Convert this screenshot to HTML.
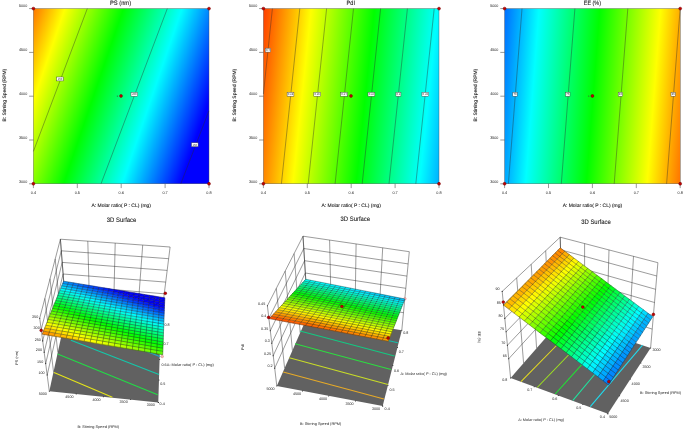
<!DOCTYPE html>
<html lang="en"><head><meta charset="utf-8"><title>Response surface plots</title>
<style>html,body{margin:0;padding:0;background:#fff}svg{display:block}svg text{font-family:"Liberation Sans",sans-serif}</style></head>
<body>
<svg width="685" height="430" viewBox="0 0 685 430" text-rendering="geometricPrecision">
<rect width="685" height="430" fill="#fff"/>
<linearGradient id="g1" gradientUnits="userSpaceOnUse" x1="9.2" y1="0.3" x2="218.9" y2="71.9">
<stop offset="0.0" stop-color="#ff0000"/>
<stop offset="0.25" stop-color="#ffff00"/>
<stop offset="0.5" stop-color="#00ff00"/>
<stop offset="0.75" stop-color="#00ffff"/>
<stop offset="1.0" stop-color="#0000ff"/>
</linearGradient>
<rect x="33.4" y="8.6" width="175.6" height="175.2" fill="url(#g1)" stroke="#4a4a4a" stroke-width="0.4"/>
<line x1="87.3" y1="8.6" x2="33.4" y2="151.4" stroke="#2a2a2a" stroke-width="0.4"/>
<line x1="167.3" y1="8.6" x2="101" y2="183.8" stroke="#2a2a2a" stroke-width="0.4"/>
<line x1="180.8" y1="183.8" x2="208.9" y2="110.9" stroke="#2a2a2a" stroke-width="0.4"/>
<line x1="29.1" y1="8.6" x2="33.4" y2="8.6" stroke="#333" stroke-width="0.5"/>
<text x="27.2" y="7.4" font-size="3.9" text-anchor="end" fill="#202020" textLength="8.2" lengthAdjust="spacingAndGlyphs">5000</text>
<line x1="33.4" y1="183.8" x2="33.4" y2="188.1" stroke="#333" stroke-width="0.5"/>
<text x="33.4" y="193.7" font-size="3.9" text-anchor="middle" fill="#202020" textLength="5.3" lengthAdjust="spacingAndGlyphs">0.4</text>
<line x1="29.1" y1="52.4" x2="33.4" y2="52.4" stroke="#333" stroke-width="0.5"/>
<text x="27.2" y="51.2" font-size="3.9" text-anchor="end" fill="#202020" textLength="8.2" lengthAdjust="spacingAndGlyphs">4500</text>
<line x1="77.3" y1="183.8" x2="77.3" y2="188.1" stroke="#333" stroke-width="0.5"/>
<text x="77.3" y="193.7" font-size="3.9" text-anchor="middle" fill="#202020" textLength="5.3" lengthAdjust="spacingAndGlyphs">0.5</text>
<line x1="29.1" y1="96.2" x2="33.4" y2="96.2" stroke="#333" stroke-width="0.5"/>
<text x="27.2" y="95" font-size="3.9" text-anchor="end" fill="#202020" textLength="8.2" lengthAdjust="spacingAndGlyphs">4000</text>
<line x1="121.2" y1="183.8" x2="121.2" y2="188.1" stroke="#333" stroke-width="0.5"/>
<text x="121.2" y="193.7" font-size="3.9" text-anchor="middle" fill="#202020" textLength="5.3" lengthAdjust="spacingAndGlyphs">0.6</text>
<line x1="29.1" y1="140" x2="33.4" y2="140" stroke="#333" stroke-width="0.5"/>
<text x="27.2" y="138.8" font-size="3.9" text-anchor="end" fill="#202020" textLength="8.2" lengthAdjust="spacingAndGlyphs">3500</text>
<line x1="165.1" y1="183.8" x2="165.1" y2="188.1" stroke="#333" stroke-width="0.5"/>
<text x="165.1" y="193.7" font-size="3.9" text-anchor="middle" fill="#202020" textLength="5.3" lengthAdjust="spacingAndGlyphs">0.7</text>
<line x1="29.1" y1="183.8" x2="33.4" y2="183.8" stroke="#333" stroke-width="0.5"/>
<text x="27.2" y="182.6" font-size="3.9" text-anchor="end" fill="#202020" textLength="8.2" lengthAdjust="spacingAndGlyphs">3000</text>
<line x1="209" y1="183.8" x2="209" y2="188.1" stroke="#333" stroke-width="0.5"/>
<text x="209" y="193.7" font-size="3.9" text-anchor="middle" fill="#202020" textLength="5.3" lengthAdjust="spacingAndGlyphs">0.8</text>
<text x="121.2" y="206.6" font-size="4.9" text-anchor="middle" fill="#1a1a1a" stroke="#1a1a1a" stroke-width="0.1" textLength="59.5" lengthAdjust="spacingAndGlyphs">A: Molar ratio( P : CL) (mg)</text>
<text x="6" y="95.2" font-size="4.9" text-anchor="middle" fill="#1a1a1a" stroke="#1a1a1a" stroke-width="0.1" transform="rotate(-90 6 95.2)" textLength="52.8" lengthAdjust="spacingAndGlyphs">B: Stirring Speed (RPM)</text>
<text x="120.5" y="5.1" font-size="6.3" text-anchor="middle" fill="#1a1a1a" stroke="#1a1a1a" stroke-width="0.1" textLength="21.2" lengthAdjust="spacingAndGlyphs">PS (nm)</text>
<rect x="56.7" y="77" width="6.6" height="3.9" fill="#fff" stroke="#444" stroke-width="0.45"/>
<text x="60" y="80" font-size="2.8" text-anchor="middle" fill="#333">250</text>
<rect x="131" y="92.3" width="6.6" height="3.9" fill="#fff" stroke="#444" stroke-width="0.45"/>
<text x="134.3" y="95.3" font-size="2.8" text-anchor="middle" fill="#333">200</text>
<rect x="191.5" y="142.8" width="6.6" height="3.9" fill="#fff" stroke="#444" stroke-width="0.45"/>
<text x="194.8" y="145.7" font-size="2.8" text-anchor="middle" fill="#333">150</text>
<circle cx="33.4" cy="8.6" r="1.45" fill="#c40000" stroke="#6e0000" stroke-width="0.5"/>
<circle cx="209" cy="8.6" r="1.45" fill="#c40000" stroke="#6e0000" stroke-width="0.5"/>
<circle cx="33.4" cy="183.8" r="1.45" fill="#c40000" stroke="#6e0000" stroke-width="0.5"/>
<circle cx="209" cy="183.8" r="1.45" fill="#c40000" stroke="#6e0000" stroke-width="0.5"/>
<circle cx="121" cy="96" r="1.45" fill="#c40000" stroke="#6e0000" stroke-width="0.5"/>
<text x="117.3" y="96.9" font-size="2.4" text-anchor="middle" fill="#3c5a3c">5</text>
<linearGradient id="g2" gradientUnits="userSpaceOnUse" x1="248.1" y1="7" x2="498.4" y2="33.2">
<stop offset="0.0" stop-color="#ff0000"/>
<stop offset="0.25" stop-color="#ffff00"/>
<stop offset="0.5" stop-color="#00ff00"/>
<stop offset="0.75" stop-color="#00ffff"/>
<stop offset="1.0" stop-color="#0000ff"/>
</linearGradient>
<rect x="263.4" y="8.6" width="175.6" height="175.2" fill="url(#g2)" stroke="#4a4a4a" stroke-width="0.4"/>
<line x1="272.4" y1="8.6" x2="263.4" y2="94" stroke="#2a2a2a" stroke-width="0.4"/>
<line x1="299.8" y1="8.6" x2="281.4" y2="183.8" stroke="#2a2a2a" stroke-width="0.4"/>
<line x1="326.6" y1="8.6" x2="308.2" y2="183.8" stroke="#2a2a2a" stroke-width="0.4"/>
<line x1="353.5" y1="8.6" x2="335.1" y2="183.8" stroke="#2a2a2a" stroke-width="0.4"/>
<line x1="380.6" y1="8.6" x2="362.2" y2="183.8" stroke="#2a2a2a" stroke-width="0.4"/>
<line x1="407.4" y1="8.6" x2="389" y2="183.8" stroke="#2a2a2a" stroke-width="0.4"/>
<line x1="434.2" y1="8.6" x2="415.8" y2="183.8" stroke="#2a2a2a" stroke-width="0.4"/>
<line x1="259.1" y1="8.6" x2="263.4" y2="8.6" stroke="#333" stroke-width="0.5"/>
<text x="257.2" y="7.4" font-size="3.9" text-anchor="end" fill="#202020" textLength="8.2" lengthAdjust="spacingAndGlyphs">5000</text>
<line x1="263.4" y1="183.8" x2="263.4" y2="188.1" stroke="#333" stroke-width="0.5"/>
<text x="263.4" y="193.7" font-size="3.9" text-anchor="middle" fill="#202020" textLength="5.3" lengthAdjust="spacingAndGlyphs">0.4</text>
<line x1="259.1" y1="52.4" x2="263.4" y2="52.4" stroke="#333" stroke-width="0.5"/>
<text x="257.2" y="51.2" font-size="3.9" text-anchor="end" fill="#202020" textLength="8.2" lengthAdjust="spacingAndGlyphs">4500</text>
<line x1="307.3" y1="183.8" x2="307.3" y2="188.1" stroke="#333" stroke-width="0.5"/>
<text x="307.3" y="193.7" font-size="3.9" text-anchor="middle" fill="#202020" textLength="5.3" lengthAdjust="spacingAndGlyphs">0.5</text>
<line x1="259.1" y1="96.2" x2="263.4" y2="96.2" stroke="#333" stroke-width="0.5"/>
<text x="257.2" y="95" font-size="3.9" text-anchor="end" fill="#202020" textLength="8.2" lengthAdjust="spacingAndGlyphs">4000</text>
<line x1="351.2" y1="183.8" x2="351.2" y2="188.1" stroke="#333" stroke-width="0.5"/>
<text x="351.2" y="193.7" font-size="3.9" text-anchor="middle" fill="#202020" textLength="5.3" lengthAdjust="spacingAndGlyphs">0.6</text>
<line x1="259.1" y1="140" x2="263.4" y2="140" stroke="#333" stroke-width="0.5"/>
<text x="257.2" y="138.8" font-size="3.9" text-anchor="end" fill="#202020" textLength="8.2" lengthAdjust="spacingAndGlyphs">3500</text>
<line x1="395.1" y1="183.8" x2="395.1" y2="188.1" stroke="#333" stroke-width="0.5"/>
<text x="395.1" y="193.7" font-size="3.9" text-anchor="middle" fill="#202020" textLength="5.3" lengthAdjust="spacingAndGlyphs">0.7</text>
<line x1="259.1" y1="183.8" x2="263.4" y2="183.8" stroke="#333" stroke-width="0.5"/>
<text x="257.2" y="182.6" font-size="3.9" text-anchor="end" fill="#202020" textLength="8.2" lengthAdjust="spacingAndGlyphs">3000</text>
<line x1="439" y1="183.8" x2="439" y2="188.1" stroke="#333" stroke-width="0.5"/>
<text x="439" y="193.7" font-size="3.9" text-anchor="middle" fill="#202020" textLength="5.3" lengthAdjust="spacingAndGlyphs">0.8</text>
<text x="351.2" y="206.6" font-size="4.9" text-anchor="middle" fill="#1a1a1a" stroke="#1a1a1a" stroke-width="0.1" textLength="59.5" lengthAdjust="spacingAndGlyphs">A: Molar ratio( P : CL) (mg)</text>
<text x="236" y="95.2" font-size="4.9" text-anchor="middle" fill="#1a1a1a" stroke="#1a1a1a" stroke-width="0.1" transform="rotate(-90 236 95.2)" textLength="52.8" lengthAdjust="spacingAndGlyphs">B: Stirring Speed (RPM)</text>
<text x="350.8" y="5.1" font-size="6.3" text-anchor="middle" fill="#1a1a1a" stroke="#1a1a1a" stroke-width="0.1" textLength="8.4" lengthAdjust="spacingAndGlyphs">PdI</text>
<rect x="265.2" y="48.2" width="5.4" height="3.9" fill="#fff" stroke="#444" stroke-width="0.45"/>
<text x="267.9" y="51.2" font-size="2.8" text-anchor="middle" fill="#333">0.4</text>
<rect x="287.1" y="92.3" width="6.8" height="3.9" fill="#fff" stroke="#444" stroke-width="0.45"/>
<text x="290.5" y="95.3" font-size="2.8" text-anchor="middle" fill="#333">0.38</text>
<rect x="313.8" y="92.3" width="6.8" height="3.9" fill="#fff" stroke="#444" stroke-width="0.45"/>
<text x="317.2" y="95.3" font-size="2.8" text-anchor="middle" fill="#333">0.36</text>
<rect x="340.6" y="92.3" width="6.8" height="3.9" fill="#fff" stroke="#444" stroke-width="0.45"/>
<text x="344" y="95.3" font-size="2.8" text-anchor="middle" fill="#333">0.34</text>
<rect x="368" y="92.3" width="6.8" height="3.9" fill="#fff" stroke="#444" stroke-width="0.45"/>
<text x="371.4" y="95.3" font-size="2.8" text-anchor="middle" fill="#333">0.32</text>
<rect x="395.9" y="92.3" width="5" height="3.9" fill="#fff" stroke="#444" stroke-width="0.45"/>
<text x="398.4" y="95.3" font-size="2.8" text-anchor="middle" fill="#333">0.3</text>
<rect x="421.9" y="92.3" width="6.8" height="3.9" fill="#fff" stroke="#444" stroke-width="0.45"/>
<text x="425.3" y="95.3" font-size="2.8" text-anchor="middle" fill="#333">0.28</text>
<circle cx="263.4" cy="8.6" r="1.45" fill="#c40000" stroke="#6e0000" stroke-width="0.5"/>
<circle cx="439" cy="8.6" r="1.45" fill="#c40000" stroke="#6e0000" stroke-width="0.5"/>
<circle cx="263.4" cy="183.8" r="1.45" fill="#c40000" stroke="#6e0000" stroke-width="0.5"/>
<circle cx="439" cy="183.8" r="1.45" fill="#c40000" stroke="#6e0000" stroke-width="0.5"/>
<circle cx="351" cy="96" r="1.45" fill="#c40000" stroke="#6e0000" stroke-width="0.5"/>
<text x="347.3" y="96.9" font-size="2.4" text-anchor="middle" fill="#3c5a3c">5</text>
<linearGradient id="g3" gradientUnits="userSpaceOnUse" x1="720.2" y1="25.3" x2="478.5" y2="6.6">
<stop offset="0.0" stop-color="#ff0000"/>
<stop offset="0.25" stop-color="#ffff00"/>
<stop offset="0.5" stop-color="#00ff00"/>
<stop offset="0.75" stop-color="#00ffff"/>
<stop offset="1.0" stop-color="#0000ff"/>
</linearGradient>
<rect x="504.6" y="8.6" width="175.6" height="175.2" fill="url(#g3)" stroke="#4a4a4a" stroke-width="0.4"/>
<line x1="522" y1="8.6" x2="508.4" y2="183.8" stroke="#2a2a2a" stroke-width="0.4"/>
<line x1="574.9" y1="8.6" x2="561.3" y2="183.8" stroke="#2a2a2a" stroke-width="0.4"/>
<line x1="627.8" y1="8.6" x2="614.2" y2="183.8" stroke="#2a2a2a" stroke-width="0.4"/>
<line x1="680.2" y1="8.6" x2="666.6" y2="183.8" stroke="#2a2a2a" stroke-width="0.4"/>
<line x1="500.3" y1="8.6" x2="504.6" y2="8.6" stroke="#333" stroke-width="0.5"/>
<text x="498.4" y="7.4" font-size="3.9" text-anchor="end" fill="#202020" textLength="8.2" lengthAdjust="spacingAndGlyphs">5000</text>
<line x1="504.6" y1="183.8" x2="504.6" y2="188.1" stroke="#333" stroke-width="0.5"/>
<text x="504.6" y="193.7" font-size="3.9" text-anchor="middle" fill="#202020" textLength="5.3" lengthAdjust="spacingAndGlyphs">0.4</text>
<line x1="500.3" y1="52.4" x2="504.6" y2="52.4" stroke="#333" stroke-width="0.5"/>
<text x="498.4" y="51.2" font-size="3.9" text-anchor="end" fill="#202020" textLength="8.2" lengthAdjust="spacingAndGlyphs">4500</text>
<line x1="548.5" y1="183.8" x2="548.5" y2="188.1" stroke="#333" stroke-width="0.5"/>
<text x="548.5" y="193.7" font-size="3.9" text-anchor="middle" fill="#202020" textLength="5.3" lengthAdjust="spacingAndGlyphs">0.5</text>
<line x1="500.3" y1="96.2" x2="504.6" y2="96.2" stroke="#333" stroke-width="0.5"/>
<text x="498.4" y="95" font-size="3.9" text-anchor="end" fill="#202020" textLength="8.2" lengthAdjust="spacingAndGlyphs">4000</text>
<line x1="592.4" y1="183.8" x2="592.4" y2="188.1" stroke="#333" stroke-width="0.5"/>
<text x="592.4" y="193.7" font-size="3.9" text-anchor="middle" fill="#202020" textLength="5.3" lengthAdjust="spacingAndGlyphs">0.6</text>
<line x1="500.3" y1="140" x2="504.6" y2="140" stroke="#333" stroke-width="0.5"/>
<text x="498.4" y="138.8" font-size="3.9" text-anchor="end" fill="#202020" textLength="8.2" lengthAdjust="spacingAndGlyphs">3500</text>
<line x1="636.3" y1="183.8" x2="636.3" y2="188.1" stroke="#333" stroke-width="0.5"/>
<text x="636.3" y="193.7" font-size="3.9" text-anchor="middle" fill="#202020" textLength="5.3" lengthAdjust="spacingAndGlyphs">0.7</text>
<line x1="500.3" y1="183.8" x2="504.6" y2="183.8" stroke="#333" stroke-width="0.5"/>
<text x="498.4" y="182.6" font-size="3.9" text-anchor="end" fill="#202020" textLength="8.2" lengthAdjust="spacingAndGlyphs">3000</text>
<line x1="680.2" y1="183.8" x2="680.2" y2="188.1" stroke="#333" stroke-width="0.5"/>
<text x="680.2" y="193.7" font-size="3.9" text-anchor="middle" fill="#202020" textLength="5.3" lengthAdjust="spacingAndGlyphs">0.8</text>
<text x="592.4" y="206.6" font-size="4.9" text-anchor="middle" fill="#1a1a1a" stroke="#1a1a1a" stroke-width="0.1" textLength="59.5" lengthAdjust="spacingAndGlyphs">A: Molar ratio( P : CL) (mg)</text>
<text x="477.2" y="95.2" font-size="4.9" text-anchor="middle" fill="#1a1a1a" stroke="#1a1a1a" stroke-width="0.1" transform="rotate(-90 477.2 95.2)" textLength="52.8" lengthAdjust="spacingAndGlyphs">B: Stirring Speed (RPM)</text>
<text x="592.4" y="5.1" font-size="6.3" text-anchor="middle" fill="#1a1a1a" stroke="#1a1a1a" stroke-width="0.1" textLength="17.2" lengthAdjust="spacingAndGlyphs">EE (%)</text>
<rect x="512.8" y="92.3" width="4.4" height="3.9" fill="#fff" stroke="#444" stroke-width="0.45"/>
<text x="515" y="95.3" font-size="2.8" text-anchor="middle" fill="#333">70</text>
<rect x="565.6" y="92.3" width="4.4" height="3.9" fill="#fff" stroke="#444" stroke-width="0.45"/>
<text x="567.8" y="95.3" font-size="2.8" text-anchor="middle" fill="#333">75</text>
<rect x="618.2" y="92.3" width="4.4" height="3.9" fill="#fff" stroke="#444" stroke-width="0.45"/>
<text x="620.4" y="95.3" font-size="2.8" text-anchor="middle" fill="#333">80</text>
<rect x="671" y="92.3" width="4.4" height="3.9" fill="#fff" stroke="#444" stroke-width="0.45"/>
<text x="673.2" y="95.3" font-size="2.8" text-anchor="middle" fill="#333">85</text>
<circle cx="504.6" cy="8.6" r="1.45" fill="#c40000" stroke="#6e0000" stroke-width="0.5"/>
<circle cx="680.2" cy="8.6" r="1.45" fill="#c40000" stroke="#6e0000" stroke-width="0.5"/>
<circle cx="504.6" cy="183.8" r="1.45" fill="#c40000" stroke="#6e0000" stroke-width="0.5"/>
<circle cx="680.2" cy="183.8" r="1.45" fill="#c40000" stroke="#6e0000" stroke-width="0.5"/>
<circle cx="592.4" cy="96" r="1.45" fill="#c40000" stroke="#6e0000" stroke-width="0.5"/>
<text x="588.7" y="96.9" font-size="2.4" text-anchor="middle" fill="#3c5a3c">5</text>
<text x="121.6" y="222" font-size="6.5" text-anchor="middle" fill="#1a1a1a" stroke="#1a1a1a" stroke-width="0.1" textLength="29.5" lengthAdjust="spacingAndGlyphs">3D Surface</text>
<path d="M39.7 318.2L49.3 391.2M44.9 298.4L53.5 371.8M50 278.7L57.8 352.4M55.2 258.9L62 333.1M60.4 239.2L66.2 313.7M39.7 318.2L60.4 239.2M41.2 329.6L61.3 250.8M42.7 340.9L62.2 262.4M44.2 352.3L63.1 274M45.7 363.6L64 285.5M47.2 375L64.9 297.1" fill="none" stroke="#222" stroke-width="0.45"/>
<path d="M60.4 239.2L66.2 313.7M87.8 241.1L89.8 315.8M115.2 243.1L113.4 318M142.7 245.1L137.1 320.2M170.1 247L160.7 322.3M60.4 239.2L170.1 247M61.3 250.8L168.6 258.7M62.2 262.4L167.2 270.4M63.1 274L165.7 282.1M64 285.5L164.3 293.8M64.9 297.1L162.8 305.5" fill="none" stroke="#222" stroke-width="0.45"/>
<polygon points="66.2,313.7 160.7,322.3 158.3,402.4 49.3,391.2" fill="#616161" stroke="none" stroke-width="0.5"/>
<line x1="54" y1="372.4" x2="112.4" y2="397.3" stroke="#e6e619" stroke-width="1.05"/>
<line x1="57.6" y1="354" x2="157.7" y2="394.8" stroke="#22dc46" stroke-width="1.05"/>
<line x1="70.9" y1="340.2" x2="159" y2="374.4" stroke="#14c8aa" stroke-width="1.05"/>
<line x1="130" y1="345" x2="160.4" y2="356.7" stroke="#1eaac8" stroke-width="1.05"/>
<circle cx="39.7" cy="318.2" r="0.55" fill="#222"/>
<circle cx="41.2" cy="329.6" r="0.55" fill="#222"/>
<circle cx="42.7" cy="340.9" r="0.55" fill="#222"/>
<circle cx="44.2" cy="352.3" r="0.55" fill="#222"/>
<circle cx="45.7" cy="363.6" r="0.55" fill="#222"/>
<circle cx="47.2" cy="375" r="0.55" fill="#222"/>
<circle cx="49.3" cy="391.2" r="0.5" fill="#222"/>
<circle cx="158.3" cy="402.4" r="0.5" fill="#222"/>
<circle cx="76.2" cy="394" r="0.5" fill="#222"/>
<circle cx="159" cy="380.1" r="0.5" fill="#222"/>
<circle cx="103.4" cy="396.8" r="0.5" fill="#222"/>
<circle cx="159.6" cy="359.4" r="0.5" fill="#222"/>
<circle cx="130.7" cy="399.6" r="0.5" fill="#222"/>
<circle cx="160.2" cy="340.2" r="0.5" fill="#222"/>
<circle cx="158.3" cy="402.4" r="0.5" fill="#222"/>
<circle cx="160.7" cy="322.3" r="0.5" fill="#222"/>
<circle cx="162.2" cy="356.5" r="1.3" fill="#f4b6b6" stroke="#d08080" stroke-width="0.5"/>
<g stroke-width="0.3" stroke-linejoin="round">
<path d="M42.2 334.2L48.2 335.2L49.3 332.1L43.4 331.1Z" fill="#ff9000" stroke="#ff9000"/>
<path d="M43.4 331.1L49.3 332.1L50.5 329.1L44.6 328.1Z" fill="#ffb600" stroke="#ffb600"/>
<path d="M44.6 328.1L50.5 329.1L51.6 326.2L45.8 325.2Z" fill="#ffdc00" stroke="#ffdc00"/>
<path d="M45.8 325.2L51.6 326.2L52.8 323.2L47 322.3Z" fill="#fbff00" stroke="#fbff00"/>
<path d="M47 322.3L52.8 323.2L53.9 320.4L48.2 319.4Z" fill="#d5ff00" stroke="#d5ff00"/>
<path d="M48.2 319.4L53.9 320.4L55 317.5L49.3 316.6Z" fill="#afff00" stroke="#afff00"/>
<path d="M49.3 316.6L55 317.5L56 314.8L50.4 313.8Z" fill="#89ff00" stroke="#89ff00"/>
<path d="M50.4 313.8L56 314.8L57.1 312L51.5 311.1Z" fill="#62ff00" stroke="#62ff00"/>
<path d="M51.5 311.1L57.1 312L58.1 309.3L52.6 308.4Z" fill="#3cff00" stroke="#3cff00"/>
<path d="M52.6 308.4L58.1 309.3L59.1 306.6L53.7 305.7Z" fill="#16ff00" stroke="#16ff00"/>
<path d="M53.7 305.7L59.1 306.6L60.2 304L54.7 303.1Z" fill="#00ff10" stroke="#00ff10"/>
<path d="M54.7 303.1L60.2 304L61.2 301.4L55.8 300.5Z" fill="#00ff37" stroke="#00ff37"/>
<path d="M55.8 300.5L61.2 301.4L62.1 298.9L56.8 298Z" fill="#00ff5d" stroke="#00ff5d"/>
<path d="M56.8 298L62.1 298.9L63.1 296.4L57.8 295.5Z" fill="#00ff83" stroke="#00ff83"/>
<path d="M57.8 295.5L63.1 296.4L64 293.9L58.8 293Z" fill="#00ffa9" stroke="#00ffa9"/>
<path d="M58.8 293L64 293.9L65 291.5L59.8 290.6Z" fill="#00ffd0" stroke="#00ffd0"/>
<path d="M59.8 290.6L65 291.5L65.9 289.1L60.8 288.2Z" fill="#00fff6" stroke="#00fff6"/>
<path d="M60.8 288.2L65.9 289.1L66.8 286.7L61.7 285.8Z" fill="#00e2ff" stroke="#00e2ff"/>
<path d="M61.7 285.8L66.8 286.7L67.7 284.3L62.7 283.5Z" fill="#00bcff" stroke="#00bcff"/>
<path d="M62.7 283.5L67.7 284.3L68.6 282L63.6 281.2Z" fill="#0095ff" stroke="#0095ff"/>
<path d="M48.2 335.2L54.1 336.2L55.3 333.2L49.3 332.1Z" fill="#ff9f00" stroke="#ff9f00"/>
<path d="M49.3 332.1L55.3 333.2L56.4 330.1L50.5 329.1Z" fill="#ffc500" stroke="#ffc500"/>
<path d="M50.5 329.1L56.4 330.1L57.5 327.1L51.6 326.2Z" fill="#ffeb00" stroke="#ffeb00"/>
<path d="M51.6 326.2L57.5 327.1L58.5 324.2L52.8 323.2Z" fill="#edff00" stroke="#edff00"/>
<path d="M52.8 323.2L58.5 324.2L59.6 321.3L53.9 320.4Z" fill="#c7ff00" stroke="#c7ff00"/>
<path d="M53.9 320.4L59.6 321.3L60.6 318.5L55 317.5Z" fill="#a0ff00" stroke="#a0ff00"/>
<path d="M55 317.5L60.6 318.5L61.6 315.7L56 314.8Z" fill="#7aff00" stroke="#7aff00"/>
<path d="M56 314.8L61.6 315.7L62.6 312.9L57.1 312Z" fill="#54ff00" stroke="#54ff00"/>
<path d="M57.1 312L62.6 312.9L63.6 310.2L58.1 309.3Z" fill="#2eff00" stroke="#2eff00"/>
<path d="M58.1 309.3L63.6 310.2L64.6 307.6L59.1 306.6Z" fill="#07ff00" stroke="#07ff00"/>
<path d="M59.1 306.6L64.6 307.6L65.6 304.9L60.2 304Z" fill="#00ff1f" stroke="#00ff1f"/>
<path d="M60.2 304L65.6 304.9L66.5 302.3L61.2 301.4Z" fill="#00ff45" stroke="#00ff45"/>
<path d="M61.2 301.4L66.5 302.3L67.5 299.8L62.1 298.9Z" fill="#00ff6b" stroke="#00ff6b"/>
<path d="M62.1 298.9L67.5 299.8L68.4 297.3L63.1 296.4Z" fill="#00ff92" stroke="#00ff92"/>
<path d="M63.1 296.4L68.4 297.3L69.3 294.8L64 293.9Z" fill="#00ffb8" stroke="#00ffb8"/>
<path d="M64 293.9L69.3 294.8L70.2 292.3L65 291.5Z" fill="#00ffde" stroke="#00ffde"/>
<path d="M65 291.5L70.2 292.3L71.1 289.9L65.9 289.1Z" fill="#00faff" stroke="#00faff"/>
<path d="M65.9 289.1L71.1 289.9L71.9 287.5L66.8 286.7Z" fill="#00d3ff" stroke="#00d3ff"/>
<path d="M66.8 286.7L71.9 287.5L72.8 285.2L67.7 284.3Z" fill="#00adff" stroke="#00adff"/>
<path d="M67.7 284.3L72.8 285.2L73.6 282.8L68.6 282Z" fill="#0087ff" stroke="#0087ff"/>
<path d="M54.1 336.2L60.1 337.2L61.2 334.2L55.3 333.2Z" fill="#ffad00" stroke="#ffad00"/>
<path d="M55.3 333.2L61.2 334.2L62.2 331.1L56.4 330.1Z" fill="#ffd300" stroke="#ffd300"/>
<path d="M56.4 330.1L62.2 331.1L63.3 328.1L57.5 327.1Z" fill="#fffa00" stroke="#fffa00"/>
<path d="M57.5 327.1L63.3 328.1L64.3 325.2L58.5 324.2Z" fill="#deff00" stroke="#deff00"/>
<path d="M58.5 324.2L64.3 325.2L65.3 322.3L59.6 321.3Z" fill="#b8ff00" stroke="#b8ff00"/>
<path d="M59.6 321.3L65.3 322.3L66.3 319.4L60.6 318.5Z" fill="#92ff00" stroke="#92ff00"/>
<path d="M60.6 318.5L66.3 319.4L67.2 316.6L61.6 315.7Z" fill="#6bff00" stroke="#6bff00"/>
<path d="M61.6 315.7L67.2 316.6L68.2 313.9L62.6 312.9Z" fill="#45ff00" stroke="#45ff00"/>
<path d="M62.6 312.9L68.2 313.9L69.1 311.2L63.6 310.2Z" fill="#1fff00" stroke="#1fff00"/>
<path d="M63.6 310.2L69.1 311.2L70.1 308.5L64.6 307.6Z" fill="#00ff07" stroke="#00ff07"/>
<path d="M64.6 307.6L70.1 308.5L71 305.8L65.6 304.9Z" fill="#00ff2d" stroke="#00ff2d"/>
<path d="M65.6 304.9L71 305.8L71.9 303.2L66.5 302.3Z" fill="#00ff54" stroke="#00ff54"/>
<path d="M66.5 302.3L71.9 303.2L72.8 300.7L67.5 299.8Z" fill="#00ff7a" stroke="#00ff7a"/>
<path d="M67.5 299.8L72.8 300.7L73.7 298.1L68.4 297.3Z" fill="#00ffa0" stroke="#00ffa0"/>
<path d="M68.4 297.3L73.7 298.1L74.5 295.6L69.3 294.8Z" fill="#00ffc6" stroke="#00ffc6"/>
<path d="M69.3 294.8L74.5 295.6L75.4 293.2L70.2 292.3Z" fill="#00ffed" stroke="#00ffed"/>
<path d="M70.2 292.3L75.4 293.2L76.2 290.8L71.1 289.9Z" fill="#00ebff" stroke="#00ebff"/>
<path d="M71.1 289.9L76.2 290.8L77 288.4L71.9 287.5Z" fill="#00c5ff" stroke="#00c5ff"/>
<path d="M71.9 287.5L77 288.4L77.9 286L72.8 285.2Z" fill="#009fff" stroke="#009fff"/>
<path d="M72.8 285.2L77.9 286L78.7 283.7L73.6 282.8Z" fill="#0078ff" stroke="#0078ff"/>
<path d="M60.1 337.2L66.1 338.3L67.1 335.2L61.2 334.2Z" fill="#ffbc00" stroke="#ffbc00"/>
<path d="M61.2 334.2L67.1 335.2L68.1 332.1L62.2 331.1Z" fill="#ffe200" stroke="#ffe200"/>
<path d="M62.2 331.1L68.1 332.1L69.1 329.1L63.3 328.1Z" fill="#f6ff00" stroke="#f6ff00"/>
<path d="M63.3 328.1L69.1 329.1L70.1 326.2L64.3 325.2Z" fill="#d0ff00" stroke="#d0ff00"/>
<path d="M64.3 325.2L70.1 326.2L71 323.3L65.3 322.3Z" fill="#a9ff00" stroke="#a9ff00"/>
<path d="M65.3 322.3L71 323.3L71.9 320.4L66.3 319.4Z" fill="#83ff00" stroke="#83ff00"/>
<path d="M66.3 319.4L71.9 320.4L72.9 317.6L67.2 316.6Z" fill="#5dff00" stroke="#5dff00"/>
<path d="M67.2 316.6L72.9 317.6L73.8 314.8L68.2 313.9Z" fill="#37ff00" stroke="#37ff00"/>
<path d="M68.2 313.9L73.8 314.8L74.7 312.1L69.1 311.2Z" fill="#10ff00" stroke="#10ff00"/>
<path d="M69.1 311.2L74.7 312.1L75.5 309.4L70.1 308.5Z" fill="#00ff16" stroke="#00ff16"/>
<path d="M70.1 308.5L75.5 309.4L76.4 306.7L71 305.8Z" fill="#00ff3c" stroke="#00ff3c"/>
<path d="M71 305.8L76.4 306.7L77.3 304.1L71.9 303.2Z" fill="#00ff62" stroke="#00ff62"/>
<path d="M71.9 303.2L77.3 304.1L78.1 301.5L72.8 300.7Z" fill="#00ff88" stroke="#00ff88"/>
<path d="M72.8 300.7L78.1 301.5L78.9 299L73.7 298.1Z" fill="#00ffaf" stroke="#00ffaf"/>
<path d="M73.7 298.1L78.9 299L79.8 296.5L74.5 295.6Z" fill="#00ffd5" stroke="#00ffd5"/>
<path d="M74.5 295.6L79.8 296.5L80.6 294L75.4 293.2Z" fill="#00fffb" stroke="#00fffb"/>
<path d="M75.4 293.2L80.6 294L81.4 291.6L76.2 290.8Z" fill="#00ddff" stroke="#00ddff"/>
<path d="M76.2 290.8L81.4 291.6L82.2 289.2L77 288.4Z" fill="#00b6ff" stroke="#00b6ff"/>
<path d="M77 288.4L82.2 289.2L82.9 286.8L77.9 286Z" fill="#0090ff" stroke="#0090ff"/>
<path d="M77.9 286L82.9 286.8L83.7 284.5L78.7 283.7Z" fill="#006aff" stroke="#006aff"/>
<path d="M66.1 338.3L72.1 339.3L73 336.2L67.1 335.2Z" fill="#ffca00" stroke="#ffca00"/>
<path d="M67.1 335.2L73 336.2L74 333.1L68.1 332.1Z" fill="#fff000" stroke="#fff000"/>
<path d="M68.1 332.1L74 333.1L74.9 330.1L69.1 329.1Z" fill="#e7ff00" stroke="#e7ff00"/>
<path d="M69.1 329.1L74.9 330.1L75.8 327.1L70.1 326.2Z" fill="#c1ff00" stroke="#c1ff00"/>
<path d="M70.1 326.2L75.8 327.1L76.7 324.2L71 323.3Z" fill="#9bff00" stroke="#9bff00"/>
<path d="M71 323.3L76.7 324.2L77.6 321.3L71.9 320.4Z" fill="#75ff00" stroke="#75ff00"/>
<path d="M71.9 320.4L77.6 321.3L78.5 318.5L72.9 317.6Z" fill="#4eff00" stroke="#4eff00"/>
<path d="M72.9 317.6L78.5 318.5L79.3 315.7L73.8 314.8Z" fill="#28ff00" stroke="#28ff00"/>
<path d="M73.8 314.8L79.3 315.7L80.2 313L74.7 312.1Z" fill="#02ff00" stroke="#02ff00"/>
<path d="M74.7 312.1L80.2 313L81 310.3L75.5 309.4Z" fill="#00ff24" stroke="#00ff24"/>
<path d="M75.5 309.4L81 310.3L81.8 307.6L76.4 306.7Z" fill="#00ff4b" stroke="#00ff4b"/>
<path d="M76.4 306.7L81.8 307.6L82.7 305L77.3 304.1Z" fill="#00ff71" stroke="#00ff71"/>
<path d="M77.3 304.1L82.7 305L83.4 302.4L78.1 301.5Z" fill="#00ff97" stroke="#00ff97"/>
<path d="M78.1 301.5L83.4 302.4L84.2 299.9L78.9 299Z" fill="#00ffbd" stroke="#00ffbd"/>
<path d="M78.9 299L84.2 299.9L85 297.4L79.8 296.5Z" fill="#00ffe3" stroke="#00ffe3"/>
<path d="M79.8 296.5L85 297.4L85.8 294.9L80.6 294Z" fill="#00f4ff" stroke="#00f4ff"/>
<path d="M80.6 294L85.8 294.9L86.5 292.5L81.4 291.6Z" fill="#00ceff" stroke="#00ceff"/>
<path d="M81.4 291.6L86.5 292.5L87.3 290L82.2 289.2Z" fill="#00a8ff" stroke="#00a8ff"/>
<path d="M82.2 289.2L87.3 290L88 287.7L82.9 286.8Z" fill="#0082ff" stroke="#0082ff"/>
<path d="M82.9 286.8L88 287.7L88.7 285.3L83.7 284.5Z" fill="#005bff" stroke="#005bff"/>
<path d="M72.1 339.3L78.1 340.3L79 337.2L73 336.2Z" fill="#ffd900" stroke="#ffd900"/>
<path d="M73 336.2L79 337.2L79.9 334.1L74 333.1Z" fill="#ffff00" stroke="#ffff00"/>
<path d="M74 333.1L79.9 334.1L80.7 331.1L74.9 330.1Z" fill="#d9ff00" stroke="#d9ff00"/>
<path d="M74.9 330.1L80.7 331.1L81.6 328.1L75.8 327.1Z" fill="#b3ff00" stroke="#b3ff00"/>
<path d="M75.8 327.1L81.6 328.1L82.5 325.2L76.7 324.2Z" fill="#8cff00" stroke="#8cff00"/>
<path d="M76.7 324.2L82.5 325.2L83.3 322.3L77.6 321.3Z" fill="#66ff00" stroke="#66ff00"/>
<path d="M77.6 321.3L83.3 322.3L84.1 319.5L78.5 318.5Z" fill="#40ff00" stroke="#40ff00"/>
<path d="M78.5 318.5L84.1 319.5L84.9 316.7L79.3 315.7Z" fill="#1aff00" stroke="#1aff00"/>
<path d="M79.3 315.7L84.9 316.7L85.7 313.9L80.2 313Z" fill="#00ff0d" stroke="#00ff0d"/>
<path d="M80.2 313L85.7 313.9L86.5 311.2L81 310.3Z" fill="#00ff33" stroke="#00ff33"/>
<path d="M81 310.3L86.5 311.2L87.3 308.5L81.8 307.6Z" fill="#00ff59" stroke="#00ff59"/>
<path d="M81.8 307.6L87.3 308.5L88 305.9L82.7 305Z" fill="#00ff7f" stroke="#00ff7f"/>
<path d="M82.7 305L88 305.9L88.8 303.3L83.4 302.4Z" fill="#00ffa6" stroke="#00ffa6"/>
<path d="M83.4 302.4L88.8 303.3L89.5 300.8L84.2 299.9Z" fill="#00ffcc" stroke="#00ffcc"/>
<path d="M84.2 299.9L89.5 300.8L90.3 298.2L85 297.4Z" fill="#00fff2" stroke="#00fff2"/>
<path d="M85 297.4L90.3 298.2L91 295.8L85.8 294.9Z" fill="#00e6ff" stroke="#00e6ff"/>
<path d="M85.8 294.9L91 295.8L91.7 293.3L86.5 292.5Z" fill="#00bfff" stroke="#00bfff"/>
<path d="M86.5 292.5L91.7 293.3L92.4 290.9L87.3 290Z" fill="#0099ff" stroke="#0099ff"/>
<path d="M87.3 290L92.4 290.9L93.1 288.5L88 287.7Z" fill="#0073ff" stroke="#0073ff"/>
<path d="M88 287.7L93.1 288.5L93.8 286.1L88.7 285.3Z" fill="#004dff" stroke="#004dff"/>
<path d="M78.1 340.3L84.1 341.3L84.9 338.2L79 337.2Z" fill="#ffe700" stroke="#ffe700"/>
<path d="M79 337.2L84.9 338.2L85.8 335.1L79.9 334.1Z" fill="#f1ff00" stroke="#f1ff00"/>
<path d="M79.9 334.1L85.8 335.1L86.6 332.1L80.7 331.1Z" fill="#caff00" stroke="#caff00"/>
<path d="M80.7 331.1L86.6 332.1L87.4 329.1L81.6 328.1Z" fill="#a4ff00" stroke="#a4ff00"/>
<path d="M81.6 328.1L87.4 329.1L88.2 326.2L82.5 325.2Z" fill="#7eff00" stroke="#7eff00"/>
<path d="M82.5 325.2L88.2 326.2L89 323.3L83.3 322.3Z" fill="#58ff00" stroke="#58ff00"/>
<path d="M83.3 322.3L89 323.3L89.7 320.4L84.1 319.5Z" fill="#31ff00" stroke="#31ff00"/>
<path d="M84.1 319.5L89.7 320.4L90.5 317.6L84.9 316.7Z" fill="#0bff00" stroke="#0bff00"/>
<path d="M84.9 316.7L90.5 317.6L91.3 314.8L85.7 313.9Z" fill="#00ff1b" stroke="#00ff1b"/>
<path d="M85.7 313.9L91.3 314.8L92 312.1L86.5 311.2Z" fill="#00ff41" stroke="#00ff41"/>
<path d="M86.5 311.2L92 312.1L92.7 309.4L87.3 308.5Z" fill="#00ff68" stroke="#00ff68"/>
<path d="M87.3 308.5L92.7 309.4L93.4 306.8L88 305.9Z" fill="#00ff8e" stroke="#00ff8e"/>
<path d="M88 305.9L93.4 306.8L94.1 304.2L88.8 303.3Z" fill="#00ffb4" stroke="#00ffb4"/>
<path d="M88.8 303.3L94.1 304.2L94.8 301.6L89.5 300.8Z" fill="#00ffda" stroke="#00ffda"/>
<path d="M89.5 300.8L94.8 301.6L95.5 299.1L90.3 298.2Z" fill="#00fdff" stroke="#00fdff"/>
<path d="M90.3 298.2L95.5 299.1L96.2 296.6L91 295.8Z" fill="#00d7ff" stroke="#00d7ff"/>
<path d="M91 295.8L96.2 296.6L96.9 294.2L91.7 293.3Z" fill="#00b1ff" stroke="#00b1ff"/>
<path d="M91.7 293.3L96.9 294.2L97.5 291.7L92.4 290.9Z" fill="#008bff" stroke="#008bff"/>
<path d="M92.4 290.9L97.5 291.7L98.2 289.3L93.1 288.5Z" fill="#0064ff" stroke="#0064ff"/>
<path d="M93.1 288.5L98.2 289.3L98.8 287L93.8 286.1Z" fill="#003eff" stroke="#003eff"/>
<path d="M84.1 341.3L90.1 342.3L90.9 339.2L84.9 338.2Z" fill="#fff600" stroke="#fff600"/>
<path d="M84.9 338.2L90.9 339.2L91.7 336.1L85.8 335.1Z" fill="#e2ff00" stroke="#e2ff00"/>
<path d="M85.8 335.1L91.7 336.1L92.4 333.1L86.6 332.1Z" fill="#bcff00" stroke="#bcff00"/>
<path d="M86.6 332.1L92.4 333.1L93.2 330.1L87.4 329.1Z" fill="#96ff00" stroke="#96ff00"/>
<path d="M87.4 329.1L93.2 330.1L93.9 327.1L88.2 326.2Z" fill="#6fff00" stroke="#6fff00"/>
<path d="M88.2 326.2L93.9 327.1L94.7 324.2L89 323.3Z" fill="#49ff00" stroke="#49ff00"/>
<path d="M89 323.3L94.7 324.2L95.4 321.4L89.7 320.4Z" fill="#23ff00" stroke="#23ff00"/>
<path d="M89.7 320.4L95.4 321.4L96.1 318.5L90.5 317.6Z" fill="#00ff03" stroke="#00ff03"/>
<path d="M90.5 317.6L96.1 318.5L96.8 315.8L91.3 314.8Z" fill="#00ff2a" stroke="#00ff2a"/>
<path d="M91.3 314.8L96.8 315.8L97.5 313L92 312.1Z" fill="#00ff50" stroke="#00ff50"/>
<path d="M92 312.1L97.5 313L98.2 310.4L92.7 309.4Z" fill="#00ff76" stroke="#00ff76"/>
<path d="M92.7 309.4L98.2 310.4L98.8 307.7L93.4 306.8Z" fill="#00ff9c" stroke="#00ff9c"/>
<path d="M93.4 306.8L98.8 307.7L99.5 305.1L94.1 304.2Z" fill="#00ffc3" stroke="#00ffc3"/>
<path d="M94.1 304.2L99.5 305.1L100.1 302.5L94.8 301.6Z" fill="#00ffe9" stroke="#00ffe9"/>
<path d="M94.8 301.6L100.1 302.5L100.8 300L95.5 299.1Z" fill="#00efff" stroke="#00efff"/>
<path d="M95.5 299.1L100.8 300L101.4 297.5L96.2 296.6Z" fill="#00c9ff" stroke="#00c9ff"/>
<path d="M96.2 296.6L101.4 297.5L102 295L96.9 294.2Z" fill="#00a2ff" stroke="#00a2ff"/>
<path d="M96.9 294.2L102 295L102.7 292.6L97.5 291.7Z" fill="#007cff" stroke="#007cff"/>
<path d="M97.5 291.7L102.7 292.6L103.3 290.2L98.2 289.3Z" fill="#0056ff" stroke="#0056ff"/>
<path d="M98.2 289.3L103.3 290.2L103.9 287.8L98.8 287Z" fill="#0030ff" stroke="#0030ff"/>
<path d="M90.1 342.3L96.1 343.4L96.8 340.2L90.9 339.2Z" fill="#faff00" stroke="#faff00"/>
<path d="M90.9 339.2L96.8 340.2L97.6 337.1L91.7 336.1Z" fill="#d3ff00" stroke="#d3ff00"/>
<path d="M91.7 336.1L97.6 337.1L98.3 334.1L92.4 333.1Z" fill="#adff00" stroke="#adff00"/>
<path d="M92.4 333.1L98.3 334.1L99 331L93.2 330.1Z" fill="#87ff00" stroke="#87ff00"/>
<path d="M93.2 330.1L99 331L99.7 328.1L93.9 327.1Z" fill="#61ff00" stroke="#61ff00"/>
<path d="M93.9 327.1L99.7 328.1L100.4 325.2L94.7 324.2Z" fill="#3bff00" stroke="#3bff00"/>
<path d="M94.7 324.2L100.4 325.2L101 322.3L95.4 321.4Z" fill="#14ff00" stroke="#14ff00"/>
<path d="M95.4 321.4L101 322.3L101.7 319.5L96.1 318.5Z" fill="#00ff12" stroke="#00ff12"/>
<path d="M96.1 318.5L101.7 319.5L102.3 316.7L96.8 315.8Z" fill="#00ff38" stroke="#00ff38"/>
<path d="M96.8 315.8L102.3 316.7L103 314L97.5 313Z" fill="#00ff5e" stroke="#00ff5e"/>
<path d="M97.5 313L103 314L103.6 311.3L98.2 310.4Z" fill="#00ff85" stroke="#00ff85"/>
<path d="M98.2 310.4L103.6 311.3L104.2 308.6L98.8 307.7Z" fill="#00ffab" stroke="#00ffab"/>
<path d="M98.8 307.7L104.2 308.6L104.8 306L99.5 305.1Z" fill="#00ffd1" stroke="#00ffd1"/>
<path d="M99.5 305.1L104.8 306L105.5 303.4L100.1 302.5Z" fill="#00fff7" stroke="#00fff7"/>
<path d="M100.1 302.5L105.5 303.4L106 300.9L100.8 300Z" fill="#00e0ff" stroke="#00e0ff"/>
<path d="M100.8 300L106 300.9L106.6 298.3L101.4 297.5Z" fill="#00baff" stroke="#00baff"/>
<path d="M101.4 297.5L106.6 298.3L107.2 295.9L102 295Z" fill="#0094ff" stroke="#0094ff"/>
<path d="M102 295L107.2 295.9L107.8 293.4L102.7 292.6Z" fill="#006eff" stroke="#006eff"/>
<path d="M102.7 292.6L107.8 293.4L108.4 291L103.3 290.2Z" fill="#0047ff" stroke="#0047ff"/>
<path d="M103.3 290.2L108.4 291L108.9 288.6L103.9 287.8Z" fill="#0021ff" stroke="#0021ff"/>
<path d="M96.1 343.4L102.1 344.4L102.8 341.2L96.8 340.2Z" fill="#ebff00" stroke="#ebff00"/>
<path d="M96.8 340.2L102.8 341.2L103.5 338.1L97.6 337.1Z" fill="#c5ff00" stroke="#c5ff00"/>
<path d="M97.6 337.1L103.5 338.1L104.1 335L98.3 334.1Z" fill="#9fff00" stroke="#9fff00"/>
<path d="M98.3 334.1L104.1 335L104.8 332L99 331Z" fill="#78ff00" stroke="#78ff00"/>
<path d="M99 331L104.8 332L105.4 329.1L99.7 328.1Z" fill="#52ff00" stroke="#52ff00"/>
<path d="M99.7 328.1L105.4 329.1L106.1 326.1L100.4 325.2Z" fill="#2cff00" stroke="#2cff00"/>
<path d="M100.4 325.2L106.1 326.1L106.7 323.3L101 322.3Z" fill="#06ff00" stroke="#06ff00"/>
<path d="M101 322.3L106.7 323.3L107.3 320.4L101.7 319.5Z" fill="#00ff20" stroke="#00ff20"/>
<path d="M101.7 319.5L107.3 320.4L107.9 317.6L102.3 316.7Z" fill="#00ff47" stroke="#00ff47"/>
<path d="M102.3 316.7L107.9 317.6L108.5 314.9L103 314Z" fill="#00ff6d" stroke="#00ff6d"/>
<path d="M103 314L108.5 314.9L109.1 312.2L103.6 311.3Z" fill="#00ff93" stroke="#00ff93"/>
<path d="M103.6 311.3L109.1 312.2L109.6 309.5L104.2 308.6Z" fill="#00ffb9" stroke="#00ffb9"/>
<path d="M104.2 308.6L109.6 309.5L110.2 306.9L104.8 306Z" fill="#00ffe0" stroke="#00ffe0"/>
<path d="M104.8 306L110.2 306.9L110.8 304.3L105.5 303.4Z" fill="#00f8ff" stroke="#00f8ff"/>
<path d="M105.5 303.4L110.8 304.3L111.3 301.7L106 300.9Z" fill="#00d2ff" stroke="#00d2ff"/>
<path d="M106 300.9L111.3 301.7L111.9 299.2L106.6 298.3Z" fill="#00acff" stroke="#00acff"/>
<path d="M106.6 298.3L111.9 299.2L112.4 296.7L107.2 295.9Z" fill="#0085ff" stroke="#0085ff"/>
<path d="M107.2 295.9L112.4 296.7L112.9 294.3L107.8 293.4Z" fill="#005fff" stroke="#005fff"/>
<path d="M107.8 293.4L112.9 294.3L113.5 291.8L108.4 291Z" fill="#0039ff" stroke="#0039ff"/>
<path d="M108.4 291L113.5 291.8L114 289.5L108.9 288.6Z" fill="#0013ff" stroke="#0013ff"/>
<path d="M102.1 344.4L108.1 345.4L108.8 342.2L102.8 341.2Z" fill="#ddff00" stroke="#ddff00"/>
<path d="M102.8 341.2L108.8 342.2L109.4 339.1L103.5 338.1Z" fill="#b6ff00" stroke="#b6ff00"/>
<path d="M103.5 338.1L109.4 339.1L110 336L104.1 335Z" fill="#90ff00" stroke="#90ff00"/>
<path d="M104.1 335L110 336L110.6 333L104.8 332Z" fill="#6aff00" stroke="#6aff00"/>
<path d="M104.8 332L110.6 333L111.2 330L105.4 329.1Z" fill="#44ff00" stroke="#44ff00"/>
<path d="M105.4 329.1L111.2 330L111.8 327.1L106.1 326.1Z" fill="#1dff00" stroke="#1dff00"/>
<path d="M106.1 326.1L111.8 327.1L112.3 324.2L106.7 323.3Z" fill="#00ff09" stroke="#00ff09"/>
<path d="M106.7 323.3L112.3 324.2L112.9 321.4L107.3 320.4Z" fill="#00ff2f" stroke="#00ff2f"/>
<path d="M107.3 320.4L112.9 321.4L113.5 318.6L107.9 317.6Z" fill="#00ff55" stroke="#00ff55"/>
<path d="M107.9 317.6L113.5 318.6L114 315.8L108.5 314.9Z" fill="#00ff7c" stroke="#00ff7c"/>
<path d="M108.5 314.9L114 315.8L114.5 313.1L109.1 312.2Z" fill="#00ffa2" stroke="#00ffa2"/>
<path d="M109.1 312.2L114.5 313.1L115.1 310.4L109.6 309.5Z" fill="#00ffc8" stroke="#00ffc8"/>
<path d="M109.6 309.5L115.1 310.4L115.6 307.8L110.2 306.9Z" fill="#00ffee" stroke="#00ffee"/>
<path d="M110.2 306.9L115.6 307.8L116.1 305.2L110.8 304.3Z" fill="#00eaff" stroke="#00eaff"/>
<path d="M110.8 304.3L116.1 305.2L116.6 302.6L111.3 301.7Z" fill="#00c3ff" stroke="#00c3ff"/>
<path d="M111.3 301.7L116.6 302.6L117.1 300.1L111.9 299.2Z" fill="#009dff" stroke="#009dff"/>
<path d="M111.9 299.2L117.1 300.1L117.6 297.6L112.4 296.7Z" fill="#0077ff" stroke="#0077ff"/>
<path d="M112.4 296.7L117.6 297.6L118.1 295.1L112.9 294.3Z" fill="#0051ff" stroke="#0051ff"/>
<path d="M112.9 294.3L118.1 295.1L118.6 292.7L113.5 291.8Z" fill="#002aff" stroke="#002aff"/>
<path d="M113.5 291.8L118.6 292.7L119 290.3L114 289.5Z" fill="#0004ff" stroke="#0004ff"/>
<path d="M108.1 345.4L114.2 346.4L114.8 343.3L108.8 342.2Z" fill="#ceff00" stroke="#ceff00"/>
<path d="M108.8 342.2L114.8 343.3L115.3 340.1L109.4 339.1Z" fill="#a8ff00" stroke="#a8ff00"/>
<path d="M109.4 339.1L115.3 340.1L115.9 337L110 336Z" fill="#82ff00" stroke="#82ff00"/>
<path d="M110 336L115.9 337L116.4 334L110.6 333Z" fill="#5bff00" stroke="#5bff00"/>
<path d="M110.6 333L116.4 334L117 331L111.2 330Z" fill="#35ff00" stroke="#35ff00"/>
<path d="M111.2 330L117 331L117.5 328.1L111.8 327.1Z" fill="#0fff00" stroke="#0fff00"/>
<path d="M111.8 327.1L117.5 328.1L118 325.2L112.3 324.2Z" fill="#00ff17" stroke="#00ff17"/>
<path d="M112.3 324.2L118 325.2L118.5 322.3L112.9 321.4Z" fill="#00ff3e" stroke="#00ff3e"/>
<path d="M112.9 321.4L118.5 322.3L119 319.5L113.5 318.6Z" fill="#00ff64" stroke="#00ff64"/>
<path d="M113.5 318.6L119 319.5L119.5 316.7L114 315.8Z" fill="#00ff8a" stroke="#00ff8a"/>
<path d="M114 315.8L119.5 316.7L120 314L114.5 313.1Z" fill="#00ffb0" stroke="#00ffb0"/>
<path d="M114.5 313.1L120 314L120.5 311.3L115.1 310.4Z" fill="#00ffd7" stroke="#00ffd7"/>
<path d="M115.1 310.4L120.5 311.3L121 308.7L115.6 307.8Z" fill="#00fffd" stroke="#00fffd"/>
<path d="M115.6 307.8L121 308.7L121.4 306L116.1 305.2Z" fill="#00dbff" stroke="#00dbff"/>
<path d="M116.1 305.2L121.4 306L121.9 303.5L116.6 302.6Z" fill="#00b5ff" stroke="#00b5ff"/>
<path d="M116.6 302.6L121.9 303.5L122.3 300.9L117.1 300.1Z" fill="#008fff" stroke="#008fff"/>
<path d="M117.1 300.1L122.3 300.9L122.8 298.4L117.6 297.6Z" fill="#0068ff" stroke="#0068ff"/>
<path d="M117.6 297.6L122.8 298.4L123.2 296L118.1 295.1Z" fill="#0042ff" stroke="#0042ff"/>
<path d="M118.1 295.1L123.2 296L123.7 293.5L118.6 292.7Z" fill="#001cff" stroke="#001cff"/>
<path d="M118.6 292.7L123.7 293.5L124.1 291.1L119 290.3Z" fill="#0000ff" stroke="#0000ff"/>
<path d="M114.2 346.4L120.2 347.5L120.7 344.3L114.8 343.3Z" fill="#c0ff00" stroke="#c0ff00"/>
<path d="M114.8 343.3L120.7 344.3L121.2 341.1L115.3 340.1Z" fill="#99ff00" stroke="#99ff00"/>
<path d="M115.3 340.1L121.2 341.1L121.7 338L115.9 337Z" fill="#73ff00" stroke="#73ff00"/>
<path d="M115.9 337L121.7 338L122.2 335L116.4 334Z" fill="#4dff00" stroke="#4dff00"/>
<path d="M116.4 334L122.2 335L122.7 332L117 331Z" fill="#27ff00" stroke="#27ff00"/>
<path d="M117 331L122.7 332L123.2 329L117.5 328.1Z" fill="#00ff00" stroke="#00ff00"/>
<path d="M117.5 328.1L123.2 329L123.7 326.1L118 325.2Z" fill="#00ff26" stroke="#00ff26"/>
<path d="M118 325.2L123.7 326.1L124.1 323.2L118.5 322.3Z" fill="#00ff4c" stroke="#00ff4c"/>
<path d="M118.5 322.3L124.1 323.2L124.6 320.4L119 319.5Z" fill="#00ff72" stroke="#00ff72"/>
<path d="M119 319.5L124.6 320.4L125 317.6L119.5 316.7Z" fill="#00ff99" stroke="#00ff99"/>
<path d="M119.5 316.7L125 317.6L125.5 314.9L120 314Z" fill="#00ffbf" stroke="#00ffbf"/>
<path d="M120 314L125.5 314.9L125.9 312.2L120.5 311.3Z" fill="#00ffe5" stroke="#00ffe5"/>
<path d="M120.5 311.3L125.9 312.2L126.3 309.5L121 308.7Z" fill="#00f3ff" stroke="#00f3ff"/>
<path d="M121 308.7L126.3 309.5L126.8 306.9L121.4 306Z" fill="#00ccff" stroke="#00ccff"/>
<path d="M121.4 306L126.8 306.9L127.2 304.3L121.9 303.5Z" fill="#00a6ff" stroke="#00a6ff"/>
<path d="M121.9 303.5L127.2 304.3L127.6 301.8L122.3 300.9Z" fill="#0080ff" stroke="#0080ff"/>
<path d="M122.3 300.9L127.6 301.8L128 299.3L122.8 298.4Z" fill="#005aff" stroke="#005aff"/>
<path d="M122.8 298.4L128 299.3L128.4 296.8L123.2 296Z" fill="#0034ff" stroke="#0034ff"/>
<path d="M123.2 296L128.4 296.8L128.8 294.4L123.7 293.5Z" fill="#000dff" stroke="#000dff"/>
<path d="M123.7 293.5L128.8 294.4L129.2 292L124.1 291.1Z" fill="#0000ff" stroke="#0000ff"/>
<path d="M120.2 347.5L126.3 348.5L126.7 345.3L120.7 344.3Z" fill="#b1ff00" stroke="#b1ff00"/>
<path d="M120.7 344.3L126.7 345.3L127.2 342.1L121.2 341.1Z" fill="#8bff00" stroke="#8bff00"/>
<path d="M121.2 341.1L127.2 342.1L127.6 339L121.7 338Z" fill="#65ff00" stroke="#65ff00"/>
<path d="M121.7 338L127.6 339L128.1 336L122.2 335Z" fill="#3eff00" stroke="#3eff00"/>
<path d="M122.2 335L128.1 336L128.5 332.9L122.7 332Z" fill="#18ff00" stroke="#18ff00"/>
<path d="M122.7 332L128.5 332.9L128.9 330L123.2 329Z" fill="#00ff0e" stroke="#00ff0e"/>
<path d="M123.2 329L128.9 330L129.3 327.1L123.7 326.1Z" fill="#00ff34" stroke="#00ff34"/>
<path d="M123.7 326.1L129.3 327.1L129.8 324.2L124.1 323.2Z" fill="#00ff5b" stroke="#00ff5b"/>
<path d="M124.1 323.2L129.8 324.2L130.2 321.4L124.6 320.4Z" fill="#00ff81" stroke="#00ff81"/>
<path d="M124.6 320.4L130.2 321.4L130.6 318.6L125 317.6Z" fill="#00ffa7" stroke="#00ffa7"/>
<path d="M125 317.6L130.6 318.6L130.9 315.8L125.5 314.9Z" fill="#00ffcd" stroke="#00ffcd"/>
<path d="M125.5 314.9L130.9 315.8L131.3 313.1L125.9 312.2Z" fill="#00fff4" stroke="#00fff4"/>
<path d="M125.9 312.2L131.3 313.1L131.7 310.4L126.3 309.5Z" fill="#00e4ff" stroke="#00e4ff"/>
<path d="M126.3 309.5L131.7 310.4L132.1 307.8L126.8 306.9Z" fill="#00beff" stroke="#00beff"/>
<path d="M126.8 306.9L132.1 307.8L132.5 305.2L127.2 304.3Z" fill="#0098ff" stroke="#0098ff"/>
<path d="M127.2 304.3L132.5 305.2L132.8 302.7L127.6 301.8Z" fill="#0071ff" stroke="#0071ff"/>
<path d="M127.6 301.8L132.8 302.7L133.2 300.1L128 299.3Z" fill="#004bff" stroke="#004bff"/>
<path d="M128 299.3L133.2 300.1L133.5 297.7L128.4 296.8Z" fill="#0025ff" stroke="#0025ff"/>
<path d="M128.4 296.8L133.5 297.7L133.9 295.2L128.8 294.4Z" fill="#0000ff" stroke="#0000ff"/>
<path d="M128.8 294.4L133.9 295.2L134.2 292.8L129.2 292Z" fill="#0000ff" stroke="#0000ff"/>
<path d="M126.3 348.5L132.3 349.5L132.7 346.3L126.7 345.3Z" fill="#a3ff00" stroke="#a3ff00"/>
<path d="M126.7 345.3L132.7 346.3L133.1 343.1L127.2 342.1Z" fill="#7cff00" stroke="#7cff00"/>
<path d="M127.2 342.1L133.1 343.1L133.5 340L127.6 339Z" fill="#56ff00" stroke="#56ff00"/>
<path d="M127.6 339L133.5 340L133.9 336.9L128.1 336Z" fill="#30ff00" stroke="#30ff00"/>
<path d="M128.1 336L133.9 336.9L134.3 333.9L128.5 332.9Z" fill="#0aff00" stroke="#0aff00"/>
<path d="M128.5 332.9L134.3 333.9L134.7 330.9L128.9 330Z" fill="#00ff1d" stroke="#00ff1d"/>
<path d="M128.9 330L134.7 330.9L135 328L129.3 327.1Z" fill="#00ff43" stroke="#00ff43"/>
<path d="M129.3 327.1L135 328L135.4 325.1L129.8 324.2Z" fill="#00ff69" stroke="#00ff69"/>
<path d="M129.8 324.2L135.4 325.1L135.7 322.3L130.2 321.4Z" fill="#00ff8f" stroke="#00ff8f"/>
<path d="M130.2 321.4L135.7 322.3L136.1 319.5L130.6 318.6Z" fill="#00ffb6" stroke="#00ffb6"/>
<path d="M130.6 318.6L136.1 319.5L136.4 316.7L130.9 315.8Z" fill="#00ffdc" stroke="#00ffdc"/>
<path d="M130.9 315.8L136.4 316.7L136.8 314L131.3 313.1Z" fill="#00fcff" stroke="#00fcff"/>
<path d="M131.3 313.1L136.8 314L137.1 311.3L131.7 310.4Z" fill="#00d6ff" stroke="#00d6ff"/>
<path d="M131.7 310.4L137.1 311.3L137.4 308.7L132.1 307.8Z" fill="#00afff" stroke="#00afff"/>
<path d="M132.1 307.8L137.4 308.7L137.8 306.1L132.5 305.2Z" fill="#0089ff" stroke="#0089ff"/>
<path d="M132.5 305.2L137.8 306.1L138.1 303.5L132.8 302.7Z" fill="#0063ff" stroke="#0063ff"/>
<path d="M132.8 302.7L138.1 303.5L138.4 301L133.2 300.1Z" fill="#003dff" stroke="#003dff"/>
<path d="M133.2 300.1L138.4 301L138.7 298.5L133.5 297.7Z" fill="#0016ff" stroke="#0016ff"/>
<path d="M133.5 297.7L138.7 298.5L139 296L133.9 295.2Z" fill="#0000ff" stroke="#0000ff"/>
<path d="M133.9 295.2L139 296L139.3 293.6L134.2 292.8Z" fill="#0000ff" stroke="#0000ff"/>
<path d="M132.3 349.5L138.4 350.6L138.7 347.3L132.7 346.3Z" fill="#94ff00" stroke="#94ff00"/>
<path d="M132.7 346.3L138.7 347.3L139.1 344.1L133.1 343.1Z" fill="#6eff00" stroke="#6eff00"/>
<path d="M133.1 343.1L139.1 344.1L139.4 341L133.5 340Z" fill="#48ff00" stroke="#48ff00"/>
<path d="M133.5 340L139.4 341L139.7 337.9L133.9 336.9Z" fill="#21ff00" stroke="#21ff00"/>
<path d="M133.9 336.9L139.7 337.9L140.1 334.9L134.3 333.9Z" fill="#00ff05" stroke="#00ff05"/>
<path d="M134.3 333.9L140.1 334.9L140.4 331.9L134.7 330.9Z" fill="#00ff2b" stroke="#00ff2b"/>
<path d="M134.7 330.9L140.4 331.9L140.7 329L135 328Z" fill="#00ff51" stroke="#00ff51"/>
<path d="M135 328L140.7 329L141 326.1L135.4 325.1Z" fill="#00ff78" stroke="#00ff78"/>
<path d="M135.4 325.1L141 326.1L141.3 323.2L135.7 322.3Z" fill="#00ff9e" stroke="#00ff9e"/>
<path d="M135.7 322.3L141.3 323.2L141.6 320.4L136.1 319.5Z" fill="#00ffc4" stroke="#00ffc4"/>
<path d="M136.1 319.5L141.6 320.4L141.9 317.6L136.4 316.7Z" fill="#00ffea" stroke="#00ffea"/>
<path d="M136.4 316.7L141.9 317.6L142.2 314.9L136.8 314Z" fill="#00edff" stroke="#00edff"/>
<path d="M136.8 314L142.2 314.9L142.5 312.2L137.1 311.3Z" fill="#00c7ff" stroke="#00c7ff"/>
<path d="M137.1 311.3L142.5 312.2L142.8 309.6L137.4 308.7Z" fill="#00a1ff" stroke="#00a1ff"/>
<path d="M137.4 308.7L142.8 309.6L143.1 307L137.8 306.1Z" fill="#007bff" stroke="#007bff"/>
<path d="M137.8 306.1L143.1 307L143.3 304.4L138.1 303.5Z" fill="#0054ff" stroke="#0054ff"/>
<path d="M138.1 303.5L143.3 304.4L143.6 301.9L138.4 301Z" fill="#002eff" stroke="#002eff"/>
<path d="M138.4 301L143.6 301.9L143.9 299.4L138.7 298.5Z" fill="#0008ff" stroke="#0008ff"/>
<path d="M138.7 298.5L143.9 299.4L144.1 296.9L139 296Z" fill="#0000ff" stroke="#0000ff"/>
<path d="M139 296L144.1 296.9L144.4 294.5L139.3 293.6Z" fill="#0000ff" stroke="#0000ff"/>
<path d="M138.4 350.6L144.5 351.6L144.7 348.3L138.7 347.3Z" fill="#85ff00" stroke="#85ff00"/>
<path d="M138.7 347.3L144.7 348.3L145 345.1L139.1 344.1Z" fill="#5fff00" stroke="#5fff00"/>
<path d="M139.1 344.1L145 345.1L145.3 342L139.4 341Z" fill="#39ff00" stroke="#39ff00"/>
<path d="M139.4 341L145.3 342L145.6 338.9L139.7 337.9Z" fill="#13ff00" stroke="#13ff00"/>
<path d="M139.7 337.9L145.6 338.9L145.9 335.9L140.1 334.9Z" fill="#00ff14" stroke="#00ff14"/>
<path d="M140.1 334.9L145.9 335.9L146.1 332.9L140.4 331.9Z" fill="#00ff3a" stroke="#00ff3a"/>
<path d="M140.4 331.9L146.1 332.9L146.4 329.9L140.7 329Z" fill="#00ff60" stroke="#00ff60"/>
<path d="M140.7 329L146.4 329.9L146.7 327L141 326.1Z" fill="#00ff86" stroke="#00ff86"/>
<path d="M141 326.1L146.7 327L146.9 324.2L141.3 323.2Z" fill="#00ffac" stroke="#00ffac"/>
<path d="M141.3 323.2L146.9 324.2L147.2 321.3L141.6 320.4Z" fill="#00ffd3" stroke="#00ffd3"/>
<path d="M141.6 320.4L147.2 321.3L147.4 318.6L141.9 317.6Z" fill="#00fff9" stroke="#00fff9"/>
<path d="M141.9 317.6L147.4 318.6L147.7 315.8L142.2 314.9Z" fill="#00dfff" stroke="#00dfff"/>
<path d="M142.2 314.9L147.7 315.8L147.9 313.1L142.5 312.2Z" fill="#00b9ff" stroke="#00b9ff"/>
<path d="M142.5 312.2L147.9 313.1L148.1 310.5L142.8 309.6Z" fill="#0092ff" stroke="#0092ff"/>
<path d="M142.8 309.6L148.1 310.5L148.4 307.9L143.1 307Z" fill="#006cff" stroke="#006cff"/>
<path d="M143.1 307L148.4 307.9L148.6 305.3L143.3 304.4Z" fill="#0046ff" stroke="#0046ff"/>
<path d="M143.3 304.4L148.6 305.3L148.8 302.7L143.6 301.9Z" fill="#0020ff" stroke="#0020ff"/>
<path d="M143.6 301.9L148.8 302.7L149.1 300.2L143.9 299.4Z" fill="#0000ff" stroke="#0000ff"/>
<path d="M143.9 299.4L149.1 300.2L149.3 297.7L144.1 296.9Z" fill="#0000ff" stroke="#0000ff"/>
<path d="M144.1 296.9L149.3 297.7L149.5 295.3L144.4 294.5Z" fill="#0000ff" stroke="#0000ff"/>
<path d="M144.5 351.6L150.5 352.6L150.8 349.4L144.7 348.3Z" fill="#77ff00" stroke="#77ff00"/>
<path d="M144.7 348.3L150.8 349.4L151 346.2L145 345.1Z" fill="#51ff00" stroke="#51ff00"/>
<path d="M145 345.1L151 346.2L151.2 343L145.3 342Z" fill="#2aff00" stroke="#2aff00"/>
<path d="M145.3 342L151.2 343L151.4 339.9L145.6 338.9Z" fill="#04ff00" stroke="#04ff00"/>
<path d="M145.6 338.9L151.4 339.9L151.7 336.8L145.9 335.9Z" fill="#00ff22" stroke="#00ff22"/>
<path d="M145.9 335.9L151.7 336.8L151.9 333.8L146.1 332.9Z" fill="#00ff48" stroke="#00ff48"/>
<path d="M146.1 332.9L151.9 333.8L152.1 330.9L146.4 329.9Z" fill="#00ff6f" stroke="#00ff6f"/>
<path d="M146.4 329.9L152.1 330.9L152.3 328L146.7 327Z" fill="#00ff95" stroke="#00ff95"/>
<path d="M146.7 327L152.3 328L152.5 325.1L146.9 324.2Z" fill="#00ffbb" stroke="#00ffbb"/>
<path d="M146.9 324.2L152.5 325.1L152.7 322.3L147.2 321.3Z" fill="#00ffe1" stroke="#00ffe1"/>
<path d="M147.2 321.3L152.7 322.3L152.9 319.5L147.4 318.6Z" fill="#00f7ff" stroke="#00f7ff"/>
<path d="M147.4 318.6L152.9 319.5L153.1 316.7L147.7 315.8Z" fill="#00d0ff" stroke="#00d0ff"/>
<path d="M147.7 315.8L153.1 316.7L153.3 314L147.9 313.1Z" fill="#00aaff" stroke="#00aaff"/>
<path d="M147.9 313.1L153.3 314L153.5 311.4L148.1 310.5Z" fill="#0084ff" stroke="#0084ff"/>
<path d="M148.1 310.5L153.5 311.4L153.7 308.7L148.4 307.9Z" fill="#005eff" stroke="#005eff"/>
<path d="M148.4 307.9L153.7 308.7L153.9 306.1L148.6 305.3Z" fill="#0037ff" stroke="#0037ff"/>
<path d="M148.6 305.3L153.9 306.1L154.1 303.6L148.8 302.7Z" fill="#0011ff" stroke="#0011ff"/>
<path d="M148.8 302.7L154.1 303.6L154.2 301.1L149.1 300.2Z" fill="#0000ff" stroke="#0000ff"/>
<path d="M149.1 300.2L154.2 301.1L154.4 298.6L149.3 297.7Z" fill="#0000ff" stroke="#0000ff"/>
<path d="M149.3 297.7L154.4 298.6L154.6 296.1L149.5 295.3Z" fill="#0000ff" stroke="#0000ff"/>
<path d="M150.5 352.6L156.6 353.7L156.8 350.4L150.8 349.4Z" fill="#68ff00" stroke="#68ff00"/>
<path d="M150.8 349.4L156.8 350.4L157 347.2L151 346.2Z" fill="#42ff00" stroke="#42ff00"/>
<path d="M151 346.2L157 347.2L157.1 344L151.2 343Z" fill="#1cff00" stroke="#1cff00"/>
<path d="M151.2 343L157.1 344L157.3 340.9L151.4 339.9Z" fill="#00ff0a" stroke="#00ff0a"/>
<path d="M151.4 339.9L157.3 340.9L157.5 337.8L151.7 336.8Z" fill="#00ff31" stroke="#00ff31"/>
<path d="M151.7 336.8L157.5 337.8L157.6 334.8L151.9 333.8Z" fill="#00ff57" stroke="#00ff57"/>
<path d="M151.9 333.8L157.6 334.8L157.8 331.8L152.1 330.9Z" fill="#00ff7d" stroke="#00ff7d"/>
<path d="M152.1 330.9L157.8 331.8L158 328.9L152.3 328Z" fill="#00ffa3" stroke="#00ffa3"/>
<path d="M152.3 328L158 328.9L158.1 326L152.5 325.1Z" fill="#00ffca" stroke="#00ffca"/>
<path d="M152.5 325.1L158.1 326L158.3 323.2L152.7 322.3Z" fill="#00fff0" stroke="#00fff0"/>
<path d="M152.7 322.3L158.3 323.2L158.4 320.4L152.9 319.5Z" fill="#00e8ff" stroke="#00e8ff"/>
<path d="M152.9 319.5L158.4 320.4L158.6 317.6L153.1 316.7Z" fill="#00c2ff" stroke="#00c2ff"/>
<path d="M153.1 316.7L158.6 317.6L158.7 314.9L153.3 314Z" fill="#009bff" stroke="#009bff"/>
<path d="M153.3 314L158.7 314.9L158.9 312.2L153.5 311.4Z" fill="#0075ff" stroke="#0075ff"/>
<path d="M153.5 311.4L158.9 312.2L159 309.6L153.7 308.7Z" fill="#004fff" stroke="#004fff"/>
<path d="M153.7 308.7L159 309.6L159.1 307L153.9 306.1Z" fill="#0029ff" stroke="#0029ff"/>
<path d="M153.9 306.1L159.1 307L159.3 304.4L154.1 303.6Z" fill="#0003ff" stroke="#0003ff"/>
<path d="M154.1 303.6L159.3 304.4L159.4 301.9L154.2 301.1Z" fill="#0000ff" stroke="#0000ff"/>
<path d="M154.2 301.1L159.4 301.9L159.6 299.4L154.4 298.6Z" fill="#0000ff" stroke="#0000ff"/>
<path d="M154.4 298.6L159.6 299.4L159.7 297L154.6 296.1Z" fill="#0000ff" stroke="#0000ff"/>
<path d="M156.6 353.7L162.7 354.7L162.8 351.4L156.8 350.4Z" fill="#5aff00" stroke="#5aff00"/>
<path d="M156.8 350.4L162.8 351.4L162.9 348.2L157 347.2Z" fill="#34ff00" stroke="#34ff00"/>
<path d="M157 347.2L162.9 348.2L163.1 345L157.1 344Z" fill="#0dff00" stroke="#0dff00"/>
<path d="M157.1 344L163.1 345L163.2 341.9L157.3 340.9Z" fill="#00ff19" stroke="#00ff19"/>
<path d="M157.3 340.9L163.2 341.9L163.3 338.8L157.5 337.8Z" fill="#00ff3f" stroke="#00ff3f"/>
<path d="M157.5 337.8L163.3 338.8L163.4 335.8L157.6 334.8Z" fill="#00ff65" stroke="#00ff65"/>
<path d="M157.6 334.8L163.4 335.8L163.5 332.8L157.8 331.8Z" fill="#00ff8c" stroke="#00ff8c"/>
<path d="M157.8 331.8L163.5 332.8L163.6 329.9L158 328.9Z" fill="#00ffb2" stroke="#00ffb2"/>
<path d="M158 328.9L163.6 329.9L163.7 327L158.1 326Z" fill="#00ffd8" stroke="#00ffd8"/>
<path d="M158.1 326L163.7 327L163.8 324.1L158.3 323.2Z" fill="#00fffe" stroke="#00fffe"/>
<path d="M158.3 323.2L163.8 324.1L163.9 321.3L158.4 320.4Z" fill="#00d9ff" stroke="#00d9ff"/>
<path d="M158.4 320.4L163.9 321.3L164 318.5L158.6 317.6Z" fill="#00b3ff" stroke="#00b3ff"/>
<path d="M158.6 317.6L164 318.5L164.1 315.8L158.7 314.9Z" fill="#008dff" stroke="#008dff"/>
<path d="M158.7 314.9L164.1 315.8L164.2 313.1L158.9 312.2Z" fill="#0067ff" stroke="#0067ff"/>
<path d="M158.9 312.2L164.2 313.1L164.3 310.5L159 309.6Z" fill="#0040ff" stroke="#0040ff"/>
<path d="M159 309.6L164.3 310.5L164.4 307.9L159.1 307Z" fill="#001aff" stroke="#001aff"/>
<path d="M159.1 307L164.4 307.9L164.5 305.3L159.3 304.4Z" fill="#0000ff" stroke="#0000ff"/>
<path d="M159.3 304.4L164.5 305.3L164.6 302.8L159.4 301.9Z" fill="#0000ff" stroke="#0000ff"/>
<path d="M159.4 301.9L164.6 302.8L164.7 300.3L159.6 299.4Z" fill="#0000ff" stroke="#0000ff"/>
<path d="M159.6 299.4L164.7 300.3L164.8 297.8L159.7 297Z" fill="#0000ff" stroke="#0000ff"/>
</g>
<path d="M42.2 334.2L53.7 305.7L63.6 281.2M48.2 335.2L59.1 306.6L68.6 282M54.1 336.2L64.6 307.6L73.6 282.8M60.1 337.2L70.1 308.5L78.7 283.7M66.1 338.3L75.5 309.4L83.7 284.5M72.1 339.3L81 310.3L88.7 285.3M78.1 340.3L86.5 311.2L93.8 286.1M84.1 341.3L92 312.1L98.8 287M90.1 342.3L97.5 313L103.9 287.8M96.1 343.4L103 314L108.9 288.6M102.1 344.4L108.5 314.9L114 289.5M108.1 345.4L114 315.8L119 290.3M114.2 346.4L119.5 316.7L124.1 291.1M120.2 347.5L125 317.6L129.2 292M126.3 348.5L130.6 318.6L134.2 292.8M132.3 349.5L136.1 319.5L139.3 293.6M138.4 350.6L141.6 320.4L144.4 294.5M144.5 351.6L147.2 321.3L149.5 295.3M150.5 352.6L152.7 322.3L154.6 296.1M156.6 353.7L158.3 323.2L159.7 297M162.7 354.7L163.8 324.1L164.8 297.8M42.2 334.2L102.1 344.4L162.7 354.7M43.4 331.1L102.8 341.2L162.8 351.4M44.6 328.1L103.5 338.1L162.9 348.2M45.8 325.2L104.1 335L163.1 345M47 322.3L104.8 332L163.2 341.9M48.2 319.4L105.4 329.1L163.3 338.8M49.3 316.6L106.1 326.1L163.4 335.8M50.4 313.8L106.7 323.3L163.5 332.8M51.5 311.1L107.3 320.4L163.6 329.9M52.6 308.4L107.9 317.6L163.7 327M53.7 305.7L108.5 314.9L163.8 324.1M54.7 303.1L109.1 312.2L163.9 321.3M55.8 300.5L109.6 309.5L164 318.5M56.8 298L110.2 306.9L164.1 315.8M57.8 295.5L110.8 304.3L164.2 313.1M58.8 293L111.3 301.7L164.3 310.5M59.8 290.6L111.9 299.2L164.4 307.9M60.8 288.2L112.4 296.7L164.5 305.3M61.7 285.8L112.9 294.3L164.6 302.8M62.7 283.5L113.5 291.8L164.7 300.3M63.6 281.2L114 289.5L164.8 297.8" fill="none" stroke="#181818" stroke-width="0.36"/>
<circle cx="41.2" cy="330.4" r="1.4" fill="#c40000" stroke="#6e0000" stroke-width="0.5"/>
<circle cx="165.3" cy="293.3" r="1.4" fill="#c40000" stroke="#6e0000" stroke-width="0.5"/>
<text x="38.2" y="317.6" font-size="3.7" text-anchor="end" fill="#202020">350</text>
<text x="39.7" y="328.9" font-size="3.7" text-anchor="end" fill="#202020">300</text>
<text x="40.9" y="340.5" font-size="3.7" text-anchor="end" fill="#202020">250</text>
<text x="42" y="351.4" font-size="3.7" text-anchor="end" fill="#202020">200</text>
<text x="43.2" y="362.5" font-size="3.7" text-anchor="end" fill="#202020">150</text>
<text x="44.6" y="374" font-size="3.7" text-anchor="end" fill="#202020">100</text>
<text x="18.2" y="357.8" font-size="3.8" text-anchor="middle" fill="#202020" transform="rotate(-90 18.2 357.8)" textLength="14" lengthAdjust="spacingAndGlyphs">PS (nm)</text>
<text x="42.8" y="395" font-size="3.7" text-anchor="middle" fill="#202020">5000</text>
<text x="69.4" y="397.9" font-size="3.7" text-anchor="middle" fill="#202020">4500</text>
<text x="96.5" y="400.6" font-size="3.7" text-anchor="middle" fill="#202020">4000</text>
<text x="123.6" y="403.1" font-size="3.7" text-anchor="middle" fill="#202020">3500</text>
<text x="150.8" y="405.5" font-size="3.7" text-anchor="middle" fill="#202020">3000</text>
<text x="159.6" y="405.3" font-size="3.7" text-anchor="start" fill="#202020">0.4</text>
<text x="160.2" y="385.3" font-size="3.7" text-anchor="start" fill="#202020">0.5</text>
<text x="161.5" y="365.5" font-size="3.7" text-anchor="start" fill="#202020">0.6</text>
<text x="163.4" y="345.4" font-size="3.7" text-anchor="start" fill="#202020">0.7</text>
<text x="164.5" y="325.5" font-size="3.7" text-anchor="start" fill="#202020">0.8</text>
<text x="166.8" y="365.5" font-size="3.8" text-anchor="start" fill="#202020" textLength="47" lengthAdjust="spacingAndGlyphs">A: Molar ratio( P : CL) (mg)</text>
<text x="98.3" y="427.9" font-size="3.8" text-anchor="middle" fill="#202020" textLength="41.6" lengthAdjust="spacingAndGlyphs">B: Stirring Speed (RPM)</text>
<text x="355.3" y="221.2" font-size="6.5" text-anchor="middle" fill="#1a1a1a" stroke="#1a1a1a" stroke-width="0.1" textLength="29.5" lengthAdjust="spacingAndGlyphs">3D Surface</text>
<path d="M267.4 305.8L276.8 386M276.3 288.4L284.6 368.2M285.2 271L292.4 350.5M294.1 253.6L300.2 332.8M303 236.2L308 315M267.4 305.8L303 236.2M268.9 318.3L303.8 248.5M270.3 330.7L304.6 260.7M271.8 343.2L305.3 273M273.2 355.7L306.1 285.2M274.7 368.2L306.9 297.5" fill="none" stroke="#222" stroke-width="0.45"/>
<path d="M303 236.2L308 315M329.6 240.1L331.4 318.8M356.1 243.9L354.9 322.6M382.7 247.8L378.4 326.4M409.3 251.7L401.8 330.2M303 236.2L409.3 251.7M303.8 248.5L408.1 263.9M304.6 260.7L407 276.1M305.3 273L405.8 288.3M306.1 285.2L404.6 300.5M306.9 297.5L403.5 312.7" fill="none" stroke="#222" stroke-width="0.45"/>
<polygon points="308,315 401.8,330.2 382.7,406.1 276.8,386" fill="#616161" stroke="none" stroke-width="0.5"/>
<line x1="283.2" y1="371.9" x2="383.9" y2="399.1" stroke="#e6aa28" stroke-width="1.05"/>
<line x1="289.3" y1="357.8" x2="388" y2="384.6" stroke="#c8dc28" stroke-width="1.05"/>
<line x1="295" y1="343.8" x2="391" y2="369.6" stroke="#2ddc41" stroke-width="1.05"/>
<line x1="300" y1="331" x2="394.5" y2="355.9" stroke="#14c882" stroke-width="1.05"/>
<line x1="350" y1="332" x2="397.9" y2="342.8" stroke="#14beaa" stroke-width="1.05"/>
<circle cx="267.4" cy="305.8" r="0.55" fill="#222"/>
<circle cx="268.9" cy="318.3" r="0.55" fill="#222"/>
<circle cx="270.3" cy="330.7" r="0.55" fill="#222"/>
<circle cx="271.8" cy="343.2" r="0.55" fill="#222"/>
<circle cx="273.2" cy="355.7" r="0.55" fill="#222"/>
<circle cx="274.7" cy="368.2" r="0.55" fill="#222"/>
<circle cx="276.8" cy="386" r="0.5" fill="#222"/>
<circle cx="382.7" cy="406.1" r="0.5" fill="#222"/>
<circle cx="302.5" cy="390.9" r="0.5" fill="#222"/>
<circle cx="388" cy="385.2" r="0.5" fill="#222"/>
<circle cx="328.7" cy="395.9" r="0.5" fill="#222"/>
<circle cx="392.9" cy="365.6" r="0.5" fill="#222"/>
<circle cx="355.5" cy="400.9" r="0.5" fill="#222"/>
<circle cx="397.5" cy="347.4" r="0.5" fill="#222"/>
<circle cx="382.7" cy="406.1" r="0.5" fill="#222"/>
<circle cx="401.8" cy="330.2" r="0.5" fill="#222"/>
<circle cx="404.9" cy="298.8" r="1.3" fill="#f4b6b6" stroke="#d08080" stroke-width="0.5"/>
<g stroke-width="0.3" stroke-linejoin="round">
<path d="M269.3 318.6L275.3 319.8L277.4 317.5L271.4 316.3Z" fill="#ff5200" stroke="#ff5200"/>
<path d="M271.4 316.3L277.4 317.5L279.4 315.2L273.5 314.1Z" fill="#ff7600" stroke="#ff7600"/>
<path d="M273.5 314.1L279.4 315.2L281.4 313L275.5 311.9Z" fill="#ff9900" stroke="#ff9900"/>
<path d="M275.5 311.9L281.4 313L283.3 310.9L277.5 309.7Z" fill="#ffbc00" stroke="#ffbc00"/>
<path d="M277.5 309.7L283.3 310.9L285.2 308.7L279.5 307.6Z" fill="#ffe000" stroke="#ffe000"/>
<path d="M279.5 307.6L285.2 308.7L287.1 306.6L281.4 305.5Z" fill="#fbff00" stroke="#fbff00"/>
<path d="M281.4 305.5L287.1 306.6L289 304.5L283.3 303.4Z" fill="#d8ff00" stroke="#d8ff00"/>
<path d="M283.3 303.4L289 304.5L290.8 302.5L285.2 301.4Z" fill="#b4ff00" stroke="#b4ff00"/>
<path d="M285.2 301.4L290.8 302.5L292.6 300.5L287.1 299.4Z" fill="#91ff00" stroke="#91ff00"/>
<path d="M287.1 299.4L292.6 300.5L294.4 298.5L288.9 297.5Z" fill="#6dff00" stroke="#6dff00"/>
<path d="M288.9 297.5L294.4 298.5L296.1 296.6L290.7 295.5Z" fill="#4aff00" stroke="#4aff00"/>
<path d="M290.7 295.5L296.1 296.6L297.8 294.7L292.4 293.6Z" fill="#27ff00" stroke="#27ff00"/>
<path d="M292.4 293.6L297.8 294.7L299.5 292.8L294.2 291.7Z" fill="#03ff00" stroke="#03ff00"/>
<path d="M294.2 291.7L299.5 292.8L301.2 290.9L295.9 289.9Z" fill="#00ff20" stroke="#00ff20"/>
<path d="M295.9 289.9L301.2 290.9L302.8 289.1L297.6 288.1Z" fill="#00ff43" stroke="#00ff43"/>
<path d="M297.6 288.1L302.8 289.1L304.5 287.3L299.3 286.3Z" fill="#00ff67" stroke="#00ff67"/>
<path d="M299.3 286.3L304.5 287.3L306.1 285.5L300.9 284.5Z" fill="#00ff8a" stroke="#00ff8a"/>
<path d="M300.9 284.5L306.1 285.5L307.6 283.7L302.5 282.7Z" fill="#00ffae" stroke="#00ffae"/>
<path d="M302.5 282.7L307.6 283.7L309.2 282L304.1 281Z" fill="#00ffd1" stroke="#00ffd1"/>
<path d="M304.1 281L309.2 282L310.7 280.3L305.7 279.3Z" fill="#00fff4" stroke="#00fff4"/>
<path d="M275.3 319.8L281.4 320.9L283.4 318.6L277.4 317.5Z" fill="#ff5600" stroke="#ff5600"/>
<path d="M277.4 317.5L283.4 318.6L285.3 316.4L279.4 315.2Z" fill="#ff7900" stroke="#ff7900"/>
<path d="M279.4 315.2L285.3 316.4L287.2 314.1L281.4 313Z" fill="#ff9d00" stroke="#ff9d00"/>
<path d="M281.4 313L287.2 314.1L289.1 312L283.3 310.9Z" fill="#ffc000" stroke="#ffc000"/>
<path d="M283.3 310.9L289.1 312L291 309.8L285.2 308.7Z" fill="#ffe300" stroke="#ffe300"/>
<path d="M285.2 308.7L291 309.8L292.8 307.7L287.1 306.6Z" fill="#f7ff00" stroke="#f7ff00"/>
<path d="M287.1 306.6L292.8 307.7L294.6 305.6L289 304.5Z" fill="#d4ff00" stroke="#d4ff00"/>
<path d="M289 304.5L294.6 305.6L296.4 303.6L290.8 302.5Z" fill="#b0ff00" stroke="#b0ff00"/>
<path d="M290.8 302.5L296.4 303.6L298.1 301.6L292.6 300.5Z" fill="#8dff00" stroke="#8dff00"/>
<path d="M292.6 300.5L298.1 301.6L299.9 299.6L294.4 298.5Z" fill="#6aff00" stroke="#6aff00"/>
<path d="M294.4 298.5L299.9 299.6L301.6 297.6L296.1 296.6Z" fill="#46ff00" stroke="#46ff00"/>
<path d="M296.1 296.6L301.6 297.6L303.2 295.7L297.8 294.7Z" fill="#23ff00" stroke="#23ff00"/>
<path d="M297.8 294.7L303.2 295.7L304.9 293.8L299.5 292.8Z" fill="#00ff00" stroke="#00ff00"/>
<path d="M299.5 292.8L304.9 293.8L306.5 292L301.2 290.9Z" fill="#00ff24" stroke="#00ff24"/>
<path d="M301.2 290.9L306.5 292L308.1 290.1L302.8 289.1Z" fill="#00ff47" stroke="#00ff47"/>
<path d="M302.8 289.1L308.1 290.1L309.7 288.3L304.5 287.3Z" fill="#00ff6b" stroke="#00ff6b"/>
<path d="M304.5 287.3L309.7 288.3L311.2 286.5L306.1 285.5Z" fill="#00ff8e" stroke="#00ff8e"/>
<path d="M306.1 285.5L311.2 286.5L312.8 284.8L307.6 283.7Z" fill="#00ffb1" stroke="#00ffb1"/>
<path d="M307.6 283.7L312.8 284.8L314.3 283L309.2 282Z" fill="#00ffd5" stroke="#00ffd5"/>
<path d="M309.2 282L314.3 283L315.7 281.3L310.7 280.3Z" fill="#00fff8" stroke="#00fff8"/>
<path d="M281.4 320.9L287.4 322.1L289.3 319.8L283.4 318.6Z" fill="#ff5a00" stroke="#ff5a00"/>
<path d="M283.4 318.6L289.3 319.8L291.2 317.5L285.3 316.4Z" fill="#ff7d00" stroke="#ff7d00"/>
<path d="M285.3 316.4L291.2 317.5L293.1 315.3L287.2 314.1Z" fill="#ffa000" stroke="#ffa000"/>
<path d="M287.2 314.1L293.1 315.3L294.9 313.1L289.1 312Z" fill="#ffc400" stroke="#ffc400"/>
<path d="M289.1 312L294.9 313.1L296.7 310.9L291 309.8Z" fill="#ffe700" stroke="#ffe700"/>
<path d="M291 309.8L296.7 310.9L298.5 308.8L292.8 307.7Z" fill="#f4ff00" stroke="#f4ff00"/>
<path d="M292.8 307.7L298.5 308.8L300.3 306.7L294.6 305.6Z" fill="#d0ff00" stroke="#d0ff00"/>
<path d="M294.6 305.6L300.3 306.7L302 304.7L296.4 303.6Z" fill="#adff00" stroke="#adff00"/>
<path d="M296.4 303.6L302 304.7L303.7 302.7L298.1 301.6Z" fill="#89ff00" stroke="#89ff00"/>
<path d="M298.1 301.6L303.7 302.7L305.4 300.7L299.9 299.6Z" fill="#66ff00" stroke="#66ff00"/>
<path d="M299.9 299.6L305.4 300.7L307 298.7L301.6 297.6Z" fill="#43ff00" stroke="#43ff00"/>
<path d="M301.6 297.6L307 298.7L308.6 296.8L303.2 295.7Z" fill="#1fff00" stroke="#1fff00"/>
<path d="M303.2 295.7L308.6 296.8L310.2 294.9L304.9 293.8Z" fill="#00ff04" stroke="#00ff04"/>
<path d="M304.9 293.8L310.2 294.9L311.8 293L306.5 292Z" fill="#00ff27" stroke="#00ff27"/>
<path d="M306.5 292L311.8 293L313.3 291.2L308.1 290.1Z" fill="#00ff4b" stroke="#00ff4b"/>
<path d="M308.1 290.1L313.3 291.2L314.9 289.3L309.7 288.3Z" fill="#00ff6e" stroke="#00ff6e"/>
<path d="M309.7 288.3L314.9 289.3L316.4 287.5L311.2 286.5Z" fill="#00ff92" stroke="#00ff92"/>
<path d="M311.2 286.5L316.4 287.5L317.9 285.8L312.8 284.8Z" fill="#00ffb5" stroke="#00ffb5"/>
<path d="M312.8 284.8L317.9 285.8L319.3 284L314.3 283Z" fill="#00ffd8" stroke="#00ffd8"/>
<path d="M314.3 283L319.3 284L320.8 282.3L315.7 281.3Z" fill="#00fffc" stroke="#00fffc"/>
<path d="M287.4 322.1L293.4 323.2L295.3 320.9L289.3 319.8Z" fill="#ff5d00" stroke="#ff5d00"/>
<path d="M289.3 319.8L295.3 320.9L297.1 318.6L291.2 317.5Z" fill="#ff8100" stroke="#ff8100"/>
<path d="M291.2 317.5L297.1 318.6L298.9 316.4L293.1 315.3Z" fill="#ffa400" stroke="#ffa400"/>
<path d="M293.1 315.3L298.9 316.4L300.7 314.2L294.9 313.1Z" fill="#ffc700" stroke="#ffc700"/>
<path d="M294.9 313.1L300.7 314.2L302.5 312L296.7 310.9Z" fill="#ffeb00" stroke="#ffeb00"/>
<path d="M296.7 310.9L302.5 312L304.2 309.9L298.5 308.8Z" fill="#f0ff00" stroke="#f0ff00"/>
<path d="M298.5 308.8L304.2 309.9L305.9 307.8L300.3 306.7Z" fill="#ccff00" stroke="#ccff00"/>
<path d="M300.3 306.7L305.9 307.8L307.6 305.8L302 304.7Z" fill="#a9ff00" stroke="#a9ff00"/>
<path d="M302 304.7L307.6 305.8L309.2 303.7L303.7 302.7Z" fill="#86ff00" stroke="#86ff00"/>
<path d="M303.7 302.7L309.2 303.7L310.8 301.7L305.4 300.7Z" fill="#62ff00" stroke="#62ff00"/>
<path d="M305.4 300.7L310.8 301.7L312.4 299.8L307 298.7Z" fill="#3fff00" stroke="#3fff00"/>
<path d="M307 298.7L312.4 299.8L314 297.8L308.6 296.8Z" fill="#1cff00" stroke="#1cff00"/>
<path d="M308.6 296.8L314 297.8L315.5 295.9L310.2 294.9Z" fill="#00ff08" stroke="#00ff08"/>
<path d="M310.2 294.9L315.5 295.9L317.1 294L311.8 293Z" fill="#00ff2b" stroke="#00ff2b"/>
<path d="M311.8 293L317.1 294L318.6 292.2L313.3 291.2Z" fill="#00ff4f" stroke="#00ff4f"/>
<path d="M313.3 291.2L318.6 292.2L320 290.4L314.9 289.3Z" fill="#00ff72" stroke="#00ff72"/>
<path d="M314.9 289.3L320 290.4L321.5 288.5L316.4 287.5Z" fill="#00ff95" stroke="#00ff95"/>
<path d="M316.4 287.5L321.5 288.5L322.9 286.8L317.9 285.8Z" fill="#00ffb9" stroke="#00ffb9"/>
<path d="M317.9 285.8L322.9 286.8L324.4 285L319.3 284Z" fill="#00ffdc" stroke="#00ffdc"/>
<path d="M319.3 284L324.4 285L325.8 283.3L320.8 282.3Z" fill="#00ffff" stroke="#00ffff"/>
<path d="M293.4 323.2L299.4 324.3L301.2 322L295.3 320.9Z" fill="#ff6100" stroke="#ff6100"/>
<path d="M295.3 320.9L301.2 322L303 319.8L297.1 318.6Z" fill="#ff8400" stroke="#ff8400"/>
<path d="M297.1 318.6L303 319.8L304.8 317.5L298.9 316.4Z" fill="#ffa800" stroke="#ffa800"/>
<path d="M298.9 316.4L304.8 317.5L306.5 315.3L300.7 314.2Z" fill="#ffcb00" stroke="#ffcb00"/>
<path d="M300.7 314.2L306.5 315.3L308.2 313.1L302.5 312Z" fill="#ffee00" stroke="#ffee00"/>
<path d="M302.5 312L308.2 313.1L309.9 311L304.2 309.9Z" fill="#ecff00" stroke="#ecff00"/>
<path d="M304.2 309.9L309.9 311L311.5 308.9L305.9 307.8Z" fill="#c9ff00" stroke="#c9ff00"/>
<path d="M305.9 307.8L311.5 308.9L313.1 306.8L307.6 305.8Z" fill="#a5ff00" stroke="#a5ff00"/>
<path d="M307.6 305.8L313.1 306.8L314.7 304.8L309.2 303.7Z" fill="#82ff00" stroke="#82ff00"/>
<path d="M309.2 303.7L314.7 304.8L316.3 302.8L310.8 301.7Z" fill="#5fff00" stroke="#5fff00"/>
<path d="M310.8 301.7L316.3 302.8L317.8 300.8L312.4 299.8Z" fill="#3bff00" stroke="#3bff00"/>
<path d="M312.4 299.8L317.8 300.8L319.4 298.9L314 297.8Z" fill="#18ff00" stroke="#18ff00"/>
<path d="M314 297.8L319.4 298.9L320.9 297L315.5 295.9Z" fill="#00ff0b" stroke="#00ff0b"/>
<path d="M315.5 295.9L320.9 297L322.3 295.1L317.1 294Z" fill="#00ff2f" stroke="#00ff2f"/>
<path d="M317.1 294L322.3 295.1L323.8 293.2L318.6 292.2Z" fill="#00ff52" stroke="#00ff52"/>
<path d="M318.6 292.2L323.8 293.2L325.2 291.4L320 290.4Z" fill="#00ff76" stroke="#00ff76"/>
<path d="M320 290.4L325.2 291.4L326.6 289.6L321.5 288.5Z" fill="#00ff99" stroke="#00ff99"/>
<path d="M321.5 288.5L326.6 289.6L328 287.8L322.9 286.8Z" fill="#00ffbc" stroke="#00ffbc"/>
<path d="M322.9 286.8L328 287.8L329.4 286L324.4 285Z" fill="#00ffe0" stroke="#00ffe0"/>
<path d="M324.4 285L329.4 286L330.8 284.3L325.8 283.3Z" fill="#00fbff" stroke="#00fbff"/>
<path d="M299.4 324.3L305.4 325.5L307.2 323.2L301.2 322Z" fill="#ff6500" stroke="#ff6500"/>
<path d="M301.2 322L307.2 323.2L308.9 320.9L303 319.8Z" fill="#ff8800" stroke="#ff8800"/>
<path d="M303 319.8L308.9 320.9L310.6 318.6L304.8 317.5Z" fill="#ffab00" stroke="#ffab00"/>
<path d="M304.8 317.5L310.6 318.6L312.3 316.4L306.5 315.3Z" fill="#ffcf00" stroke="#ffcf00"/>
<path d="M306.5 315.3L312.3 316.4L313.9 314.2L308.2 313.1Z" fill="#fff200" stroke="#fff200"/>
<path d="M308.2 313.1L313.9 314.2L315.5 312.1L309.9 311Z" fill="#e8ff00" stroke="#e8ff00"/>
<path d="M309.9 311L315.5 312.1L317.1 310L311.5 308.9Z" fill="#c5ff00" stroke="#c5ff00"/>
<path d="M311.5 308.9L317.1 310L318.7 307.9L313.1 306.8Z" fill="#a2ff00" stroke="#a2ff00"/>
<path d="M313.1 306.8L318.7 307.9L320.2 305.9L314.7 304.8Z" fill="#7eff00" stroke="#7eff00"/>
<path d="M314.7 304.8L320.2 305.9L321.7 303.9L316.3 302.8Z" fill="#5bff00" stroke="#5bff00"/>
<path d="M316.3 302.8L321.7 303.9L323.2 301.9L317.8 300.8Z" fill="#38ff00" stroke="#38ff00"/>
<path d="M317.8 300.8L323.2 301.9L324.7 299.9L319.4 298.9Z" fill="#14ff00" stroke="#14ff00"/>
<path d="M319.4 298.9L324.7 299.9L326.2 298L320.9 297Z" fill="#00ff0f" stroke="#00ff0f"/>
<path d="M320.9 297L326.2 298L327.6 296.1L322.3 295.1Z" fill="#00ff33" stroke="#00ff33"/>
<path d="M322.3 295.1L327.6 296.1L329 294.2L323.8 293.2Z" fill="#00ff56" stroke="#00ff56"/>
<path d="M323.8 293.2L329 294.2L330.4 292.4L325.2 291.4Z" fill="#00ff79" stroke="#00ff79"/>
<path d="M325.2 291.4L330.4 292.4L331.8 290.6L326.6 289.6Z" fill="#00ff9d" stroke="#00ff9d"/>
<path d="M326.6 289.6L331.8 290.6L333.1 288.8L328 287.8Z" fill="#00ffc0" stroke="#00ffc0"/>
<path d="M328 287.8L333.1 288.8L334.4 287L329.4 286Z" fill="#00ffe3" stroke="#00ffe3"/>
<path d="M329.4 286L334.4 287L335.8 285.3L330.8 284.3Z" fill="#00f7ff" stroke="#00f7ff"/>
<path d="M305.4 325.5L311.4 326.6L313.1 324.3L307.2 323.2Z" fill="#ff6800" stroke="#ff6800"/>
<path d="M307.2 323.2L313.1 324.3L314.8 322L308.9 320.9Z" fill="#ff8c00" stroke="#ff8c00"/>
<path d="M308.9 320.9L314.8 322L316.4 319.7L310.6 318.6Z" fill="#ffaf00" stroke="#ffaf00"/>
<path d="M310.6 318.6L316.4 319.7L318 317.5L312.3 316.4Z" fill="#ffd200" stroke="#ffd200"/>
<path d="M312.3 316.4L318 317.5L319.6 315.3L313.9 314.2Z" fill="#fff600" stroke="#fff600"/>
<path d="M313.9 314.2L319.6 315.3L321.2 313.2L315.5 312.1Z" fill="#e5ff00" stroke="#e5ff00"/>
<path d="M315.5 312.1L321.2 313.2L322.7 311.1L317.1 310Z" fill="#c1ff00" stroke="#c1ff00"/>
<path d="M317.1 310L322.7 311.1L324.2 309L318.7 307.9Z" fill="#9eff00" stroke="#9eff00"/>
<path d="M318.7 307.9L324.2 309L325.7 306.9L320.2 305.9Z" fill="#7bff00" stroke="#7bff00"/>
<path d="M320.2 305.9L325.7 306.9L327.2 304.9L321.7 303.9Z" fill="#57ff00" stroke="#57ff00"/>
<path d="M321.7 303.9L327.2 304.9L328.6 302.9L323.2 301.9Z" fill="#34ff00" stroke="#34ff00"/>
<path d="M323.2 301.9L328.6 302.9L330.1 301L324.7 299.9Z" fill="#11ff00" stroke="#11ff00"/>
<path d="M324.7 299.9L330.1 301L331.5 299L326.2 298Z" fill="#00ff13" stroke="#00ff13"/>
<path d="M326.2 298L331.5 299L332.8 297.1L327.6 296.1Z" fill="#00ff36" stroke="#00ff36"/>
<path d="M327.6 296.1L332.8 297.1L334.2 295.3L329 294.2Z" fill="#00ff5a" stroke="#00ff5a"/>
<path d="M329 294.2L334.2 295.3L335.6 293.4L330.4 292.4Z" fill="#00ff7d" stroke="#00ff7d"/>
<path d="M330.4 292.4L335.6 293.4L336.9 291.6L331.8 290.6Z" fill="#00ffa0" stroke="#00ffa0"/>
<path d="M331.8 290.6L336.9 291.6L338.2 289.8L333.1 288.8Z" fill="#00ffc4" stroke="#00ffc4"/>
<path d="M333.1 288.8L338.2 289.8L339.5 288L334.4 287Z" fill="#00ffe7" stroke="#00ffe7"/>
<path d="M334.4 287L339.5 288L340.7 286.3L335.8 285.3Z" fill="#00f3ff" stroke="#00f3ff"/>
<path d="M311.4 326.6L317.4 327.8L319 325.4L313.1 324.3Z" fill="#ff6c00" stroke="#ff6c00"/>
<path d="M313.1 324.3L319 325.4L320.6 323.1L314.8 322Z" fill="#ff8f00" stroke="#ff8f00"/>
<path d="M314.8 322L320.6 323.1L322.2 320.9L316.4 319.7Z" fill="#ffb300" stroke="#ffb300"/>
<path d="M316.4 319.7L322.2 320.9L323.8 318.6L318 317.5Z" fill="#ffd600" stroke="#ffd600"/>
<path d="M318 317.5L323.8 318.6L325.3 316.4L319.6 315.3Z" fill="#fffa00" stroke="#fffa00"/>
<path d="M319.6 315.3L325.3 316.4L326.8 314.3L321.2 313.2Z" fill="#e1ff00" stroke="#e1ff00"/>
<path d="M321.2 313.2L326.8 314.3L328.3 312.2L322.7 311.1Z" fill="#beff00" stroke="#beff00"/>
<path d="M322.7 311.1L328.3 312.2L329.8 310.1L324.2 309Z" fill="#9aff00" stroke="#9aff00"/>
<path d="M324.2 309L329.8 310.1L331.2 308L325.7 306.9Z" fill="#77ff00" stroke="#77ff00"/>
<path d="M325.7 306.9L331.2 308L332.6 306L327.2 304.9Z" fill="#54ff00" stroke="#54ff00"/>
<path d="M327.2 304.9L332.6 306L334 304L328.6 302.9Z" fill="#30ff00" stroke="#30ff00"/>
<path d="M328.6 302.9L334 304L335.4 302L330.1 301Z" fill="#0dff00" stroke="#0dff00"/>
<path d="M330.1 301L335.4 302L336.8 300.1L331.5 299Z" fill="#00ff17" stroke="#00ff17"/>
<path d="M331.5 299L336.8 300.1L338.1 298.2L332.8 297.1Z" fill="#00ff3a" stroke="#00ff3a"/>
<path d="M332.8 297.1L338.1 298.2L339.4 296.3L334.2 295.3Z" fill="#00ff5d" stroke="#00ff5d"/>
<path d="M334.2 295.3L339.4 296.3L340.7 294.4L335.6 293.4Z" fill="#00ff81" stroke="#00ff81"/>
<path d="M335.6 293.4L340.7 294.4L342 292.6L336.9 291.6Z" fill="#00ffa4" stroke="#00ffa4"/>
<path d="M336.9 291.6L342 292.6L343.2 290.8L338.2 289.8Z" fill="#00ffc7" stroke="#00ffc7"/>
<path d="M338.2 289.8L343.2 290.8L344.5 289L339.5 288Z" fill="#00ffeb" stroke="#00ffeb"/>
<path d="M339.5 288L344.5 289L345.7 287.2L340.7 286.3Z" fill="#00f0ff" stroke="#00f0ff"/>
<path d="M317.4 327.8L323.4 328.9L324.9 326.6L319 325.4Z" fill="#ff7000" stroke="#ff7000"/>
<path d="M319 325.4L324.9 326.6L326.5 324.3L320.6 323.1Z" fill="#ff9300" stroke="#ff9300"/>
<path d="M320.6 323.1L326.5 324.3L328 322L322.2 320.9Z" fill="#ffb600" stroke="#ffb600"/>
<path d="M322.2 320.9L328 322L329.5 319.7L323.8 318.6Z" fill="#ffda00" stroke="#ffda00"/>
<path d="M323.8 318.6L329.5 319.7L331 317.5L325.3 316.4Z" fill="#fffd00" stroke="#fffd00"/>
<path d="M325.3 316.4L331 317.5L332.5 315.4L326.8 314.3Z" fill="#ddff00" stroke="#ddff00"/>
<path d="M326.8 314.3L332.5 315.4L333.9 313.2L328.3 312.2Z" fill="#baff00" stroke="#baff00"/>
<path d="M328.3 312.2L333.9 313.2L335.3 311.1L329.8 310.1Z" fill="#97ff00" stroke="#97ff00"/>
<path d="M329.8 310.1L335.3 311.1L336.7 309.1L331.2 308Z" fill="#73ff00" stroke="#73ff00"/>
<path d="M331.2 308L336.7 309.1L338.1 307L332.6 306Z" fill="#50ff00" stroke="#50ff00"/>
<path d="M332.6 306L338.1 307L339.4 305L334 304Z" fill="#2dff00" stroke="#2dff00"/>
<path d="M334 304L339.4 305L340.7 303.1L335.4 302Z" fill="#09ff00" stroke="#09ff00"/>
<path d="M335.4 302L340.7 303.1L342 301.1L336.8 300.1Z" fill="#00ff1a" stroke="#00ff1a"/>
<path d="M336.8 300.1L342 301.1L343.3 299.2L338.1 298.2Z" fill="#00ff3e" stroke="#00ff3e"/>
<path d="M338.1 298.2L343.3 299.2L344.6 297.3L339.4 296.3Z" fill="#00ff61" stroke="#00ff61"/>
<path d="M339.4 296.3L344.6 297.3L345.9 295.4L340.7 294.4Z" fill="#00ff84" stroke="#00ff84"/>
<path d="M340.7 294.4L345.9 295.4L347.1 293.6L342 292.6Z" fill="#00ffa8" stroke="#00ffa8"/>
<path d="M342 292.6L347.1 293.6L348.3 291.8L343.2 290.8Z" fill="#00ffcb" stroke="#00ffcb"/>
<path d="M343.2 290.8L348.3 291.8L349.5 290L344.5 289Z" fill="#00ffef" stroke="#00ffef"/>
<path d="M344.5 289L349.5 290L350.7 288.2L345.7 287.2Z" fill="#00ecff" stroke="#00ecff"/>
<path d="M323.4 328.9L329.3 330L330.8 327.7L324.9 326.6Z" fill="#ff7300" stroke="#ff7300"/>
<path d="M324.9 326.6L330.8 327.7L332.3 325.4L326.5 324.3Z" fill="#ff9700" stroke="#ff9700"/>
<path d="M326.5 324.3L332.3 325.4L333.8 323.1L328 322Z" fill="#ffba00" stroke="#ffba00"/>
<path d="M328 322L333.8 323.1L335.2 320.8L329.5 319.7Z" fill="#ffde00" stroke="#ffde00"/>
<path d="M329.5 319.7L335.2 320.8L336.7 318.6L331 317.5Z" fill="#fdff00" stroke="#fdff00"/>
<path d="M331 317.5L336.7 318.6L338.1 316.5L332.5 315.4Z" fill="#daff00" stroke="#daff00"/>
<path d="M332.5 315.4L338.1 316.5L339.5 314.3L333.9 313.2Z" fill="#b6ff00" stroke="#b6ff00"/>
<path d="M333.9 313.2L339.5 314.3L340.8 312.2L335.3 311.1Z" fill="#93ff00" stroke="#93ff00"/>
<path d="M335.3 311.1L340.8 312.2L342.2 310.1L336.7 309.1Z" fill="#70ff00" stroke="#70ff00"/>
<path d="M336.7 309.1L342.2 310.1L343.5 308.1L338.1 307Z" fill="#4cff00" stroke="#4cff00"/>
<path d="M338.1 307L343.5 308.1L344.8 306.1L339.4 305Z" fill="#29ff00" stroke="#29ff00"/>
<path d="M339.4 305L344.8 306.1L346.1 304.1L340.7 303.1Z" fill="#05ff00" stroke="#05ff00"/>
<path d="M340.7 303.1L346.1 304.1L347.3 302.1L342 301.1Z" fill="#00ff1e" stroke="#00ff1e"/>
<path d="M342 301.1L347.3 302.1L348.6 300.2L343.3 299.2Z" fill="#00ff41" stroke="#00ff41"/>
<path d="M343.3 299.2L348.6 300.2L349.8 298.3L344.6 297.3Z" fill="#00ff65" stroke="#00ff65"/>
<path d="M344.6 297.3L349.8 298.3L351 296.5L345.9 295.4Z" fill="#00ff88" stroke="#00ff88"/>
<path d="M345.9 295.4L351 296.5L352.2 294.6L347.1 293.6Z" fill="#00ffab" stroke="#00ffab"/>
<path d="M347.1 293.6L352.2 294.6L353.4 292.8L348.3 291.8Z" fill="#00ffcf" stroke="#00ffcf"/>
<path d="M348.3 291.8L353.4 292.8L354.5 291L349.5 290Z" fill="#00fff2" stroke="#00fff2"/>
<path d="M349.5 290L354.5 291L355.7 289.2L350.7 288.2Z" fill="#00e8ff" stroke="#00e8ff"/>
<path d="M329.3 330L335.3 331.2L336.7 328.8L330.8 327.7Z" fill="#ff7700" stroke="#ff7700"/>
<path d="M330.8 327.7L336.7 328.8L338.2 326.5L332.3 325.4Z" fill="#ff9a00" stroke="#ff9a00"/>
<path d="M332.3 325.4L338.2 326.5L339.6 324.2L333.8 323.1Z" fill="#ffbe00" stroke="#ffbe00"/>
<path d="M333.8 323.1L339.6 324.2L341 321.9L335.2 320.8Z" fill="#ffe100" stroke="#ffe100"/>
<path d="M335.2 320.8L341 321.9L342.3 319.7L336.7 318.6Z" fill="#f9ff00" stroke="#f9ff00"/>
<path d="M336.7 318.6L342.3 319.7L343.7 317.5L338.1 316.5Z" fill="#d6ff00" stroke="#d6ff00"/>
<path d="M338.1 316.5L343.7 317.5L345 315.4L339.5 314.3Z" fill="#b3ff00" stroke="#b3ff00"/>
<path d="M339.5 314.3L345 315.4L346.3 313.3L340.8 312.2Z" fill="#8fff00" stroke="#8fff00"/>
<path d="M340.8 312.2L346.3 313.3L347.6 311.2L342.2 310.1Z" fill="#6cff00" stroke="#6cff00"/>
<path d="M342.2 310.1L347.6 311.2L348.9 309.2L343.5 308.1Z" fill="#49ff00" stroke="#49ff00"/>
<path d="M343.5 308.1L348.9 309.2L350.1 307.1L344.8 306.1Z" fill="#25ff00" stroke="#25ff00"/>
<path d="M344.8 306.1L350.1 307.1L351.4 305.1L346.1 304.1Z" fill="#02ff00" stroke="#02ff00"/>
<path d="M346.1 304.1L351.4 305.1L352.6 303.2L347.3 302.1Z" fill="#00ff22" stroke="#00ff22"/>
<path d="M347.3 302.1L352.6 303.2L353.8 301.2L348.6 300.2Z" fill="#00ff45" stroke="#00ff45"/>
<path d="M348.6 300.2L353.8 301.2L355 299.3L349.8 298.3Z" fill="#00ff68" stroke="#00ff68"/>
<path d="M349.8 298.3L355 299.3L356.1 297.5L351 296.5Z" fill="#00ff8c" stroke="#00ff8c"/>
<path d="M351 296.5L356.1 297.5L357.3 295.6L352.2 294.6Z" fill="#00ffaf" stroke="#00ffaf"/>
<path d="M352.2 294.6L357.3 295.6L358.4 293.8L353.4 292.8Z" fill="#00ffd3" stroke="#00ffd3"/>
<path d="M353.4 292.8L358.4 293.8L359.5 292L354.5 291Z" fill="#00fff6" stroke="#00fff6"/>
<path d="M354.5 291L359.5 292L360.6 290.2L355.7 289.2Z" fill="#00e5ff" stroke="#00e5ff"/>
<path d="M335.3 331.2L341.2 332.3L342.6 329.9L336.7 328.8Z" fill="#ff7b00" stroke="#ff7b00"/>
<path d="M336.7 328.8L342.6 329.9L344 327.6L338.2 326.5Z" fill="#ff9e00" stroke="#ff9e00"/>
<path d="M338.2 326.5L344 327.6L345.3 325.3L339.6 324.2Z" fill="#ffc200" stroke="#ffc200"/>
<path d="M339.6 324.2L345.3 325.3L346.7 323L341 321.9Z" fill="#ffe500" stroke="#ffe500"/>
<path d="M341 321.9L346.7 323L348 320.8L342.3 319.7Z" fill="#f6ff00" stroke="#f6ff00"/>
<path d="M342.3 319.7L348 320.8L349.3 318.6L343.7 317.5Z" fill="#d2ff00" stroke="#d2ff00"/>
<path d="M343.7 317.5L349.3 318.6L350.6 316.5L345 315.4Z" fill="#afff00" stroke="#afff00"/>
<path d="M345 315.4L350.6 316.5L351.8 314.4L346.3 313.3Z" fill="#8cff00" stroke="#8cff00"/>
<path d="M346.3 313.3L351.8 314.4L353.1 312.3L347.6 311.2Z" fill="#68ff00" stroke="#68ff00"/>
<path d="M347.6 311.2L353.1 312.3L354.3 310.2L348.9 309.2Z" fill="#45ff00" stroke="#45ff00"/>
<path d="M348.9 309.2L354.3 310.2L355.5 308.2L350.1 307.1Z" fill="#21ff00" stroke="#21ff00"/>
<path d="M350.1 307.1L355.5 308.2L356.7 306.2L351.4 305.1Z" fill="#00ff02" stroke="#00ff02"/>
<path d="M351.4 305.1L356.7 306.2L357.8 304.2L352.6 303.2Z" fill="#00ff25" stroke="#00ff25"/>
<path d="M352.6 303.2L357.8 304.2L359 302.3L353.8 301.2Z" fill="#00ff49" stroke="#00ff49"/>
<path d="M353.8 301.2L359 302.3L360.1 300.4L355 299.3Z" fill="#00ff6c" stroke="#00ff6c"/>
<path d="M355 299.3L360.1 300.4L361.2 298.5L356.1 297.5Z" fill="#00ff8f" stroke="#00ff8f"/>
<path d="M356.1 297.5L361.2 298.5L362.3 296.6L357.3 295.6Z" fill="#00ffb3" stroke="#00ffb3"/>
<path d="M357.3 295.6L362.3 296.6L363.4 294.8L358.4 293.8Z" fill="#00ffd6" stroke="#00ffd6"/>
<path d="M358.4 293.8L363.4 294.8L364.5 293L359.5 292Z" fill="#00fffa" stroke="#00fffa"/>
<path d="M359.5 292L364.5 293L365.6 291.2L360.6 290.2Z" fill="#00e1ff" stroke="#00e1ff"/>
<path d="M341.2 332.3L347.1 333.4L348.5 331.1L342.6 329.9Z" fill="#ff7e00" stroke="#ff7e00"/>
<path d="M342.6 329.9L348.5 331.1L349.8 328.7L344 327.6Z" fill="#ffa200" stroke="#ffa200"/>
<path d="M344 327.6L349.8 328.7L351.1 326.4L345.3 325.3Z" fill="#ffc500" stroke="#ffc500"/>
<path d="M345.3 325.3L351.1 326.4L352.4 324.1L346.7 323Z" fill="#ffe900" stroke="#ffe900"/>
<path d="M346.7 323L352.4 324.1L353.6 321.9L348 320.8Z" fill="#f2ff00" stroke="#f2ff00"/>
<path d="M348 320.8L353.6 321.9L354.9 319.7L349.3 318.6Z" fill="#cfff00" stroke="#cfff00"/>
<path d="M349.3 318.6L354.9 319.7L356.1 317.6L350.6 316.5Z" fill="#abff00" stroke="#abff00"/>
<path d="M350.6 316.5L356.1 317.6L357.3 315.4L351.8 314.4Z" fill="#88ff00" stroke="#88ff00"/>
<path d="M351.8 314.4L357.3 315.4L358.5 313.3L353.1 312.3Z" fill="#64ff00" stroke="#64ff00"/>
<path d="M353.1 312.3L358.5 313.3L359.7 311.3L354.3 310.2Z" fill="#41ff00" stroke="#41ff00"/>
<path d="M354.3 310.2L359.7 311.3L360.8 309.2L355.5 308.2Z" fill="#1eff00" stroke="#1eff00"/>
<path d="M355.5 308.2L360.8 309.2L362 307.2L356.7 306.2Z" fill="#00ff06" stroke="#00ff06"/>
<path d="M356.7 306.2L362 307.2L363.1 305.2L357.8 304.2Z" fill="#00ff29" stroke="#00ff29"/>
<path d="M357.8 304.2L363.1 305.2L364.2 303.3L359 302.3Z" fill="#00ff4c" stroke="#00ff4c"/>
<path d="M359 302.3L364.2 303.3L365.3 301.4L360.1 300.4Z" fill="#00ff70" stroke="#00ff70"/>
<path d="M360.1 300.4L365.3 301.4L366.4 299.5L361.2 298.5Z" fill="#00ff93" stroke="#00ff93"/>
<path d="M361.2 298.5L366.4 299.5L367.4 297.6L362.3 296.6Z" fill="#00ffb7" stroke="#00ffb7"/>
<path d="M362.3 296.6L367.4 297.6L368.5 295.8L363.4 294.8Z" fill="#00ffda" stroke="#00ffda"/>
<path d="M363.4 294.8L368.5 295.8L369.5 294L364.5 293Z" fill="#00fffd" stroke="#00fffd"/>
<path d="M364.5 293L369.5 294L370.5 292.2L365.6 291.2Z" fill="#00ddff" stroke="#00ddff"/>
<path d="M347.1 333.4L353 334.6L354.3 332.2L348.5 331.1Z" fill="#ff8200" stroke="#ff8200"/>
<path d="M348.5 331.1L354.3 332.2L355.6 329.8L349.8 328.7Z" fill="#ffa600" stroke="#ffa600"/>
<path d="M349.8 328.7L355.6 329.8L356.8 327.5L351.1 326.4Z" fill="#ffc900" stroke="#ffc900"/>
<path d="M351.1 326.4L356.8 327.5L358.1 325.2L352.4 324.1Z" fill="#ffec00" stroke="#ffec00"/>
<path d="M352.4 324.1L358.1 325.2L359.3 323L353.6 321.9Z" fill="#eeff00" stroke="#eeff00"/>
<path d="M353.6 321.9L359.3 323L360.5 320.8L354.9 319.7Z" fill="#cbff00" stroke="#cbff00"/>
<path d="M354.9 319.7L360.5 320.8L361.7 318.6L356.1 317.6Z" fill="#a8ff00" stroke="#a8ff00"/>
<path d="M356.1 317.6L361.7 318.6L362.8 316.5L357.3 315.4Z" fill="#84ff00" stroke="#84ff00"/>
<path d="M357.3 315.4L362.8 316.5L364 314.4L358.5 313.3Z" fill="#61ff00" stroke="#61ff00"/>
<path d="M358.5 313.3L364 314.4L365.1 312.3L359.7 311.3Z" fill="#3dff00" stroke="#3dff00"/>
<path d="M359.7 311.3L365.1 312.3L366.2 310.3L360.8 309.2Z" fill="#1aff00" stroke="#1aff00"/>
<path d="M360.8 309.2L366.2 310.3L367.3 308.3L362 307.2Z" fill="#00ff09" stroke="#00ff09"/>
<path d="M362 307.2L367.3 308.3L368.3 306.3L363.1 305.2Z" fill="#00ff2d" stroke="#00ff2d"/>
<path d="M363.1 305.2L368.3 306.3L369.4 304.3L364.2 303.3Z" fill="#00ff50" stroke="#00ff50"/>
<path d="M364.2 303.3L369.4 304.3L370.4 302.4L365.3 301.4Z" fill="#00ff73" stroke="#00ff73"/>
<path d="M365.3 301.4L370.4 302.4L371.5 300.5L366.4 299.5Z" fill="#00ff97" stroke="#00ff97"/>
<path d="M366.4 299.5L371.5 300.5L372.5 298.6L367.4 297.6Z" fill="#00ffba" stroke="#00ffba"/>
<path d="M367.4 297.6L372.5 298.6L373.5 296.8L368.5 295.8Z" fill="#00ffde" stroke="#00ffde"/>
<path d="M368.5 295.8L373.5 296.8L374.5 294.9L369.5 294Z" fill="#00fdff" stroke="#00fdff"/>
<path d="M369.5 294L374.5 294.9L375.4 293.1L370.5 292.2Z" fill="#00daff" stroke="#00daff"/>
<path d="M353 334.6L358.9 335.7L360.2 333.3L354.3 332.2Z" fill="#ff8600" stroke="#ff8600"/>
<path d="M354.3 332.2L360.2 333.3L361.4 330.9L355.6 329.8Z" fill="#ffa900" stroke="#ffa900"/>
<path d="M355.6 329.8L361.4 330.9L362.6 328.6L356.8 327.5Z" fill="#ffcd00" stroke="#ffcd00"/>
<path d="M356.8 327.5L362.6 328.6L363.8 326.3L358.1 325.2Z" fill="#fff000" stroke="#fff000"/>
<path d="M358.1 325.2L363.8 326.3L364.9 324.1L359.3 323Z" fill="#ebff00" stroke="#ebff00"/>
<path d="M359.3 323L364.9 324.1L366.1 321.9L360.5 320.8Z" fill="#c7ff00" stroke="#c7ff00"/>
<path d="M360.5 320.8L366.1 321.9L367.2 319.7L361.7 318.6Z" fill="#a4ff00" stroke="#a4ff00"/>
<path d="M361.7 318.6L367.2 319.7L368.3 317.5L362.8 316.5Z" fill="#80ff00" stroke="#80ff00"/>
<path d="M362.8 316.5L368.3 317.5L369.4 315.4L364 314.4Z" fill="#5dff00" stroke="#5dff00"/>
<path d="M364 314.4L369.4 315.4L370.5 313.4L365.1 312.3Z" fill="#3aff00" stroke="#3aff00"/>
<path d="M365.1 312.3L370.5 313.4L371.5 311.3L366.2 310.3Z" fill="#16ff00" stroke="#16ff00"/>
<path d="M366.2 310.3L371.5 311.3L372.5 309.3L367.3 308.3Z" fill="#00ff0d" stroke="#00ff0d"/>
<path d="M367.3 308.3L372.5 309.3L373.6 307.3L368.3 306.3Z" fill="#00ff30" stroke="#00ff30"/>
<path d="M368.3 306.3L373.6 307.3L374.6 305.3L369.4 304.3Z" fill="#00ff54" stroke="#00ff54"/>
<path d="M369.4 304.3L374.6 305.3L375.6 303.4L370.4 302.4Z" fill="#00ff77" stroke="#00ff77"/>
<path d="M370.4 302.4L375.6 303.4L376.6 301.5L371.5 300.5Z" fill="#00ff9b" stroke="#00ff9b"/>
<path d="M371.5 300.5L376.6 301.5L377.5 299.6L372.5 298.6Z" fill="#00ffbe" stroke="#00ffbe"/>
<path d="M372.5 298.6L377.5 299.6L378.5 297.8L373.5 296.8Z" fill="#00ffe1" stroke="#00ffe1"/>
<path d="M373.5 296.8L378.5 297.8L379.4 295.9L374.5 294.9Z" fill="#00f9ff" stroke="#00f9ff"/>
<path d="M374.5 294.9L379.4 295.9L380.4 294.1L375.4 293.1Z" fill="#00d6ff" stroke="#00d6ff"/>
<path d="M358.9 335.7L364.8 336.8L366 334.4L360.2 333.3Z" fill="#ff8a00" stroke="#ff8a00"/>
<path d="M360.2 333.3L366 334.4L367.2 332L361.4 330.9Z" fill="#ffad00" stroke="#ffad00"/>
<path d="M361.4 330.9L367.2 332L368.3 329.7L362.6 328.6Z" fill="#ffd000" stroke="#ffd000"/>
<path d="M362.6 328.6L368.3 329.7L369.4 327.4L363.8 326.3Z" fill="#fff400" stroke="#fff400"/>
<path d="M363.8 326.3L369.4 327.4L370.5 325.2L364.9 324.1Z" fill="#e7ff00" stroke="#e7ff00"/>
<path d="M364.9 324.1L370.5 325.2L371.6 322.9L366.1 321.9Z" fill="#c4ff00" stroke="#c4ff00"/>
<path d="M366.1 321.9L371.6 322.9L372.7 320.8L367.2 319.7Z" fill="#a0ff00" stroke="#a0ff00"/>
<path d="M367.2 319.7L372.7 320.8L373.8 318.6L368.3 317.5Z" fill="#7dff00" stroke="#7dff00"/>
<path d="M368.3 317.5L373.8 318.6L374.8 316.5L369.4 315.4Z" fill="#59ff00" stroke="#59ff00"/>
<path d="M369.4 315.4L374.8 316.5L375.8 314.4L370.5 313.4Z" fill="#36ff00" stroke="#36ff00"/>
<path d="M370.5 313.4L375.8 314.4L376.8 312.3L371.5 311.3Z" fill="#13ff00" stroke="#13ff00"/>
<path d="M371.5 311.3L376.8 312.3L377.8 310.3L372.5 309.3Z" fill="#00ff11" stroke="#00ff11"/>
<path d="M372.5 309.3L377.8 310.3L378.8 308.3L373.6 307.3Z" fill="#00ff34" stroke="#00ff34"/>
<path d="M373.6 307.3L378.8 308.3L379.8 306.4L374.6 305.3Z" fill="#00ff57" stroke="#00ff57"/>
<path d="M374.6 305.3L379.8 306.4L380.7 304.4L375.6 303.4Z" fill="#00ff7b" stroke="#00ff7b"/>
<path d="M375.6 303.4L380.7 304.4L381.7 302.5L376.6 301.5Z" fill="#00ff9e" stroke="#00ff9e"/>
<path d="M376.6 301.5L381.7 302.5L382.6 300.6L377.5 299.6Z" fill="#00ffc2" stroke="#00ffc2"/>
<path d="M377.5 299.6L382.6 300.6L383.5 298.8L378.5 297.8Z" fill="#00ffe5" stroke="#00ffe5"/>
<path d="M378.5 297.8L383.5 298.8L384.4 296.9L379.4 295.9Z" fill="#00f6ff" stroke="#00f6ff"/>
<path d="M379.4 295.9L384.4 296.9L385.3 295.1L380.4 294.1Z" fill="#00d2ff" stroke="#00d2ff"/>
<path d="M364.8 336.8L370.7 337.9L371.8 335.5L366 334.4Z" fill="#ff8d00" stroke="#ff8d00"/>
<path d="M366 334.4L371.8 335.5L372.9 333.2L367.2 332Z" fill="#ffb100" stroke="#ffb100"/>
<path d="M367.2 332L372.9 333.2L374 330.8L368.3 329.7Z" fill="#ffd400" stroke="#ffd400"/>
<path d="M368.3 329.7L374 330.8L375.1 328.5L369.4 327.4Z" fill="#fff700" stroke="#fff700"/>
<path d="M369.4 327.4L375.1 328.5L376.2 326.3L370.5 325.2Z" fill="#e3ff00" stroke="#e3ff00"/>
<path d="M370.5 325.2L376.2 326.3L377.2 324L371.6 322.9Z" fill="#c0ff00" stroke="#c0ff00"/>
<path d="M371.6 322.9L377.2 324L378.2 321.8L372.7 320.8Z" fill="#9cff00" stroke="#9cff00"/>
<path d="M372.7 320.8L378.2 321.8L379.2 319.7L373.8 318.6Z" fill="#79ff00" stroke="#79ff00"/>
<path d="M373.8 318.6L379.2 319.7L380.2 317.5L374.8 316.5Z" fill="#56ff00" stroke="#56ff00"/>
<path d="M374.8 316.5L380.2 317.5L381.2 315.4L375.8 314.4Z" fill="#32ff00" stroke="#32ff00"/>
<path d="M375.8 314.4L381.2 315.4L382.1 313.4L376.8 312.3Z" fill="#0fff00" stroke="#0fff00"/>
<path d="M376.8 312.3L382.1 313.4L383.1 311.4L377.8 310.3Z" fill="#00ff14" stroke="#00ff14"/>
<path d="M377.8 310.3L383.1 311.4L384 309.3L378.8 308.3Z" fill="#00ff38" stroke="#00ff38"/>
<path d="M378.8 308.3L384 309.3L384.9 307.4L379.8 306.4Z" fill="#00ff5b" stroke="#00ff5b"/>
<path d="M379.8 306.4L384.9 307.4L385.9 305.4L380.7 304.4Z" fill="#00ff7f" stroke="#00ff7f"/>
<path d="M380.7 304.4L385.9 305.4L386.7 303.5L381.7 302.5Z" fill="#00ffa2" stroke="#00ffa2"/>
<path d="M381.7 302.5L386.7 303.5L387.6 301.6L382.6 300.6Z" fill="#00ffc5" stroke="#00ffc5"/>
<path d="M382.6 300.6L387.6 301.6L388.5 299.7L383.5 298.8Z" fill="#00ffe9" stroke="#00ffe9"/>
<path d="M383.5 298.8L388.5 299.7L389.4 297.9L384.4 296.9Z" fill="#00f2ff" stroke="#00f2ff"/>
<path d="M384.4 296.9L389.4 297.9L390.2 296.1L385.3 295.1Z" fill="#00cfff" stroke="#00cfff"/>
<path d="M370.7 337.9L376.6 339.1L377.7 336.6L371.8 335.5Z" fill="#ff9100" stroke="#ff9100"/>
<path d="M371.8 335.5L377.7 336.6L378.7 334.3L372.9 333.2Z" fill="#ffb400" stroke="#ffb400"/>
<path d="M372.9 333.2L378.7 334.3L379.7 331.9L374 330.8Z" fill="#ffd800" stroke="#ffd800"/>
<path d="M374 330.8L379.7 331.9L380.8 329.6L375.1 328.5Z" fill="#fffb00" stroke="#fffb00"/>
<path d="M375.1 328.5L380.8 329.6L381.8 327.3L376.2 326.3Z" fill="#e0ff00" stroke="#e0ff00"/>
<path d="M376.2 326.3L381.8 327.3L382.7 325.1L377.2 324Z" fill="#bcff00" stroke="#bcff00"/>
<path d="M377.2 324L382.7 325.1L383.7 322.9L378.2 321.8Z" fill="#99ff00" stroke="#99ff00"/>
<path d="M378.2 321.8L383.7 322.9L384.7 320.7L379.2 319.7Z" fill="#75ff00" stroke="#75ff00"/>
<path d="M379.2 319.7L384.7 320.7L385.6 318.6L380.2 317.5Z" fill="#52ff00" stroke="#52ff00"/>
<path d="M380.2 317.5L385.6 318.6L386.5 316.5L381.2 315.4Z" fill="#2fff00" stroke="#2fff00"/>
<path d="M381.2 315.4L386.5 316.5L387.4 314.4L382.1 313.4Z" fill="#0bff00" stroke="#0bff00"/>
<path d="M382.1 313.4L387.4 314.4L388.3 312.4L383.1 311.4Z" fill="#00ff18" stroke="#00ff18"/>
<path d="M383.1 311.4L388.3 312.4L389.2 310.4L384 309.3Z" fill="#00ff3b" stroke="#00ff3b"/>
<path d="M384 309.3L389.2 310.4L390.1 308.4L384.9 307.4Z" fill="#00ff5f" stroke="#00ff5f"/>
<path d="M384.9 307.4L390.1 308.4L391 306.4L385.9 305.4Z" fill="#00ff82" stroke="#00ff82"/>
<path d="M385.9 305.4L391 306.4L391.8 304.5L386.7 303.5Z" fill="#00ffa6" stroke="#00ffa6"/>
<path d="M386.7 303.5L391.8 304.5L392.7 302.6L387.6 301.6Z" fill="#00ffc9" stroke="#00ffc9"/>
<path d="M387.6 301.6L392.7 302.6L393.5 300.7L388.5 299.7Z" fill="#00ffec" stroke="#00ffec"/>
<path d="M388.5 299.7L393.5 300.7L394.3 298.9L389.4 297.9Z" fill="#00eeff" stroke="#00eeff"/>
<path d="M389.4 297.9L394.3 298.9L395.1 297.1L390.2 296.1Z" fill="#00cbff" stroke="#00cbff"/>
<path d="M376.6 339.1L382.4 340.2L383.5 337.8L377.7 336.6Z" fill="#ff9500" stroke="#ff9500"/>
<path d="M377.7 336.6L383.5 337.8L384.5 335.4L378.7 334.3Z" fill="#ffb800" stroke="#ffb800"/>
<path d="M378.7 334.3L384.5 335.4L385.4 333L379.7 331.9Z" fill="#ffdb00" stroke="#ffdb00"/>
<path d="M379.7 331.9L385.4 333L386.4 330.7L380.8 329.6Z" fill="#ffff00" stroke="#ffff00"/>
<path d="M380.8 329.6L386.4 330.7L387.4 328.4L381.8 327.3Z" fill="#dcff00" stroke="#dcff00"/>
<path d="M381.8 327.3L387.4 328.4L388.3 326.2L382.7 325.1Z" fill="#b8ff00" stroke="#b8ff00"/>
<path d="M382.7 325.1L388.3 326.2L389.2 324L383.7 322.9Z" fill="#95ff00" stroke="#95ff00"/>
<path d="M383.7 322.9L389.2 324L390.1 321.8L384.7 320.7Z" fill="#72ff00" stroke="#72ff00"/>
<path d="M384.7 320.7L390.1 321.8L391 319.6L385.6 318.6Z" fill="#4eff00" stroke="#4eff00"/>
<path d="M385.6 318.6L391 319.6L391.9 317.5L386.5 316.5Z" fill="#2bff00" stroke="#2bff00"/>
<path d="M386.5 316.5L391.9 317.5L392.7 315.5L387.4 314.4Z" fill="#08ff00" stroke="#08ff00"/>
<path d="M387.4 314.4L392.7 315.5L393.6 313.4L388.3 312.4Z" fill="#00ff1c" stroke="#00ff1c"/>
<path d="M388.3 312.4L393.6 313.4L394.4 311.4L389.2 310.4Z" fill="#00ff3f" stroke="#00ff3f"/>
<path d="M389.2 310.4L394.4 311.4L395.3 309.4L390.1 308.4Z" fill="#00ff63" stroke="#00ff63"/>
<path d="M390.1 308.4L395.3 309.4L396.1 307.4L391 306.4Z" fill="#00ff86" stroke="#00ff86"/>
<path d="M391 306.4L396.1 307.4L396.9 305.5L391.8 304.5Z" fill="#00ffa9" stroke="#00ffa9"/>
<path d="M391.8 304.5L396.9 305.5L397.7 303.6L392.7 302.6Z" fill="#00ffcd" stroke="#00ffcd"/>
<path d="M392.7 302.6L397.7 303.6L398.5 301.7L393.5 300.7Z" fill="#00fff0" stroke="#00fff0"/>
<path d="M393.5 300.7L398.5 301.7L399.2 299.9L394.3 298.9Z" fill="#00ebff" stroke="#00ebff"/>
<path d="M394.3 298.9L399.2 299.9L400 298L395.1 297.1Z" fill="#00c7ff" stroke="#00c7ff"/>
<path d="M382.4 340.2L388.3 341.3L389.3 338.9L383.5 337.8Z" fill="#ff9800" stroke="#ff9800"/>
<path d="M383.5 337.8L389.3 338.9L390.2 336.5L384.5 335.4Z" fill="#ffbc00" stroke="#ffbc00"/>
<path d="M384.5 335.4L390.2 336.5L391.1 334.1L385.4 333Z" fill="#ffdf00" stroke="#ffdf00"/>
<path d="M385.4 333L391.1 334.1L392 331.8L386.4 330.7Z" fill="#fcff00" stroke="#fcff00"/>
<path d="M386.4 330.7L392 331.8L392.9 329.5L387.4 328.4Z" fill="#d8ff00" stroke="#d8ff00"/>
<path d="M387.4 328.4L392.9 329.5L393.8 327.2L388.3 326.2Z" fill="#b5ff00" stroke="#b5ff00"/>
<path d="M388.3 326.2L393.8 327.2L394.7 325L389.2 324Z" fill="#91ff00" stroke="#91ff00"/>
<path d="M389.2 324L394.7 325L395.5 322.8L390.1 321.8Z" fill="#6eff00" stroke="#6eff00"/>
<path d="M390.1 321.8L395.5 322.8L396.4 320.7L391 319.6Z" fill="#4bff00" stroke="#4bff00"/>
<path d="M391 319.6L396.4 320.7L397.2 318.6L391.9 317.5Z" fill="#27ff00" stroke="#27ff00"/>
<path d="M391.9 317.5L397.2 318.6L398 316.5L392.7 315.5Z" fill="#04ff00" stroke="#04ff00"/>
<path d="M392.7 315.5L398 316.5L398.8 314.4L393.6 313.4Z" fill="#00ff1f" stroke="#00ff1f"/>
<path d="M393.6 313.4L398.8 314.4L399.6 312.4L394.4 311.4Z" fill="#00ff43" stroke="#00ff43"/>
<path d="M394.4 311.4L399.6 312.4L400.4 310.4L395.3 309.4Z" fill="#00ff66" stroke="#00ff66"/>
<path d="M395.3 309.4L400.4 310.4L401.2 308.4L396.1 307.4Z" fill="#00ff8a" stroke="#00ff8a"/>
<path d="M396.1 307.4L401.2 308.4L402 306.5L396.9 305.5Z" fill="#00ffad" stroke="#00ffad"/>
<path d="M396.9 305.5L402 306.5L402.7 304.6L397.7 303.6Z" fill="#00ffd0" stroke="#00ffd0"/>
<path d="M397.7 303.6L402.7 304.6L403.4 302.7L398.5 301.7Z" fill="#00fff4" stroke="#00fff4"/>
<path d="M398.5 301.7L403.4 302.7L404.2 300.8L399.2 299.9Z" fill="#00e7ff" stroke="#00e7ff"/>
<path d="M399.2 299.9L404.2 300.8L404.9 299L400 298Z" fill="#00c3ff" stroke="#00c3ff"/>
</g>
<path d="M269.3 318.6L288.9 297.5L305.7 279.3M275.3 319.8L294.4 298.5L310.7 280.3M281.4 320.9L299.9 299.6L315.7 281.3M287.4 322.1L305.4 300.7L320.8 282.3M293.4 323.2L310.8 301.7L325.8 283.3M299.4 324.3L316.3 302.8L330.8 284.3M305.4 325.5L321.7 303.9L335.8 285.3M311.4 326.6L327.2 304.9L340.7 286.3M317.4 327.8L332.6 306L345.7 287.2M323.4 328.9L338.1 307L350.7 288.2M329.3 330L343.5 308.1L355.7 289.2M335.3 331.2L348.9 309.2L360.6 290.2M341.2 332.3L354.3 310.2L365.6 291.2M347.1 333.4L359.7 311.3L370.5 292.2M353 334.6L365.1 312.3L375.4 293.1M358.9 335.7L370.5 313.4L380.4 294.1M364.8 336.8L375.8 314.4L385.3 295.1M370.7 337.9L381.2 315.4L390.2 296.1M376.6 339.1L386.5 316.5L395.1 297.1M382.4 340.2L391.9 317.5L400 298M388.3 341.3L397.2 318.6L404.9 299M269.3 318.6L329.3 330L388.3 341.3M271.4 316.3L330.8 327.7L389.3 338.9M273.5 314.1L332.3 325.4L390.2 336.5M275.5 311.9L333.8 323.1L391.1 334.1M277.5 309.7L335.2 320.8L392 331.8M279.5 307.6L336.7 318.6L392.9 329.5M281.4 305.5L338.1 316.5L393.8 327.2M283.3 303.4L339.5 314.3L394.7 325M285.2 301.4L340.8 312.2L395.5 322.8M287.1 299.4L342.2 310.1L396.4 320.7M288.9 297.5L343.5 308.1L397.2 318.6M290.7 295.5L344.8 306.1L398 316.5M292.4 293.6L346.1 304.1L398.8 314.4M294.2 291.7L347.3 302.1L399.6 312.4M295.9 289.9L348.6 300.2L400.4 310.4M297.6 288.1L349.8 298.3L401.2 308.4M299.3 286.3L351 296.5L402 306.5M300.9 284.5L352.2 294.6L402.7 304.6M302.5 282.7L353.4 292.8L403.4 302.7M304.1 281L354.5 291L404.2 300.8M305.7 279.3L355.7 289.2L404.9 299" fill="none" stroke="#181818" stroke-width="0.36"/>
<circle cx="268.6" cy="317.4" r="1.4" fill="#c40000" stroke="#6e0000" stroke-width="0.5"/>
<circle cx="388.1" cy="338" r="1.4" fill="#c40000" stroke="#6e0000" stroke-width="0.5"/>
<circle cx="341.9" cy="306.4" r="1.4" fill="#c40000" stroke="#6e0000" stroke-width="0.5"/>
<text x="265.2" y="305" font-size="3.7" text-anchor="end" fill="#202020">0.45</text>
<text x="266.4" y="317.4" font-size="3.7" text-anchor="end" fill="#202020">0.4</text>
<text x="268.3" y="329.6" font-size="3.7" text-anchor="end" fill="#202020">0.35</text>
<text x="269.8" y="342" font-size="3.7" text-anchor="end" fill="#202020">0.3</text>
<text x="271.1" y="354.8" font-size="3.7" text-anchor="end" fill="#202020">0.25</text>
<text x="272.7" y="367.3" font-size="3.7" text-anchor="end" fill="#202020">0.2</text>
<text x="243.6" y="347" font-size="3.8" text-anchor="middle" fill="#202020" transform="rotate(-90 243.6 347)" textLength="6" lengthAdjust="spacingAndGlyphs">PdI</text>
<text x="270.5" y="389.8" font-size="3.7" text-anchor="middle" fill="#202020">5000</text>
<text x="297" y="395.2" font-size="3.7" text-anchor="middle" fill="#202020">4500</text>
<text x="323" y="400.2" font-size="3.7" text-anchor="middle" fill="#202020">4000</text>
<text x="349.5" y="405.4" font-size="3.7" text-anchor="middle" fill="#202020">3500</text>
<text x="376" y="410.2" font-size="3.7" text-anchor="middle" fill="#202020">3000</text>
<text x="384.6" y="410.2" font-size="3.7" text-anchor="start" fill="#202020">0.4</text>
<text x="389.4" y="391.4" font-size="3.7" text-anchor="start" fill="#202020">0.5</text>
<text x="394" y="372.2" font-size="3.7" text-anchor="start" fill="#202020">0.6</text>
<text x="398.8" y="353" font-size="3.7" text-anchor="start" fill="#202020">0.7</text>
<text x="403.2" y="333.8" font-size="3.7" text-anchor="start" fill="#202020">0.8</text>
<text x="400.6" y="375.4" font-size="3.8" text-anchor="start" fill="#202020" textLength="46.3" lengthAdjust="spacingAndGlyphs">A: Molar ratio( P : CL) (mg)</text>
<text x="320.6" y="424.9" font-size="3.8" text-anchor="middle" fill="#202020" textLength="41.2" lengthAdjust="spacingAndGlyphs">B: Stirring Speed (RPM)</text>
<text x="596" y="223.8" font-size="6.5" text-anchor="middle" fill="#1a1a1a" stroke="#1a1a1a" stroke-width="0.1" textLength="29.5" lengthAdjust="spacingAndGlyphs">3D Surface</text>
<path d="M502.2 291.4L510.6 378.1M516.7 277.8L523.6 363.2M531.2 264.3L536.6 348.3M545.7 250.7L549.6 333.4M560.2 237.2L562.6 318.5M502.2 291.4L560.2 237.2M503.5 304.9L560.6 249.8M504.8 318.4L560.9 262.5M506.1 331.8L561.3 275.1M507.4 345.3L561.7 287.8M508.7 358.8L562.1 300.4" fill="none" stroke="#222" stroke-width="0.45"/>
<path d="M560.2 237.2L562.6 318.5M584.6 243.6L584.6 325.9M609 249.9L606.6 333.3M633.5 256.3L628.6 340.7M657.9 262.7L650.6 348.1M560.2 237.2L657.9 262.7M560.6 249.8L656.8 276M560.9 262.5L655.6 289.3M561.3 275.1L654.5 302.5M561.7 287.8L653.4 315.8M562.1 300.4L652.2 329.1" fill="none" stroke="#222" stroke-width="0.45"/>
<polygon points="562.6,318.5 650.6,348.1 607.9,413.8 510.6,378.1" fill="#616161" stroke="none" stroke-width="0.5"/>
<line x1="521" y1="381.7" x2="556.5" y2="345.5" stroke="#e6dc1e" stroke-width="1.05"/>
<line x1="537.2" y1="387.5" x2="568.5" y2="355" stroke="#a0e61e" stroke-width="1.05"/>
<line x1="555.2" y1="394" x2="581.5" y2="364.8" stroke="#1ee632" stroke-width="1.05"/>
<line x1="572.9" y1="400.3" x2="595" y2="374" stroke="#1ee6a0" stroke-width="1.05"/>
<line x1="590.3" y1="406.6" x2="642.5" y2="345.2" stroke="#1edcf0" stroke-width="1.05"/>
<circle cx="502.2" cy="291.4" r="0.55" fill="#222"/>
<circle cx="503.5" cy="304.9" r="0.55" fill="#222"/>
<circle cx="504.8" cy="318.4" r="0.55" fill="#222"/>
<circle cx="506.1" cy="331.8" r="0.55" fill="#222"/>
<circle cx="507.4" cy="345.3" r="0.55" fill="#222"/>
<circle cx="508.7" cy="358.8" r="0.55" fill="#222"/>
<circle cx="510.6" cy="378.1" r="0.5" fill="#222"/>
<circle cx="607.9" cy="413.8" r="0.5" fill="#222"/>
<circle cx="534.2" cy="386.8" r="0.5" fill="#222"/>
<circle cx="619.6" cy="395.8" r="0.5" fill="#222"/>
<circle cx="558.3" cy="395.6" r="0.5" fill="#222"/>
<circle cx="630.5" cy="379" r="0.5" fill="#222"/>
<circle cx="582.9" cy="404.6" r="0.5" fill="#222"/>
<circle cx="640.9" cy="363.1" r="0.5" fill="#222"/>
<circle cx="607.9" cy="413.8" r="0.5" fill="#222"/>
<circle cx="650.6" cy="348.1" r="0.5" fill="#222"/>
<g stroke-width="0.3" stroke-linejoin="round">
<path d="M503.6 305.2L508.8 309.1L511.9 305.9L506.8 302Z" fill="#ffbe00" stroke="#ffbe00"/>
<path d="M506.8 302L511.9 305.9L515 302.7L509.9 298.8Z" fill="#ffbb00" stroke="#ffbb00"/>
<path d="M509.9 298.8L515 302.7L518 299.6L512.9 295.7Z" fill="#ffb800" stroke="#ffb800"/>
<path d="M512.9 295.7L518 299.6L521 296.5L516 292.6Z" fill="#ffb600" stroke="#ffb600"/>
<path d="M516 292.6L521 296.5L524 293.4L519 289.6Z" fill="#ffb300" stroke="#ffb300"/>
<path d="M519 289.6L524 293.4L526.9 290.4L522 286.6Z" fill="#ffb000" stroke="#ffb000"/>
<path d="M522 286.6L526.9 290.4L529.8 287.3L524.9 283.6Z" fill="#ffad00" stroke="#ffad00"/>
<path d="M524.9 283.6L529.8 287.3L532.7 284.4L527.8 280.7Z" fill="#ffaa00" stroke="#ffaa00"/>
<path d="M527.8 280.7L532.7 284.4L535.5 281.4L530.7 277.8Z" fill="#ffa700" stroke="#ffa700"/>
<path d="M530.7 277.8L535.5 281.4L538.3 278.5L533.5 274.9Z" fill="#ffa500" stroke="#ffa500"/>
<path d="M533.5 274.9L538.3 278.5L541.1 275.7L536.3 272Z" fill="#ffa200" stroke="#ffa200"/>
<path d="M536.3 272L541.1 275.7L543.9 272.8L539.1 269.2Z" fill="#ff9f00" stroke="#ff9f00"/>
<path d="M539.1 269.2L543.9 272.8L546.6 270L541.8 266.5Z" fill="#ff9c00" stroke="#ff9c00"/>
<path d="M541.8 266.5L546.6 270L549.3 267.3L544.5 263.7Z" fill="#ff9900" stroke="#ff9900"/>
<path d="M544.5 263.7L549.3 267.3L551.9 264.5L547.2 261Z" fill="#ff9600" stroke="#ff9600"/>
<path d="M547.2 261L551.9 264.5L554.5 261.8L549.9 258.3Z" fill="#ff9300" stroke="#ff9300"/>
<path d="M549.9 258.3L554.5 261.8L557.1 259.1L552.5 255.6Z" fill="#ff9100" stroke="#ff9100"/>
<path d="M552.5 255.6L557.1 259.1L559.7 256.4L555.1 253Z" fill="#ff8e00" stroke="#ff8e00"/>
<path d="M555.1 253L559.7 256.4L562.3 253.8L557.7 250.4Z" fill="#ff8b00" stroke="#ff8b00"/>
<path d="M557.7 250.4L562.3 253.8L564.8 251.2L560.2 247.8Z" fill="#ff8800" stroke="#ff8800"/>
<path d="M508.8 309.1L514 313.1L517 309.8L511.9 305.9Z" fill="#ffe300" stroke="#ffe300"/>
<path d="M511.9 305.9L517 309.8L520.1 306.6L515 302.7Z" fill="#ffe000" stroke="#ffe000"/>
<path d="M515 302.7L520.1 306.6L523.1 303.4L518 299.6Z" fill="#ffdd00" stroke="#ffdd00"/>
<path d="M518 299.6L523.1 303.4L526.1 300.3L521 296.5Z" fill="#ffda00" stroke="#ffda00"/>
<path d="M521 296.5L526.1 300.3L529 297.2L524 293.4Z" fill="#ffd800" stroke="#ffd800"/>
<path d="M524 293.4L529 297.2L531.9 294.1L526.9 290.4Z" fill="#ffd500" stroke="#ffd500"/>
<path d="M526.9 290.4L531.9 294.1L534.8 291.1L529.8 287.3Z" fill="#ffd200" stroke="#ffd200"/>
<path d="M529.8 287.3L534.8 291.1L537.6 288.1L532.7 284.4Z" fill="#ffcf00" stroke="#ffcf00"/>
<path d="M532.7 284.4L537.6 288.1L540.4 285.1L535.5 281.4Z" fill="#ffcc00" stroke="#ffcc00"/>
<path d="M535.5 281.4L540.4 285.1L543.2 282.2L538.3 278.5Z" fill="#ffc900" stroke="#ffc900"/>
<path d="M538.3 278.5L543.2 282.2L546 279.3L541.1 275.7Z" fill="#ffc700" stroke="#ffc700"/>
<path d="M541.1 275.7L546 279.3L548.7 276.4L543.9 272.8Z" fill="#ffc400" stroke="#ffc400"/>
<path d="M543.9 272.8L548.7 276.4L551.4 273.6L546.6 270Z" fill="#ffc100" stroke="#ffc100"/>
<path d="M546.6 270L551.4 273.6L554 270.8L549.3 267.3Z" fill="#ffbe00" stroke="#ffbe00"/>
<path d="M549.3 267.3L554 270.8L556.6 268L551.9 264.5Z" fill="#ffbb00" stroke="#ffbb00"/>
<path d="M551.9 264.5L556.6 268L559.2 265.3L554.5 261.8Z" fill="#ffb800" stroke="#ffb800"/>
<path d="M554.5 261.8L559.2 265.3L561.8 262.6L557.1 259.1Z" fill="#ffb500" stroke="#ffb500"/>
<path d="M557.1 259.1L561.8 262.6L564.3 259.9L559.7 256.4Z" fill="#ffb300" stroke="#ffb300"/>
<path d="M559.7 256.4L564.3 259.9L566.9 257.2L562.3 253.8Z" fill="#ffb000" stroke="#ffb000"/>
<path d="M562.3 253.8L566.9 257.2L569.4 254.6L564.8 251.2Z" fill="#ffad00" stroke="#ffad00"/>
<path d="M514 313.1L519.2 317L522.2 313.7L517 309.8Z" fill="#f6ff00" stroke="#f6ff00"/>
<path d="M517 309.8L522.2 313.7L525.2 310.5L520.1 306.6Z" fill="#f9ff00" stroke="#f9ff00"/>
<path d="M520.1 306.6L525.2 310.5L528.2 307.3L523.1 303.4Z" fill="#fcff00" stroke="#fcff00"/>
<path d="M523.1 303.4L528.2 307.3L531.1 304.1L526.1 300.3Z" fill="#ffff00" stroke="#ffff00"/>
<path d="M526.1 300.3L531.1 304.1L534 301L529 297.2Z" fill="#fffc00" stroke="#fffc00"/>
<path d="M529 297.2L534 301L536.9 297.9L531.9 294.1Z" fill="#fffa00" stroke="#fffa00"/>
<path d="M531.9 294.1L536.9 297.9L539.8 294.8L534.8 291.1Z" fill="#fff700" stroke="#fff700"/>
<path d="M534.8 291.1L539.8 294.8L542.6 291.8L537.6 288.1Z" fill="#fff400" stroke="#fff400"/>
<path d="M537.6 288.1L542.6 291.8L545.3 288.8L540.4 285.1Z" fill="#fff100" stroke="#fff100"/>
<path d="M540.4 285.1L545.3 288.8L548.1 285.9L543.2 282.2Z" fill="#ffee00" stroke="#ffee00"/>
<path d="M543.2 282.2L548.1 285.9L550.8 282.9L546 279.3Z" fill="#ffeb00" stroke="#ffeb00"/>
<path d="M546 279.3L550.8 282.9L553.5 280.1L548.7 276.4Z" fill="#ffe800" stroke="#ffe800"/>
<path d="M548.7 276.4L553.5 280.1L556.1 277.2L551.4 273.6Z" fill="#ffe600" stroke="#ffe600"/>
<path d="M551.4 273.6L556.1 277.2L558.8 274.4L554 270.8Z" fill="#ffe300" stroke="#ffe300"/>
<path d="M554 270.8L558.8 274.4L561.4 271.6L556.6 268Z" fill="#ffe000" stroke="#ffe000"/>
<path d="M556.6 268L561.4 271.6L563.9 268.8L559.2 265.3Z" fill="#ffdd00" stroke="#ffdd00"/>
<path d="M559.2 265.3L563.9 268.8L566.5 266.1L561.8 262.6Z" fill="#ffda00" stroke="#ffda00"/>
<path d="M561.8 262.6L566.5 266.1L569 263.4L564.3 259.9Z" fill="#ffd700" stroke="#ffd700"/>
<path d="M564.3 259.9L569 263.4L571.5 260.7L566.9 257.2Z" fill="#ffd500" stroke="#ffd500"/>
<path d="M566.9 257.2L571.5 260.7L573.9 258L569.4 254.6Z" fill="#ffd200" stroke="#ffd200"/>
<path d="M519.2 317L524.4 321L527.4 317.7L522.2 313.7Z" fill="#d1ff00" stroke="#d1ff00"/>
<path d="M522.2 313.7L527.4 317.7L530.4 314.4L525.2 310.5Z" fill="#d4ff00" stroke="#d4ff00"/>
<path d="M525.2 310.5L530.4 314.4L533.3 311.1L528.2 307.3Z" fill="#d7ff00" stroke="#d7ff00"/>
<path d="M528.2 307.3L533.3 311.1L536.2 308L531.1 304.1Z" fill="#daff00" stroke="#daff00"/>
<path d="M531.1 304.1L536.2 308L539.1 304.8L534 301Z" fill="#ddff00" stroke="#ddff00"/>
<path d="M534 301L539.1 304.8L541.9 301.7L536.9 297.9Z" fill="#e0ff00" stroke="#e0ff00"/>
<path d="M536.9 297.9L541.9 301.7L544.7 298.6L539.8 294.8Z" fill="#e2ff00" stroke="#e2ff00"/>
<path d="M539.8 294.8L544.7 298.6L547.5 295.5L542.6 291.8Z" fill="#e5ff00" stroke="#e5ff00"/>
<path d="M542.6 291.8L547.5 295.5L550.3 292.5L545.3 288.8Z" fill="#e8ff00" stroke="#e8ff00"/>
<path d="M545.3 288.8L550.3 292.5L553 289.5L548.1 285.9Z" fill="#ebff00" stroke="#ebff00"/>
<path d="M548.1 285.9L553 289.5L555.7 286.6L550.8 282.9Z" fill="#eeff00" stroke="#eeff00"/>
<path d="M550.8 282.9L555.7 286.6L558.3 283.7L553.5 280.1Z" fill="#f1ff00" stroke="#f1ff00"/>
<path d="M553.5 280.1L558.3 283.7L560.9 280.8L556.1 277.2Z" fill="#f4ff00" stroke="#f4ff00"/>
<path d="M556.1 277.2L560.9 280.8L563.5 277.9L558.8 274.4Z" fill="#f6ff00" stroke="#f6ff00"/>
<path d="M558.8 274.4L563.5 277.9L566.1 275.1L561.4 271.6Z" fill="#f9ff00" stroke="#f9ff00"/>
<path d="M561.4 271.6L566.1 275.1L568.6 272.3L563.9 268.8Z" fill="#fcff00" stroke="#fcff00"/>
<path d="M563.9 268.8L568.6 272.3L571.1 269.6L566.5 266.1Z" fill="#ffff00" stroke="#ffff00"/>
<path d="M566.5 266.1L571.1 269.6L573.6 266.8L569 263.4Z" fill="#fffc00" stroke="#fffc00"/>
<path d="M569 263.4L573.6 266.8L576.1 264.1L571.5 260.7Z" fill="#fff900" stroke="#fff900"/>
<path d="M571.5 260.7L576.1 264.1L578.5 261.5L573.9 258Z" fill="#fff700" stroke="#fff700"/>
<path d="M524.4 321L529.6 324.9L532.5 321.6L527.4 317.7Z" fill="#adff00" stroke="#adff00"/>
<path d="M527.4 317.7L532.5 321.6L535.5 318.3L530.4 314.4Z" fill="#afff00" stroke="#afff00"/>
<path d="M530.4 314.4L535.5 318.3L538.4 315L533.3 311.1Z" fill="#b2ff00" stroke="#b2ff00"/>
<path d="M533.3 311.1L538.4 315L541.3 311.8L536.2 308Z" fill="#b5ff00" stroke="#b5ff00"/>
<path d="M536.2 308L541.3 311.8L544.1 308.6L539.1 304.8Z" fill="#b8ff00" stroke="#b8ff00"/>
<path d="M539.1 304.8L544.1 308.6L546.9 305.5L541.9 301.7Z" fill="#bbff00" stroke="#bbff00"/>
<path d="M541.9 301.7L546.9 305.5L549.7 302.3L544.7 298.6Z" fill="#beff00" stroke="#beff00"/>
<path d="M544.7 298.6L549.7 302.3L552.5 299.3L547.5 295.5Z" fill="#c0ff00" stroke="#c0ff00"/>
<path d="M547.5 295.5L552.5 299.3L555.2 296.2L550.3 292.5Z" fill="#c3ff00" stroke="#c3ff00"/>
<path d="M550.3 292.5L555.2 296.2L557.9 293.2L553 289.5Z" fill="#c6ff00" stroke="#c6ff00"/>
<path d="M553 289.5L557.9 293.2L560.5 290.2L555.7 286.6Z" fill="#c9ff00" stroke="#c9ff00"/>
<path d="M555.7 286.6L560.5 290.2L563.1 287.3L558.3 283.7Z" fill="#ccff00" stroke="#ccff00"/>
<path d="M558.3 283.7L563.1 287.3L565.7 284.4L560.9 280.8Z" fill="#cfff00" stroke="#cfff00"/>
<path d="M560.9 280.8L565.7 284.4L568.3 281.5L563.5 277.9Z" fill="#d2ff00" stroke="#d2ff00"/>
<path d="M563.5 277.9L568.3 281.5L570.8 278.7L566.1 275.1Z" fill="#d4ff00" stroke="#d4ff00"/>
<path d="M566.1 275.1L570.8 278.7L573.3 275.8L568.6 272.3Z" fill="#d7ff00" stroke="#d7ff00"/>
<path d="M568.6 272.3L573.3 275.8L575.8 273.1L571.1 269.6Z" fill="#daff00" stroke="#daff00"/>
<path d="M571.1 269.6L575.8 273.1L578.3 270.3L573.6 266.8Z" fill="#ddff00" stroke="#ddff00"/>
<path d="M573.6 266.8L578.3 270.3L580.7 267.6L576.1 264.1Z" fill="#e0ff00" stroke="#e0ff00"/>
<path d="M576.1 264.1L580.7 267.6L583.1 264.9L578.5 261.5Z" fill="#e3ff00" stroke="#e3ff00"/>
<path d="M529.6 324.9L534.8 328.9L537.7 325.5L532.5 321.6Z" fill="#88ff00" stroke="#88ff00"/>
<path d="M532.5 321.6L537.7 325.5L540.6 322.2L535.5 318.3Z" fill="#8bff00" stroke="#8bff00"/>
<path d="M535.5 318.3L540.6 322.2L543.5 318.9L538.4 315Z" fill="#8dff00" stroke="#8dff00"/>
<path d="M538.4 315L543.5 318.9L546.4 315.6L541.3 311.8Z" fill="#90ff00" stroke="#90ff00"/>
<path d="M541.3 311.8L546.4 315.6L549.2 312.4L544.1 308.6Z" fill="#93ff00" stroke="#93ff00"/>
<path d="M544.1 308.6L549.2 312.4L552 309.2L546.9 305.5Z" fill="#96ff00" stroke="#96ff00"/>
<path d="M546.9 305.5L552 309.2L554.7 306.1L549.7 302.3Z" fill="#99ff00" stroke="#99ff00"/>
<path d="M549.7 302.3L554.7 306.1L557.4 303L552.5 299.3Z" fill="#9cff00" stroke="#9cff00"/>
<path d="M552.5 299.3L557.4 303L560.1 299.9L555.2 296.2Z" fill="#9fff00" stroke="#9fff00"/>
<path d="M555.2 296.2L560.1 299.9L562.7 296.9L557.9 293.2Z" fill="#a1ff00" stroke="#a1ff00"/>
<path d="M557.9 293.2L562.7 296.9L565.4 293.9L560.5 290.2Z" fill="#a4ff00" stroke="#a4ff00"/>
<path d="M560.5 290.2L565.4 293.9L568 290.9L563.1 287.3Z" fill="#a7ff00" stroke="#a7ff00"/>
<path d="M563.1 287.3L568 290.9L570.5 288L565.7 284.4Z" fill="#aaff00" stroke="#aaff00"/>
<path d="M565.7 284.4L570.5 288L573.1 285.1L568.3 281.5Z" fill="#adff00" stroke="#adff00"/>
<path d="M568.3 281.5L573.1 285.1L575.6 282.2L570.8 278.7Z" fill="#b0ff00" stroke="#b0ff00"/>
<path d="M570.8 278.7L575.6 282.2L578.1 279.4L573.3 275.8Z" fill="#b2ff00" stroke="#b2ff00"/>
<path d="M573.3 275.8L578.1 279.4L580.5 276.6L575.8 273.1Z" fill="#b5ff00" stroke="#b5ff00"/>
<path d="M575.8 273.1L580.5 276.6L582.9 273.8L578.3 270.3Z" fill="#b8ff00" stroke="#b8ff00"/>
<path d="M578.3 270.3L582.9 273.8L585.3 271L580.7 267.6Z" fill="#bbff00" stroke="#bbff00"/>
<path d="M580.7 267.6L585.3 271L587.7 268.3L583.1 264.9Z" fill="#beff00" stroke="#beff00"/>
<path d="M534.8 328.9L540 332.9L542.9 329.5L537.7 325.5Z" fill="#63ff00" stroke="#63ff00"/>
<path d="M537.7 325.5L542.9 329.5L545.8 326.1L540.6 322.2Z" fill="#66ff00" stroke="#66ff00"/>
<path d="M540.6 322.2L545.8 326.1L548.6 322.8L543.5 318.9Z" fill="#69ff00" stroke="#69ff00"/>
<path d="M543.5 318.9L548.6 322.8L551.5 319.5L546.4 315.6Z" fill="#6bff00" stroke="#6bff00"/>
<path d="M546.4 315.6L551.5 319.5L554.2 316.2L549.2 312.4Z" fill="#6eff00" stroke="#6eff00"/>
<path d="M549.2 312.4L554.2 316.2L557 313L552 309.2Z" fill="#71ff00" stroke="#71ff00"/>
<path d="M552 309.2L557 313L559.7 309.9L554.7 306.1Z" fill="#74ff00" stroke="#74ff00"/>
<path d="M554.7 306.1L559.7 309.9L562.4 306.7L557.4 303Z" fill="#77ff00" stroke="#77ff00"/>
<path d="M557.4 303L562.4 306.7L565 303.6L560.1 299.9Z" fill="#7aff00" stroke="#7aff00"/>
<path d="M560.1 299.9L565 303.6L567.6 300.6L562.7 296.9Z" fill="#7dff00" stroke="#7dff00"/>
<path d="M562.7 296.9L567.6 300.6L570.2 297.5L565.4 293.9Z" fill="#7fff00" stroke="#7fff00"/>
<path d="M565.4 293.9L570.2 297.5L572.8 294.5L568 290.9Z" fill="#82ff00" stroke="#82ff00"/>
<path d="M568 290.9L572.8 294.5L575.3 291.6L570.5 288Z" fill="#85ff00" stroke="#85ff00"/>
<path d="M570.5 288L575.3 291.6L577.8 288.7L573.1 285.1Z" fill="#88ff00" stroke="#88ff00"/>
<path d="M573.1 285.1L577.8 288.7L580.3 285.8L575.6 282.2Z" fill="#8bff00" stroke="#8bff00"/>
<path d="M575.6 282.2L580.3 285.8L582.8 282.9L578.1 279.4Z" fill="#8eff00" stroke="#8eff00"/>
<path d="M578.1 279.4L582.8 282.9L585.2 280.1L580.5 276.6Z" fill="#90ff00" stroke="#90ff00"/>
<path d="M580.5 276.6L585.2 280.1L587.6 277.3L582.9 273.8Z" fill="#93ff00" stroke="#93ff00"/>
<path d="M582.9 273.8L587.6 277.3L590 274.5L585.3 271Z" fill="#96ff00" stroke="#96ff00"/>
<path d="M585.3 271L590 274.5L592.3 271.7L587.7 268.3Z" fill="#99ff00" stroke="#99ff00"/>
<path d="M540 332.9L545.2 336.8L548.1 333.4L542.9 329.5Z" fill="#3eff00" stroke="#3eff00"/>
<path d="M542.9 329.5L548.1 333.4L551 330L545.8 326.1Z" fill="#41ff00" stroke="#41ff00"/>
<path d="M545.8 326.1L551 330L553.8 326.6L548.6 322.8Z" fill="#44ff00" stroke="#44ff00"/>
<path d="M548.6 322.8L553.8 326.6L556.5 323.3L551.5 319.5Z" fill="#47ff00" stroke="#47ff00"/>
<path d="M551.5 319.5L556.5 323.3L559.3 320.1L554.2 316.2Z" fill="#49ff00" stroke="#49ff00"/>
<path d="M554.2 316.2L559.3 320.1L562 316.8L557 313Z" fill="#4cff00" stroke="#4cff00"/>
<path d="M557 313L562 316.8L564.7 313.6L559.7 309.9Z" fill="#4fff00" stroke="#4fff00"/>
<path d="M559.7 309.9L564.7 313.6L567.3 310.5L562.4 306.7Z" fill="#52ff00" stroke="#52ff00"/>
<path d="M562.4 306.7L567.3 310.5L570 307.3L565 303.6Z" fill="#55ff00" stroke="#55ff00"/>
<path d="M565 303.6L570 307.3L572.5 304.3L567.6 300.6Z" fill="#58ff00" stroke="#58ff00"/>
<path d="M567.6 300.6L572.5 304.3L575.1 301.2L570.2 297.5Z" fill="#5bff00" stroke="#5bff00"/>
<path d="M570.2 297.5L575.1 301.2L577.6 298.2L572.8 294.5Z" fill="#5dff00" stroke="#5dff00"/>
<path d="M572.8 294.5L577.6 298.2L580.1 295.2L575.3 291.6Z" fill="#60ff00" stroke="#60ff00"/>
<path d="M575.3 291.6L580.1 295.2L582.6 292.2L577.8 288.7Z" fill="#63ff00" stroke="#63ff00"/>
<path d="M577.8 288.7L582.6 292.2L585.1 289.3L580.3 285.8Z" fill="#66ff00" stroke="#66ff00"/>
<path d="M580.3 285.8L585.1 289.3L587.5 286.4L582.8 282.9Z" fill="#69ff00" stroke="#69ff00"/>
<path d="M582.8 282.9L587.5 286.4L589.9 283.6L585.2 280.1Z" fill="#6cff00" stroke="#6cff00"/>
<path d="M585.2 280.1L589.9 283.6L592.3 280.7L587.6 277.3Z" fill="#6eff00" stroke="#6eff00"/>
<path d="M587.6 277.3L592.3 280.7L594.6 277.9L590 274.5Z" fill="#71ff00" stroke="#71ff00"/>
<path d="M590 274.5L594.6 277.9L596.9 275.2L592.3 271.7Z" fill="#74ff00" stroke="#74ff00"/>
<path d="M545.2 336.8L550.5 340.8L553.3 337.3L548.1 333.4Z" fill="#19ff00" stroke="#19ff00"/>
<path d="M548.1 333.4L553.3 337.3L556.1 333.9L551 330Z" fill="#1cff00" stroke="#1cff00"/>
<path d="M551 330L556.1 333.9L558.9 330.5L553.8 326.6Z" fill="#1fff00" stroke="#1fff00"/>
<path d="M553.8 326.6L558.9 330.5L561.6 327.2L556.5 323.3Z" fill="#22ff00" stroke="#22ff00"/>
<path d="M556.5 323.3L561.6 327.2L564.4 323.9L559.3 320.1Z" fill="#25ff00" stroke="#25ff00"/>
<path d="M559.3 320.1L564.4 323.9L567 320.6L562 316.8Z" fill="#27ff00" stroke="#27ff00"/>
<path d="M562 316.8L567 320.6L569.7 317.4L564.7 313.6Z" fill="#2aff00" stroke="#2aff00"/>
<path d="M564.7 313.6L569.7 317.4L572.3 314.2L567.3 310.5Z" fill="#2dff00" stroke="#2dff00"/>
<path d="M567.3 310.5L572.3 314.2L574.9 311.1L570 307.3Z" fill="#30ff00" stroke="#30ff00"/>
<path d="M570 307.3L574.9 311.1L577.5 307.9L572.5 304.3Z" fill="#33ff00" stroke="#33ff00"/>
<path d="M572.5 304.3L577.5 307.9L580 304.9L575.1 301.2Z" fill="#36ff00" stroke="#36ff00"/>
<path d="M575.1 301.2L580 304.9L582.5 301.8L577.6 298.2Z" fill="#39ff00" stroke="#39ff00"/>
<path d="M577.6 298.2L582.5 301.8L585 298.8L580.1 295.2Z" fill="#3bff00" stroke="#3bff00"/>
<path d="M580.1 295.2L585 298.8L587.4 295.8L582.6 292.2Z" fill="#3eff00" stroke="#3eff00"/>
<path d="M582.6 292.2L587.4 295.8L589.8 292.9L585.1 289.3Z" fill="#41ff00" stroke="#41ff00"/>
<path d="M585.1 289.3L589.8 292.9L592.2 290L587.5 286.4Z" fill="#44ff00" stroke="#44ff00"/>
<path d="M587.5 286.4L592.2 290L594.6 287.1L589.9 283.6Z" fill="#47ff00" stroke="#47ff00"/>
<path d="M589.9 283.6L594.6 287.1L596.9 284.2L592.3 280.7Z" fill="#4aff00" stroke="#4aff00"/>
<path d="M592.3 280.7L596.9 284.2L599.3 281.4L594.6 277.9Z" fill="#4cff00" stroke="#4cff00"/>
<path d="M594.6 277.9L599.3 281.4L601.6 278.6L596.9 275.2Z" fill="#4fff00" stroke="#4fff00"/>
<path d="M550.5 340.8L555.7 344.8L558.5 341.3L553.3 337.3Z" fill="#00ff0c" stroke="#00ff0c"/>
<path d="M553.3 337.3L558.5 341.3L561.3 337.8L556.1 333.9Z" fill="#00ff09" stroke="#00ff09"/>
<path d="M556.1 333.9L561.3 337.8L564 334.4L558.9 330.5Z" fill="#00ff06" stroke="#00ff06"/>
<path d="M558.9 330.5L564 334.4L566.8 331.1L561.6 327.2Z" fill="#00ff03" stroke="#00ff03"/>
<path d="M561.6 327.2L566.8 331.1L569.4 327.7L564.4 323.9Z" fill="#00ff00" stroke="#00ff00"/>
<path d="M564.4 323.9L569.4 327.7L572.1 324.4L567 320.6Z" fill="#03ff00" stroke="#03ff00"/>
<path d="M567 320.6L572.1 324.4L574.7 321.2L569.7 317.4Z" fill="#06ff00" stroke="#06ff00"/>
<path d="M569.7 317.4L574.7 321.2L577.3 318L572.3 314.2Z" fill="#08ff00" stroke="#08ff00"/>
<path d="M572.3 314.2L577.3 318L579.8 314.8L574.9 311.1Z" fill="#0bff00" stroke="#0bff00"/>
<path d="M574.9 311.1L579.8 314.8L582.4 311.6L577.5 307.9Z" fill="#0eff00" stroke="#0eff00"/>
<path d="M577.5 307.9L582.4 311.6L584.9 308.5L580 304.9Z" fill="#11ff00" stroke="#11ff00"/>
<path d="M580 304.9L584.9 308.5L587.3 305.5L582.5 301.8Z" fill="#14ff00" stroke="#14ff00"/>
<path d="M582.5 301.8L587.3 305.5L589.8 302.4L585 298.8Z" fill="#17ff00" stroke="#17ff00"/>
<path d="M585 298.8L589.8 302.4L592.2 299.4L587.4 295.8Z" fill="#19ff00" stroke="#19ff00"/>
<path d="M587.4 295.8L592.2 299.4L594.6 296.4L589.8 292.9Z" fill="#1cff00" stroke="#1cff00"/>
<path d="M589.8 292.9L594.6 296.4L597 293.5L592.2 290Z" fill="#1fff00" stroke="#1fff00"/>
<path d="M592.2 290L597 293.5L599.3 290.6L594.6 287.1Z" fill="#22ff00" stroke="#22ff00"/>
<path d="M594.6 287.1L599.3 290.6L601.6 287.7L596.9 284.2Z" fill="#25ff00" stroke="#25ff00"/>
<path d="M596.9 284.2L601.6 287.7L603.9 284.9L599.3 281.4Z" fill="#28ff00" stroke="#28ff00"/>
<path d="M599.3 281.4L603.9 284.9L606.2 282.1L601.6 278.6Z" fill="#2aff00" stroke="#2aff00"/>
<path d="M555.7 344.8L561 348.8L563.7 345.2L558.5 341.3Z" fill="#00ff30" stroke="#00ff30"/>
<path d="M558.5 341.3L563.7 345.2L566.5 341.8L561.3 337.8Z" fill="#00ff2e" stroke="#00ff2e"/>
<path d="M561.3 337.8L566.5 341.8L569.2 338.3L564 334.4Z" fill="#00ff2b" stroke="#00ff2b"/>
<path d="M564 334.4L569.2 338.3L571.9 334.9L566.8 331.1Z" fill="#00ff28" stroke="#00ff28"/>
<path d="M566.8 331.1L571.9 334.9L574.5 331.6L569.4 327.7Z" fill="#00ff25" stroke="#00ff25"/>
<path d="M569.4 327.7L574.5 331.6L577.1 328.2L572.1 324.4Z" fill="#00ff22" stroke="#00ff22"/>
<path d="M572.1 324.4L577.1 328.2L579.7 325L574.7 321.2Z" fill="#00ff1f" stroke="#00ff1f"/>
<path d="M574.7 321.2L579.7 325L582.3 321.7L577.3 318Z" fill="#00ff1c" stroke="#00ff1c"/>
<path d="M577.3 318L582.3 321.7L584.8 318.5L579.8 314.8Z" fill="#00ff1a" stroke="#00ff1a"/>
<path d="M579.8 314.8L584.8 318.5L587.3 315.3L582.4 311.6Z" fill="#00ff17" stroke="#00ff17"/>
<path d="M582.4 311.6L587.3 315.3L589.8 312.2L584.9 308.5Z" fill="#00ff14" stroke="#00ff14"/>
<path d="M584.9 308.5L589.8 312.2L592.2 309.1L587.3 305.5Z" fill="#00ff11" stroke="#00ff11"/>
<path d="M587.3 305.5L592.2 309.1L594.6 306L589.8 302.4Z" fill="#00ff0e" stroke="#00ff0e"/>
<path d="M589.8 302.4L594.6 306L597 303L592.2 299.4Z" fill="#00ff0b" stroke="#00ff0b"/>
<path d="M592.2 299.4L597 303L599.4 300L594.6 296.4Z" fill="#00ff09" stroke="#00ff09"/>
<path d="M594.6 296.4L599.4 300L601.7 297.1L597 293.5Z" fill="#00ff06" stroke="#00ff06"/>
<path d="M597 293.5L601.7 297.1L604 294.1L599.3 290.6Z" fill="#00ff03" stroke="#00ff03"/>
<path d="M599.3 290.6L604 294.1L606.3 291.2L601.6 287.7Z" fill="#00ff00" stroke="#00ff00"/>
<path d="M601.6 287.7L606.3 291.2L608.6 288.3L603.9 284.9Z" fill="#03ff00" stroke="#03ff00"/>
<path d="M603.9 284.9L608.6 288.3L610.8 285.5L606.2 282.1Z" fill="#06ff00" stroke="#06ff00"/>
<path d="M561 348.8L566.2 352.8L568.9 349.2L563.7 345.2Z" fill="#00ff55" stroke="#00ff55"/>
<path d="M563.7 345.2L568.9 349.2L571.7 345.7L566.5 341.8Z" fill="#00ff52" stroke="#00ff52"/>
<path d="M566.5 341.8L571.7 345.7L574.3 342.2L569.2 338.3Z" fill="#00ff50" stroke="#00ff50"/>
<path d="M569.2 338.3L574.3 342.2L577 338.8L571.9 334.9Z" fill="#00ff4d" stroke="#00ff4d"/>
<path d="M571.9 334.9L577 338.8L579.6 335.4L574.5 331.6Z" fill="#00ff4a" stroke="#00ff4a"/>
<path d="M574.5 331.6L579.6 335.4L582.2 332.1L577.1 328.2Z" fill="#00ff47" stroke="#00ff47"/>
<path d="M577.1 328.2L582.2 332.1L584.7 328.8L579.7 325Z" fill="#00ff44" stroke="#00ff44"/>
<path d="M579.7 325L584.7 328.8L587.3 325.5L582.3 321.7Z" fill="#00ff41" stroke="#00ff41"/>
<path d="M582.3 321.7L587.3 325.5L589.8 322.2L584.8 318.5Z" fill="#00ff3e" stroke="#00ff3e"/>
<path d="M584.8 318.5L589.8 322.2L592.2 319.1L587.3 315.3Z" fill="#00ff3c" stroke="#00ff3c"/>
<path d="M587.3 315.3L592.2 319.1L594.7 315.9L589.8 312.2Z" fill="#00ff39" stroke="#00ff39"/>
<path d="M589.8 312.2L594.7 315.9L597.1 312.8L592.2 309.1Z" fill="#00ff36" stroke="#00ff36"/>
<path d="M592.2 309.1L597.1 312.8L599.5 309.7L594.6 306Z" fill="#00ff33" stroke="#00ff33"/>
<path d="M594.6 306L599.5 309.7L601.8 306.6L597 303Z" fill="#00ff30" stroke="#00ff30"/>
<path d="M597 303L601.8 306.6L604.1 303.6L599.4 300Z" fill="#00ff2d" stroke="#00ff2d"/>
<path d="M599.4 300L604.1 303.6L606.5 300.6L601.7 297.1Z" fill="#00ff2b" stroke="#00ff2b"/>
<path d="M601.7 297.1L606.5 300.6L608.7 297.6L604 294.1Z" fill="#00ff28" stroke="#00ff28"/>
<path d="M604 294.1L608.7 297.6L611 294.7L606.3 291.2Z" fill="#00ff25" stroke="#00ff25"/>
<path d="M606.3 291.2L611 294.7L613.2 291.8L608.6 288.3Z" fill="#00ff22" stroke="#00ff22"/>
<path d="M608.6 288.3L613.2 291.8L615.4 288.9L610.8 285.5Z" fill="#00ff1f" stroke="#00ff1f"/>
<path d="M566.2 352.8L571.5 356.8L574.2 353.2L568.9 349.2Z" fill="#00ff7a" stroke="#00ff7a"/>
<path d="M568.9 349.2L574.2 353.2L576.9 349.6L571.7 345.7Z" fill="#00ff77" stroke="#00ff77"/>
<path d="M571.7 345.7L576.9 349.6L579.5 346.1L574.3 342.2Z" fill="#00ff74" stroke="#00ff74"/>
<path d="M574.3 342.2L579.5 346.1L582.1 342.7L577 338.8Z" fill="#00ff71" stroke="#00ff71"/>
<path d="M577 338.8L582.1 342.7L584.7 339.3L579.6 335.4Z" fill="#00ff6f" stroke="#00ff6f"/>
<path d="M579.6 335.4L584.7 339.3L587.2 335.9L582.2 332.1Z" fill="#00ff6c" stroke="#00ff6c"/>
<path d="M582.2 332.1L587.2 335.9L589.8 332.5L584.7 328.8Z" fill="#00ff69" stroke="#00ff69"/>
<path d="M584.7 328.8L589.8 332.5L592.3 329.2L587.3 325.5Z" fill="#00ff66" stroke="#00ff66"/>
<path d="M587.3 325.5L592.3 329.2L594.7 326L589.8 322.2Z" fill="#00ff63" stroke="#00ff63"/>
<path d="M589.8 322.2L594.7 326L597.2 322.8L592.2 319.1Z" fill="#00ff60" stroke="#00ff60"/>
<path d="M592.2 319.1L597.2 322.8L599.6 319.6L594.7 315.9Z" fill="#00ff5e" stroke="#00ff5e"/>
<path d="M594.7 315.9L599.6 319.6L601.9 316.4L597.1 312.8Z" fill="#00ff5b" stroke="#00ff5b"/>
<path d="M597.1 312.8L601.9 316.4L604.3 313.3L599.5 309.7Z" fill="#00ff58" stroke="#00ff58"/>
<path d="M599.5 309.7L604.3 313.3L606.6 310.2L601.8 306.6Z" fill="#00ff55" stroke="#00ff55"/>
<path d="M601.8 306.6L606.6 310.2L608.9 307.2L604.1 303.6Z" fill="#00ff52" stroke="#00ff52"/>
<path d="M604.1 303.6L608.9 307.2L611.2 304.2L606.5 300.6Z" fill="#00ff4f" stroke="#00ff4f"/>
<path d="M606.5 300.6L611.2 304.2L613.5 301.2L608.7 297.6Z" fill="#00ff4d" stroke="#00ff4d"/>
<path d="M608.7 297.6L613.5 301.2L615.7 298.2L611 294.7Z" fill="#00ff4a" stroke="#00ff4a"/>
<path d="M611 294.7L615.7 298.2L617.9 295.3L613.2 291.8Z" fill="#00ff47" stroke="#00ff47"/>
<path d="M613.2 291.8L617.9 295.3L620.1 292.4L615.4 288.9Z" fill="#00ff44" stroke="#00ff44"/>
<path d="M571.5 356.8L576.7 360.8L579.4 357.2L574.2 353.2Z" fill="#00ff9f" stroke="#00ff9f"/>
<path d="M574.2 353.2L579.4 357.2L582.1 353.6L576.9 349.6Z" fill="#00ff9c" stroke="#00ff9c"/>
<path d="M576.9 349.6L582.1 353.6L584.7 350L579.5 346.1Z" fill="#00ff99" stroke="#00ff99"/>
<path d="M579.5 346.1L584.7 350L587.2 346.6L582.1 342.7Z" fill="#00ff96" stroke="#00ff96"/>
<path d="M582.1 342.7L587.2 346.6L589.8 343.1L584.7 339.3Z" fill="#00ff93" stroke="#00ff93"/>
<path d="M584.7 339.3L589.8 343.1L592.3 339.7L587.2 335.9Z" fill="#00ff91" stroke="#00ff91"/>
<path d="M587.2 335.9L592.3 339.7L594.8 336.3L589.8 332.5Z" fill="#00ff8e" stroke="#00ff8e"/>
<path d="M589.8 332.5L594.8 336.3L597.3 333L592.3 329.2Z" fill="#00ff8b" stroke="#00ff8b"/>
<path d="M592.3 329.2L597.3 333L599.7 329.7L594.7 326Z" fill="#00ff88" stroke="#00ff88"/>
<path d="M594.7 326L599.7 329.7L602.1 326.5L597.2 322.8Z" fill="#00ff85" stroke="#00ff85"/>
<path d="M597.2 322.8L602.1 326.5L604.5 323.3L599.6 319.6Z" fill="#00ff82" stroke="#00ff82"/>
<path d="M599.6 319.6L604.5 323.3L606.8 320.1L601.9 316.4Z" fill="#00ff80" stroke="#00ff80"/>
<path d="M601.9 316.4L606.8 320.1L609.1 316.9L604.3 313.3Z" fill="#00ff7d" stroke="#00ff7d"/>
<path d="M604.3 313.3L609.1 316.9L611.4 313.8L606.6 310.2Z" fill="#00ff7a" stroke="#00ff7a"/>
<path d="M606.6 310.2L611.4 313.8L613.7 310.8L608.9 307.2Z" fill="#00ff77" stroke="#00ff77"/>
<path d="M608.9 307.2L613.7 310.8L616 307.7L611.2 304.2Z" fill="#00ff74" stroke="#00ff74"/>
<path d="M611.2 304.2L616 307.7L618.2 304.7L613.5 301.2Z" fill="#00ff71" stroke="#00ff71"/>
<path d="M613.5 301.2L618.2 304.7L620.4 301.7L615.7 298.2Z" fill="#00ff6f" stroke="#00ff6f"/>
<path d="M615.7 298.2L620.4 301.7L622.6 298.8L617.9 295.3Z" fill="#00ff6c" stroke="#00ff6c"/>
<path d="M617.9 295.3L622.6 298.8L624.7 295.9L620.1 292.4Z" fill="#00ff69" stroke="#00ff69"/>
<path d="M576.7 360.8L582 364.8L584.7 361.1L579.4 357.2Z" fill="#00ffc4" stroke="#00ffc4"/>
<path d="M579.4 357.2L584.7 361.1L587.3 357.5L582.1 353.6Z" fill="#00ffc1" stroke="#00ffc1"/>
<path d="M582.1 353.6L587.3 357.5L589.8 354L584.7 350Z" fill="#00ffbe" stroke="#00ffbe"/>
<path d="M584.7 350L589.8 354L592.4 350.4L587.2 346.6Z" fill="#00ffbb" stroke="#00ffbb"/>
<path d="M587.2 346.6L592.4 350.4L594.9 347L589.8 343.1Z" fill="#00ffb8" stroke="#00ffb8"/>
<path d="M589.8 343.1L594.9 347L597.4 343.5L592.3 339.7Z" fill="#00ffb5" stroke="#00ffb5"/>
<path d="M592.3 339.7L597.4 343.5L599.8 340.1L594.8 336.3Z" fill="#00ffb3" stroke="#00ffb3"/>
<path d="M594.8 336.3L599.8 340.1L602.3 336.8L597.3 333Z" fill="#00ffb0" stroke="#00ffb0"/>
<path d="M597.3 333L602.3 336.8L604.7 333.5L599.7 329.7Z" fill="#00ffad" stroke="#00ffad"/>
<path d="M599.7 329.7L604.7 333.5L607 330.2L602.1 326.5Z" fill="#00ffaa" stroke="#00ffaa"/>
<path d="M602.1 326.5L607 330.2L609.4 327L604.5 323.3Z" fill="#00ffa7" stroke="#00ffa7"/>
<path d="M604.5 323.3L609.4 327L611.7 323.7L606.8 320.1Z" fill="#00ffa4" stroke="#00ffa4"/>
<path d="M606.8 320.1L611.7 323.7L614 320.6L609.1 316.9Z" fill="#00ffa2" stroke="#00ffa2"/>
<path d="M609.1 316.9L614 320.6L616.3 317.4L611.4 313.8Z" fill="#00ff9f" stroke="#00ff9f"/>
<path d="M611.4 313.8L616.3 317.4L618.5 314.3L613.7 310.8Z" fill="#00ff9c" stroke="#00ff9c"/>
<path d="M613.7 310.8L618.5 314.3L620.7 311.3L616 307.7Z" fill="#00ff99" stroke="#00ff99"/>
<path d="M616 307.7L620.7 311.3L622.9 308.2L618.2 304.7Z" fill="#00ff96" stroke="#00ff96"/>
<path d="M618.2 304.7L622.9 308.2L625.1 305.2L620.4 301.7Z" fill="#00ff93" stroke="#00ff93"/>
<path d="M620.4 301.7L625.1 305.2L627.2 302.3L622.6 298.8Z" fill="#00ff91" stroke="#00ff91"/>
<path d="M622.6 298.8L627.2 302.3L629.4 299.3L624.7 295.9Z" fill="#00ff8e" stroke="#00ff8e"/>
<path d="M582 364.8L587.3 368.8L589.9 365.1L584.7 361.1Z" fill="#00ffe8" stroke="#00ffe8"/>
<path d="M584.7 361.1L589.9 365.1L592.5 361.5L587.3 357.5Z" fill="#00ffe6" stroke="#00ffe6"/>
<path d="M587.3 357.5L592.5 361.5L595 357.9L589.8 354Z" fill="#00ffe3" stroke="#00ffe3"/>
<path d="M589.8 354L595 357.9L597.5 354.3L592.4 350.4Z" fill="#00ffe0" stroke="#00ffe0"/>
<path d="M592.4 350.4L597.5 354.3L600 350.8L594.9 347Z" fill="#00ffdd" stroke="#00ffdd"/>
<path d="M594.9 347L600 350.8L602.5 347.4L597.4 343.5Z" fill="#00ffda" stroke="#00ffda"/>
<path d="M597.4 343.5L602.5 347.4L604.9 344L599.8 340.1Z" fill="#00ffd7" stroke="#00ffd7"/>
<path d="M599.8 340.1L604.9 344L607.3 340.6L602.3 336.8Z" fill="#00ffd5" stroke="#00ffd5"/>
<path d="M602.3 336.8L607.3 340.6L609.6 337.2L604.7 333.5Z" fill="#00ffd2" stroke="#00ffd2"/>
<path d="M604.7 333.5L609.6 337.2L612 333.9L607 330.2Z" fill="#00ffcf" stroke="#00ffcf"/>
<path d="M607 330.2L612 333.9L614.3 330.6L609.4 327Z" fill="#00ffcc" stroke="#00ffcc"/>
<path d="M609.4 327L614.3 330.6L616.6 327.4L611.7 323.7Z" fill="#00ffc9" stroke="#00ffc9"/>
<path d="M611.7 323.7L616.6 327.4L618.9 324.2L614 320.6Z" fill="#00ffc6" stroke="#00ffc6"/>
<path d="M614 320.6L618.9 324.2L621.1 321.1L616.3 317.4Z" fill="#00ffc4" stroke="#00ffc4"/>
<path d="M616.3 317.4L621.1 321.1L623.3 317.9L618.5 314.3Z" fill="#00ffc1" stroke="#00ffc1"/>
<path d="M618.5 314.3L623.3 317.9L625.5 314.8L620.7 311.3Z" fill="#00ffbe" stroke="#00ffbe"/>
<path d="M620.7 311.3L625.5 314.8L627.7 311.8L622.9 308.2Z" fill="#00ffbb" stroke="#00ffbb"/>
<path d="M622.9 308.2L627.7 311.8L629.8 308.8L625.1 305.2Z" fill="#00ffb8" stroke="#00ffb8"/>
<path d="M625.1 305.2L629.8 308.8L631.9 305.8L627.2 302.3Z" fill="#00ffb5" stroke="#00ffb5"/>
<path d="M627.2 302.3L631.9 305.8L634 302.8L629.4 299.3Z" fill="#00ffb3" stroke="#00ffb3"/>
<path d="M587.3 368.8L592.6 372.8L595.2 369.1L589.9 365.1Z" fill="#00f1ff" stroke="#00f1ff"/>
<path d="M589.9 365.1L595.2 369.1L597.7 365.4L592.5 361.5Z" fill="#00f4ff" stroke="#00f4ff"/>
<path d="M592.5 361.5L597.7 365.4L600.2 361.8L595 357.9Z" fill="#00f6ff" stroke="#00f6ff"/>
<path d="M595 357.9L600.2 361.8L602.7 358.2L597.5 354.3Z" fill="#00f9ff" stroke="#00f9ff"/>
<path d="M597.5 354.3L602.7 358.2L605.1 354.7L600 350.8Z" fill="#00fcff" stroke="#00fcff"/>
<path d="M600 350.8L605.1 354.7L607.5 351.2L602.5 347.4Z" fill="#00ffff" stroke="#00ffff"/>
<path d="M602.5 347.4L607.5 351.2L609.9 347.8L604.9 344Z" fill="#00fffc" stroke="#00fffc"/>
<path d="M604.9 344L609.9 347.8L612.3 344.4L607.3 340.6Z" fill="#00fff9" stroke="#00fff9"/>
<path d="M607.3 340.6L612.3 344.4L614.6 341L609.6 337.2Z" fill="#00fff7" stroke="#00fff7"/>
<path d="M609.6 337.2L614.6 341L616.9 337.6L612 333.9Z" fill="#00fff4" stroke="#00fff4"/>
<path d="M612 333.9L616.9 337.6L619.2 334.3L614.3 330.6Z" fill="#00fff1" stroke="#00fff1"/>
<path d="M614.3 330.6L619.2 334.3L621.5 331.1L616.6 327.4Z" fill="#00ffee" stroke="#00ffee"/>
<path d="M616.6 327.4L621.5 331.1L623.7 327.9L618.9 324.2Z" fill="#00ffeb" stroke="#00ffeb"/>
<path d="M618.9 324.2L623.7 327.9L625.9 324.7L621.1 321.1Z" fill="#00ffe8" stroke="#00ffe8"/>
<path d="M621.1 321.1L625.9 324.7L628.1 321.5L623.3 317.9Z" fill="#00ffe6" stroke="#00ffe6"/>
<path d="M623.3 317.9L628.1 321.5L630.3 318.4L625.5 314.8Z" fill="#00ffe3" stroke="#00ffe3"/>
<path d="M625.5 314.8L630.3 318.4L632.4 315.3L627.7 311.8Z" fill="#00ffe0" stroke="#00ffe0"/>
<path d="M627.7 311.8L632.4 315.3L634.5 312.3L629.8 308.8Z" fill="#00ffdd" stroke="#00ffdd"/>
<path d="M629.8 308.8L634.5 312.3L636.6 309.3L631.9 305.8Z" fill="#00ffda" stroke="#00ffda"/>
<path d="M631.9 305.8L636.6 309.3L638.7 306.3L634 302.8Z" fill="#00ffd7" stroke="#00ffd7"/>
<path d="M592.6 372.8L597.9 376.8L600.4 373.1L595.2 369.1Z" fill="#00ccff" stroke="#00ccff"/>
<path d="M595.2 369.1L600.4 373.1L602.9 369.4L597.7 365.4Z" fill="#00cfff" stroke="#00cfff"/>
<path d="M597.7 365.4L602.9 369.4L605.4 365.7L600.2 361.8Z" fill="#00d2ff" stroke="#00d2ff"/>
<path d="M600.2 361.8L605.4 365.7L607.8 362.1L602.7 358.2Z" fill="#00d4ff" stroke="#00d4ff"/>
<path d="M602.7 358.2L607.8 362.1L610.3 358.6L605.1 354.7Z" fill="#00d7ff" stroke="#00d7ff"/>
<path d="M605.1 354.7L610.3 358.6L612.6 355.1L607.5 351.2Z" fill="#00daff" stroke="#00daff"/>
<path d="M607.5 351.2L612.6 355.1L615 351.6L609.9 347.8Z" fill="#00ddff" stroke="#00ddff"/>
<path d="M609.9 347.8L615 351.6L617.3 348.1L612.3 344.4Z" fill="#00e0ff" stroke="#00e0ff"/>
<path d="M612.3 344.4L617.3 348.1L619.6 344.7L614.6 341Z" fill="#00e3ff" stroke="#00e3ff"/>
<path d="M614.6 341L619.6 344.7L621.9 341.4L616.9 337.6Z" fill="#00e5ff" stroke="#00e5ff"/>
<path d="M616.9 337.6L621.9 341.4L624.2 338.1L619.2 334.3Z" fill="#00e8ff" stroke="#00e8ff"/>
<path d="M619.2 334.3L624.2 338.1L626.4 334.8L621.5 331.1Z" fill="#00ebff" stroke="#00ebff"/>
<path d="M621.5 331.1L626.4 334.8L628.6 331.5L623.7 327.9Z" fill="#00eeff" stroke="#00eeff"/>
<path d="M623.7 327.9L628.6 331.5L630.8 328.3L625.9 324.7Z" fill="#00f1ff" stroke="#00f1ff"/>
<path d="M625.9 324.7L630.8 328.3L632.9 325.1L628.1 321.5Z" fill="#00f4ff" stroke="#00f4ff"/>
<path d="M628.1 321.5L632.9 325.1L635.1 322L630.3 318.4Z" fill="#00f6ff" stroke="#00f6ff"/>
<path d="M630.3 318.4L635.1 322L637.2 318.9L632.4 315.3Z" fill="#00f9ff" stroke="#00f9ff"/>
<path d="M632.4 315.3L637.2 318.9L639.2 315.8L634.5 312.3Z" fill="#00fcff" stroke="#00fcff"/>
<path d="M634.5 312.3L639.2 315.8L641.3 312.8L636.6 309.3Z" fill="#00ffff" stroke="#00ffff"/>
<path d="M636.6 309.3L641.3 312.8L643.4 309.7L638.7 306.3Z" fill="#00fffc" stroke="#00fffc"/>
<path d="M597.9 376.8L603.2 380.9L605.7 377.1L600.4 373.1Z" fill="#00a7ff" stroke="#00a7ff"/>
<path d="M600.4 373.1L605.7 377.1L608.2 373.4L602.9 369.4Z" fill="#00aaff" stroke="#00aaff"/>
<path d="M602.9 369.4L608.2 373.4L610.6 369.7L605.4 365.7Z" fill="#00adff" stroke="#00adff"/>
<path d="M605.4 365.7L610.6 369.7L613 366.1L607.8 362.1Z" fill="#00b0ff" stroke="#00b0ff"/>
<path d="M607.8 362.1L613 366.1L615.4 362.5L610.3 358.6Z" fill="#00b2ff" stroke="#00b2ff"/>
<path d="M610.3 358.6L615.4 362.5L617.7 358.9L612.6 355.1Z" fill="#00b5ff" stroke="#00b5ff"/>
<path d="M612.6 355.1L617.7 358.9L620.1 355.4L615 351.6Z" fill="#00b8ff" stroke="#00b8ff"/>
<path d="M615 351.6L620.1 355.4L622.4 351.9L617.3 348.1Z" fill="#00bbff" stroke="#00bbff"/>
<path d="M617.3 348.1L622.4 351.9L624.6 348.5L619.6 344.7Z" fill="#00beff" stroke="#00beff"/>
<path d="M619.6 344.7L624.6 348.5L626.9 345.1L621.9 341.4Z" fill="#00c1ff" stroke="#00c1ff"/>
<path d="M621.9 341.4L626.9 345.1L629.1 341.8L624.2 338.1Z" fill="#00c3ff" stroke="#00c3ff"/>
<path d="M624.2 338.1L629.1 341.8L631.3 338.5L626.4 334.8Z" fill="#00c6ff" stroke="#00c6ff"/>
<path d="M626.4 334.8L631.3 338.5L633.5 335.2L628.6 331.5Z" fill="#00c9ff" stroke="#00c9ff"/>
<path d="M628.6 331.5L633.5 335.2L635.6 331.9L630.8 328.3Z" fill="#00ccff" stroke="#00ccff"/>
<path d="M630.8 328.3L635.6 331.9L637.7 328.7L632.9 325.1Z" fill="#00cfff" stroke="#00cfff"/>
<path d="M632.9 325.1L637.7 328.7L639.8 325.6L635.1 322Z" fill="#00d2ff" stroke="#00d2ff"/>
<path d="M635.1 322L639.8 325.6L641.9 322.4L637.2 318.9Z" fill="#00d4ff" stroke="#00d4ff"/>
<path d="M637.2 318.9L641.9 322.4L644 319.3L639.2 315.8Z" fill="#00d7ff" stroke="#00d7ff"/>
<path d="M639.2 315.8L644 319.3L646 316.3L641.3 312.8Z" fill="#00daff" stroke="#00daff"/>
<path d="M641.3 312.8L646 316.3L648 313.2L643.4 309.7Z" fill="#00ddff" stroke="#00ddff"/>
<path d="M603.2 380.9L608.5 384.9L611 381.1L605.7 377.1Z" fill="#0082ff" stroke="#0082ff"/>
<path d="M605.7 377.1L611 381.1L613.4 377.3L608.2 373.4Z" fill="#0085ff" stroke="#0085ff"/>
<path d="M608.2 373.4L613.4 377.3L615.8 373.6L610.6 369.7Z" fill="#0088ff" stroke="#0088ff"/>
<path d="M610.6 369.7L615.8 373.6L618.2 370L613 366.1Z" fill="#008bff" stroke="#008bff"/>
<path d="M613 366.1L618.2 370L620.5 366.3L615.4 362.5Z" fill="#008eff" stroke="#008eff"/>
<path d="M615.4 362.5L620.5 366.3L622.8 362.8L617.7 358.9Z" fill="#0090ff" stroke="#0090ff"/>
<path d="M617.7 358.9L622.8 362.8L625.1 359.2L620.1 355.4Z" fill="#0093ff" stroke="#0093ff"/>
<path d="M620.1 355.4L625.1 359.2L627.4 355.7L622.4 351.9Z" fill="#0096ff" stroke="#0096ff"/>
<path d="M622.4 351.9L627.4 355.7L629.6 352.3L624.6 348.5Z" fill="#0099ff" stroke="#0099ff"/>
<path d="M624.6 348.5L629.6 352.3L631.9 348.9L626.9 345.1Z" fill="#009cff" stroke="#009cff"/>
<path d="M626.9 345.1L631.9 348.9L634 345.5L629.1 341.8Z" fill="#009fff" stroke="#009fff"/>
<path d="M629.1 341.8L634 345.5L636.2 342.1L631.3 338.5Z" fill="#00a1ff" stroke="#00a1ff"/>
<path d="M631.3 338.5L636.2 342.1L638.4 338.8L633.5 335.2Z" fill="#00a4ff" stroke="#00a4ff"/>
<path d="M633.5 335.2L638.4 338.8L640.5 335.6L635.6 331.9Z" fill="#00a7ff" stroke="#00a7ff"/>
<path d="M635.6 331.9L640.5 335.6L642.6 332.3L637.7 328.7Z" fill="#00aaff" stroke="#00aaff"/>
<path d="M637.7 328.7L642.6 332.3L644.6 329.1L639.8 325.6Z" fill="#00adff" stroke="#00adff"/>
<path d="M639.8 325.6L644.6 329.1L646.7 326L641.9 322.4Z" fill="#00b0ff" stroke="#00b0ff"/>
<path d="M641.9 322.4L646.7 326L648.7 322.9L644 319.3Z" fill="#00b2ff" stroke="#00b2ff"/>
<path d="M644 319.3L648.7 322.9L650.7 319.8L646 316.3Z" fill="#00b5ff" stroke="#00b5ff"/>
<path d="M646 316.3L650.7 319.8L652.7 316.7L648 313.2Z" fill="#00b8ff" stroke="#00b8ff"/>
</g>
<path d="M503.6 305.2L533.5 274.9L560.2 247.8M508.8 309.1L538.3 278.5L564.8 251.2M514 313.1L543.2 282.2L569.4 254.6M519.2 317L548.1 285.9L573.9 258M524.4 321L553 289.5L578.5 261.5M529.6 324.9L557.9 293.2L583.1 264.9M534.8 328.9L562.7 296.9L587.7 268.3M540 332.9L567.6 300.6L592.3 271.7M545.2 336.8L572.5 304.3L596.9 275.2M550.5 340.8L577.5 307.9L601.6 278.6M555.7 344.8L582.4 311.6L606.2 282.1M561 348.8L587.3 315.3L610.8 285.5M566.2 352.8L592.2 319.1L615.4 288.9M571.5 356.8L597.2 322.8L620.1 292.4M576.7 360.8L602.1 326.5L624.7 295.9M582 364.8L607 330.2L629.4 299.3M587.3 368.8L612 333.9L634 302.8M592.6 372.8L616.9 337.6L638.7 306.3M597.9 376.8L621.9 341.4L643.4 309.7M603.2 380.9L626.9 345.1L648 313.2M608.5 384.9L631.9 348.9L652.7 316.7M503.6 305.2L555.7 344.8L608.5 384.9M506.8 302L558.5 341.3L611 381.1M509.9 298.8L561.3 337.8L613.4 377.3M512.9 295.7L564 334.4L615.8 373.6M516 292.6L566.8 331.1L618.2 370M519 289.6L569.4 327.7L620.5 366.3M522 286.6L572.1 324.4L622.8 362.8M524.9 283.6L574.7 321.2L625.1 359.2M527.8 280.7L577.3 318L627.4 355.7M530.7 277.8L579.8 314.8L629.6 352.3M533.5 274.9L582.4 311.6L631.9 348.9M536.3 272L584.9 308.5L634 345.5M539.1 269.2L587.3 305.5L636.2 342.1M541.8 266.5L589.8 302.4L638.4 338.8M544.5 263.7L592.2 299.4L640.5 335.6M547.2 261L594.6 296.4L642.6 332.3M549.9 258.3L597 293.5L644.6 329.1M552.5 255.6L599.3 290.6L646.7 326M555.1 253L601.6 287.7L648.7 322.9M557.7 250.4L603.9 284.9L650.7 319.8M560.2 247.8L606.2 282.1L652.7 316.7" fill="none" stroke="#181818" stroke-width="0.36"/>
<circle cx="503.3" cy="302.1" r="1.4" fill="#c40000" stroke="#6e0000" stroke-width="0.5"/>
<circle cx="608.8" cy="381.7" r="1.4" fill="#c40000" stroke="#6e0000" stroke-width="0.5"/>
<circle cx="653.4" cy="314.4" r="1.4" fill="#c40000" stroke="#6e0000" stroke-width="0.5"/>
<circle cx="582.8" cy="307.1" r="1.4" fill="#c40000" stroke="#6e0000" stroke-width="0.5"/>
<text x="499.6" y="290" font-size="3.7" text-anchor="end" fill="#202020">90</text>
<text x="500.9" y="303.6" font-size="3.7" text-anchor="end" fill="#202020">85</text>
<text x="502.6" y="316.9" font-size="3.7" text-anchor="end" fill="#202020">80</text>
<text x="504" y="330" font-size="3.7" text-anchor="end" fill="#202020">75</text>
<text x="505.4" y="343.7" font-size="3.7" text-anchor="end" fill="#202020">70</text>
<text x="506.8" y="357" font-size="3.7" text-anchor="end" fill="#202020">65</text>
<text x="477.5" y="337.3" font-size="3.8" text-anchor="middle" fill="#202020" transform="rotate(90 477.5 337.3)" textLength="11.6" lengthAdjust="spacingAndGlyphs">EE (%)</text>
<text x="504.7" y="381.2" font-size="3.7" text-anchor="middle" fill="#202020">0.8</text>
<text x="529.8" y="391" font-size="3.7" text-anchor="middle" fill="#202020">0.7</text>
<text x="554.7" y="400.3" font-size="3.7" text-anchor="middle" fill="#202020">0.6</text>
<text x="578.7" y="409.2" font-size="3.7" text-anchor="middle" fill="#202020">0.5</text>
<text x="602.4" y="417.8" font-size="3.7" text-anchor="middle" fill="#202020">0.4</text>
<text x="652.4" y="351.2" font-size="3.7" text-anchor="start" fill="#202020">3000</text>
<text x="642.4" y="368.1" font-size="3.7" text-anchor="start" fill="#202020">3500</text>
<text x="631.6" y="384.9" font-size="3.7" text-anchor="start" fill="#202020">4000</text>
<text x="620.5" y="401.5" font-size="3.7" text-anchor="start" fill="#202020">4500</text>
<text x="609.2" y="417.8" font-size="3.7" text-anchor="start" fill="#202020">5000</text>
<text x="518.2" y="420.8" font-size="3.8" text-anchor="start" fill="#202020" textLength="45.8" lengthAdjust="spacingAndGlyphs">A: Molar ratio( P : CL) (mg)</text>
<text x="640" y="393.5" font-size="3.8" text-anchor="start" fill="#202020" textLength="41" lengthAdjust="spacingAndGlyphs">B: Stirring Speed (RPM)</text>
</svg>
</body></html>
